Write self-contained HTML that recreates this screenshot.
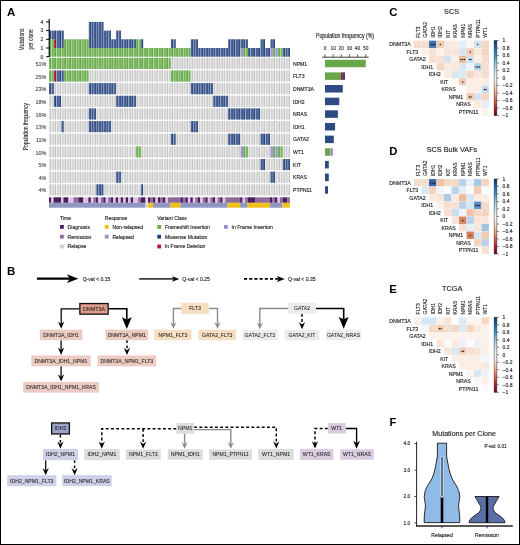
<!DOCTYPE html>
<html><head><meta charset="utf-8"><style>
html,body{margin:0;padding:0;background:#fff;}
svg{display:block;}
text{font-family:"Liberation Sans", sans-serif;}
</style></head><body>
<div style="will-change:transform;width:520px;height:545px">
<svg width="520" height="545" viewBox="0 0 520 545" font-family='"Liberation Sans", sans-serif'>
<rect width="520" height="545" fill="#fff"/>
<rect x="49.000" y="57.800" width="2.038" height="11.150" fill="#7bb663"/>
<rect x="50.438" y="57.800" width="0.600" height="11.150" fill="#52a02c"/>
<rect x="51.488" y="57.800" width="2.038" height="11.150" fill="#7bb663"/>
<rect x="52.926" y="57.800" width="0.600" height="11.150" fill="#52a02c"/>
<rect x="53.976" y="57.800" width="2.038" height="11.150" fill="#7bb663"/>
<rect x="55.414" y="57.800" width="0.600" height="11.150" fill="#52a02c"/>
<rect x="56.464" y="57.800" width="2.038" height="11.150" fill="#7bb663"/>
<rect x="57.902" y="57.800" width="0.600" height="11.150" fill="#52a02c"/>
<rect x="58.952" y="57.800" width="2.038" height="11.150" fill="#7bb663"/>
<rect x="60.390" y="57.800" width="0.600" height="11.150" fill="#52a02c"/>
<rect x="61.440" y="57.800" width="2.038" height="11.150" fill="#7bb663"/>
<rect x="62.878" y="57.800" width="0.600" height="11.150" fill="#52a02c"/>
<rect x="63.928" y="57.800" width="2.038" height="11.150" fill="#7bb663"/>
<rect x="65.366" y="57.800" width="0.600" height="11.150" fill="#52a02c"/>
<rect x="66.416" y="57.800" width="2.038" height="11.150" fill="#7bb663"/>
<rect x="67.854" y="57.800" width="0.600" height="11.150" fill="#52a02c"/>
<rect x="68.904" y="57.800" width="2.038" height="11.150" fill="#7bb663"/>
<rect x="70.342" y="57.800" width="0.600" height="11.150" fill="#52a02c"/>
<rect x="71.392" y="57.800" width="2.038" height="11.150" fill="#7bb663"/>
<rect x="72.830" y="57.800" width="0.600" height="11.150" fill="#52a02c"/>
<rect x="73.880" y="57.800" width="2.038" height="11.150" fill="#7bb663"/>
<rect x="75.318" y="57.800" width="0.600" height="11.150" fill="#52a02c"/>
<rect x="76.368" y="57.800" width="2.038" height="11.150" fill="#7bb663"/>
<rect x="77.806" y="57.800" width="0.600" height="11.150" fill="#52a02c"/>
<rect x="78.856" y="57.800" width="2.038" height="11.150" fill="#7bb663"/>
<rect x="80.294" y="57.800" width="0.600" height="11.150" fill="#52a02c"/>
<rect x="81.344" y="57.800" width="2.038" height="11.150" fill="#7bb663"/>
<rect x="82.782" y="57.800" width="0.600" height="11.150" fill="#52a02c"/>
<rect x="83.832" y="57.800" width="2.038" height="11.150" fill="#7bb663"/>
<rect x="85.270" y="57.800" width="0.600" height="11.150" fill="#52a02c"/>
<rect x="86.320" y="57.800" width="2.038" height="11.150" fill="#7bb663"/>
<rect x="87.758" y="57.800" width="0.600" height="11.150" fill="#52a02c"/>
<rect x="88.808" y="57.800" width="2.038" height="11.150" fill="#7bb663"/>
<rect x="90.246" y="57.800" width="0.600" height="11.150" fill="#52a02c"/>
<rect x="91.296" y="57.800" width="2.038" height="11.150" fill="#7bb663"/>
<rect x="92.734" y="57.800" width="0.600" height="11.150" fill="#52a02c"/>
<rect x="93.784" y="57.800" width="2.038" height="11.150" fill="#7bb663"/>
<rect x="95.222" y="57.800" width="0.600" height="11.150" fill="#52a02c"/>
<rect x="96.272" y="57.800" width="2.038" height="11.150" fill="#7bb663"/>
<rect x="97.710" y="57.800" width="0.600" height="11.150" fill="#52a02c"/>
<rect x="98.760" y="57.800" width="2.038" height="11.150" fill="#7bb663"/>
<rect x="100.198" y="57.800" width="0.600" height="11.150" fill="#52a02c"/>
<rect x="101.248" y="57.800" width="2.038" height="11.150" fill="#7bb663"/>
<rect x="102.686" y="57.800" width="0.600" height="11.150" fill="#52a02c"/>
<rect x="103.736" y="57.800" width="2.038" height="11.150" fill="#7bb663"/>
<rect x="105.174" y="57.800" width="0.600" height="11.150" fill="#52a02c"/>
<rect x="106.224" y="57.800" width="2.038" height="11.150" fill="#7bb663"/>
<rect x="107.662" y="57.800" width="0.600" height="11.150" fill="#52a02c"/>
<rect x="108.712" y="57.800" width="2.038" height="11.150" fill="#7bb663"/>
<rect x="110.150" y="57.800" width="0.600" height="11.150" fill="#52a02c"/>
<rect x="111.200" y="57.800" width="2.038" height="11.150" fill="#7bb663"/>
<rect x="112.638" y="57.800" width="0.600" height="11.150" fill="#52a02c"/>
<rect x="113.688" y="57.800" width="2.038" height="11.150" fill="#7bb663"/>
<rect x="115.126" y="57.800" width="0.600" height="11.150" fill="#52a02c"/>
<rect x="116.176" y="57.800" width="2.038" height="11.150" fill="#7bb663"/>
<rect x="117.614" y="57.800" width="0.600" height="11.150" fill="#52a02c"/>
<rect x="118.664" y="57.800" width="2.038" height="11.150" fill="#7bb663"/>
<rect x="120.102" y="57.800" width="0.600" height="11.150" fill="#52a02c"/>
<rect x="121.152" y="57.800" width="2.038" height="11.150" fill="#7bb663"/>
<rect x="122.590" y="57.800" width="0.600" height="11.150" fill="#52a02c"/>
<rect x="123.640" y="57.800" width="2.038" height="11.150" fill="#7bb663"/>
<rect x="125.078" y="57.800" width="0.600" height="11.150" fill="#52a02c"/>
<rect x="126.128" y="57.800" width="2.038" height="11.150" fill="#7bb663"/>
<rect x="127.566" y="57.800" width="0.600" height="11.150" fill="#52a02c"/>
<rect x="128.616" y="57.800" width="2.038" height="11.150" fill="#7bb663"/>
<rect x="130.054" y="57.800" width="0.600" height="11.150" fill="#52a02c"/>
<rect x="131.104" y="57.800" width="2.038" height="11.150" fill="#7bb663"/>
<rect x="132.542" y="57.800" width="0.600" height="11.150" fill="#52a02c"/>
<rect x="133.592" y="57.800" width="2.038" height="11.150" fill="#7bb663"/>
<rect x="135.030" y="57.800" width="0.600" height="11.150" fill="#52a02c"/>
<rect x="136.080" y="57.800" width="2.038" height="11.150" fill="#7bb663"/>
<rect x="137.518" y="57.800" width="0.600" height="11.150" fill="#52a02c"/>
<rect x="138.568" y="57.800" width="2.038" height="11.150" fill="#7bb663"/>
<rect x="140.006" y="57.800" width="0.600" height="11.150" fill="#52a02c"/>
<rect x="141.056" y="57.800" width="2.038" height="11.150" fill="#7bb663"/>
<rect x="142.494" y="57.800" width="0.600" height="11.150" fill="#52a02c"/>
<rect x="143.544" y="57.800" width="2.038" height="11.150" fill="#7bb663"/>
<rect x="144.982" y="57.800" width="0.600" height="11.150" fill="#52a02c"/>
<rect x="146.032" y="57.800" width="2.038" height="11.150" fill="#7bb663"/>
<rect x="147.470" y="57.800" width="0.600" height="11.150" fill="#52a02c"/>
<rect x="148.520" y="57.800" width="2.038" height="11.150" fill="#7bb663"/>
<rect x="149.958" y="57.800" width="0.600" height="11.150" fill="#52a02c"/>
<rect x="151.008" y="57.800" width="2.038" height="11.150" fill="#7bb663"/>
<rect x="152.446" y="57.800" width="0.600" height="11.150" fill="#52a02c"/>
<rect x="153.496" y="57.800" width="2.038" height="11.150" fill="#7bb663"/>
<rect x="154.934" y="57.800" width="0.600" height="11.150" fill="#52a02c"/>
<rect x="155.984" y="57.800" width="2.038" height="11.150" fill="#7bb663"/>
<rect x="157.422" y="57.800" width="0.600" height="11.150" fill="#52a02c"/>
<rect x="158.472" y="57.800" width="2.038" height="11.150" fill="#7bb663"/>
<rect x="159.910" y="57.800" width="0.600" height="11.150" fill="#52a02c"/>
<rect x="160.960" y="57.800" width="2.038" height="11.150" fill="#7bb663"/>
<rect x="162.398" y="57.800" width="0.600" height="11.150" fill="#52a02c"/>
<rect x="163.448" y="57.800" width="2.038" height="11.150" fill="#7bb663"/>
<rect x="164.886" y="57.800" width="0.600" height="11.150" fill="#52a02c"/>
<rect x="165.936" y="57.800" width="2.038" height="11.150" fill="#7bb663"/>
<rect x="167.374" y="57.800" width="0.600" height="11.150" fill="#52a02c"/>
<rect x="168.424" y="57.800" width="2.038" height="11.150" fill="#7bb663"/>
<rect x="169.862" y="57.800" width="0.600" height="11.150" fill="#52a02c"/>
<rect x="170.912" y="57.800" width="2.038" height="11.150" fill="#dfdfdf"/>
<rect x="172.150" y="57.800" width="0.800" height="11.150" fill="#c0c0c0"/>
<rect x="173.400" y="57.800" width="2.038" height="11.150" fill="#dfdfdf"/>
<rect x="174.638" y="57.800" width="0.800" height="11.150" fill="#c0c0c0"/>
<rect x="175.888" y="57.800" width="2.038" height="11.150" fill="#dfdfdf"/>
<rect x="177.126" y="57.800" width="0.800" height="11.150" fill="#c0c0c0"/>
<rect x="178.376" y="57.800" width="2.038" height="11.150" fill="#dfdfdf"/>
<rect x="179.614" y="57.800" width="0.800" height="11.150" fill="#c0c0c0"/>
<rect x="180.864" y="57.800" width="2.038" height="11.150" fill="#dfdfdf"/>
<rect x="182.102" y="57.800" width="0.800" height="11.150" fill="#c0c0c0"/>
<rect x="183.352" y="57.800" width="2.038" height="11.150" fill="#dfdfdf"/>
<rect x="184.590" y="57.800" width="0.800" height="11.150" fill="#c0c0c0"/>
<rect x="185.840" y="57.800" width="2.038" height="11.150" fill="#dfdfdf"/>
<rect x="187.078" y="57.800" width="0.800" height="11.150" fill="#c0c0c0"/>
<rect x="188.328" y="57.800" width="2.038" height="11.150" fill="#dfdfdf"/>
<rect x="189.566" y="57.800" width="0.800" height="11.150" fill="#c0c0c0"/>
<rect x="190.816" y="57.800" width="2.038" height="11.150" fill="#dfdfdf"/>
<rect x="192.054" y="57.800" width="0.800" height="11.150" fill="#c0c0c0"/>
<rect x="193.304" y="57.800" width="2.038" height="11.150" fill="#dfdfdf"/>
<rect x="194.542" y="57.800" width="0.800" height="11.150" fill="#c0c0c0"/>
<rect x="195.792" y="57.800" width="2.038" height="11.150" fill="#dfdfdf"/>
<rect x="197.030" y="57.800" width="0.800" height="11.150" fill="#c0c0c0"/>
<rect x="198.280" y="57.800" width="2.038" height="11.150" fill="#dfdfdf"/>
<rect x="199.518" y="57.800" width="0.800" height="11.150" fill="#c0c0c0"/>
<rect x="200.768" y="57.800" width="2.038" height="11.150" fill="#dfdfdf"/>
<rect x="202.006" y="57.800" width="0.800" height="11.150" fill="#c0c0c0"/>
<rect x="203.256" y="57.800" width="2.038" height="11.150" fill="#dfdfdf"/>
<rect x="204.494" y="57.800" width="0.800" height="11.150" fill="#c0c0c0"/>
<rect x="205.744" y="57.800" width="2.038" height="11.150" fill="#dfdfdf"/>
<rect x="206.982" y="57.800" width="0.800" height="11.150" fill="#c0c0c0"/>
<rect x="208.232" y="57.800" width="2.038" height="11.150" fill="#dfdfdf"/>
<rect x="209.470" y="57.800" width="0.800" height="11.150" fill="#c0c0c0"/>
<rect x="210.720" y="57.800" width="2.038" height="11.150" fill="#dfdfdf"/>
<rect x="211.958" y="57.800" width="0.800" height="11.150" fill="#c0c0c0"/>
<rect x="213.208" y="57.800" width="2.038" height="11.150" fill="#dfdfdf"/>
<rect x="214.446" y="57.800" width="0.800" height="11.150" fill="#c0c0c0"/>
<rect x="215.696" y="57.800" width="2.038" height="11.150" fill="#dfdfdf"/>
<rect x="216.934" y="57.800" width="0.800" height="11.150" fill="#c0c0c0"/>
<rect x="218.184" y="57.800" width="2.038" height="11.150" fill="#dfdfdf"/>
<rect x="219.422" y="57.800" width="0.800" height="11.150" fill="#c0c0c0"/>
<rect x="220.672" y="57.800" width="2.038" height="11.150" fill="#dfdfdf"/>
<rect x="221.910" y="57.800" width="0.800" height="11.150" fill="#c0c0c0"/>
<rect x="223.160" y="57.800" width="2.038" height="11.150" fill="#dfdfdf"/>
<rect x="224.398" y="57.800" width="0.800" height="11.150" fill="#c0c0c0"/>
<rect x="225.648" y="57.800" width="2.038" height="11.150" fill="#dfdfdf"/>
<rect x="226.886" y="57.800" width="0.800" height="11.150" fill="#c0c0c0"/>
<rect x="228.136" y="57.800" width="2.038" height="11.150" fill="#dfdfdf"/>
<rect x="229.374" y="57.800" width="0.800" height="11.150" fill="#c0c0c0"/>
<rect x="230.624" y="57.800" width="2.038" height="11.150" fill="#dfdfdf"/>
<rect x="231.862" y="57.800" width="0.800" height="11.150" fill="#c0c0c0"/>
<rect x="233.112" y="57.800" width="2.038" height="11.150" fill="#dfdfdf"/>
<rect x="234.350" y="57.800" width="0.800" height="11.150" fill="#c0c0c0"/>
<rect x="235.600" y="57.800" width="2.038" height="11.150" fill="#dfdfdf"/>
<rect x="236.838" y="57.800" width="0.800" height="11.150" fill="#c0c0c0"/>
<rect x="238.088" y="57.800" width="2.038" height="11.150" fill="#dfdfdf"/>
<rect x="239.326" y="57.800" width="0.800" height="11.150" fill="#c0c0c0"/>
<rect x="240.576" y="57.800" width="2.038" height="11.150" fill="#dfdfdf"/>
<rect x="241.814" y="57.800" width="0.800" height="11.150" fill="#c0c0c0"/>
<rect x="243.064" y="57.800" width="2.038" height="11.150" fill="#dfdfdf"/>
<rect x="244.302" y="57.800" width="0.800" height="11.150" fill="#c0c0c0"/>
<rect x="245.552" y="57.800" width="2.038" height="11.150" fill="#dfdfdf"/>
<rect x="246.790" y="57.800" width="0.800" height="11.150" fill="#c0c0c0"/>
<rect x="248.040" y="57.800" width="2.038" height="11.150" fill="#dfdfdf"/>
<rect x="249.278" y="57.800" width="0.800" height="11.150" fill="#c0c0c0"/>
<rect x="250.528" y="57.800" width="2.038" height="11.150" fill="#dfdfdf"/>
<rect x="251.766" y="57.800" width="0.800" height="11.150" fill="#c0c0c0"/>
<rect x="253.016" y="57.800" width="2.038" height="11.150" fill="#dfdfdf"/>
<rect x="254.254" y="57.800" width="0.800" height="11.150" fill="#c0c0c0"/>
<rect x="255.504" y="57.800" width="2.038" height="11.150" fill="#dfdfdf"/>
<rect x="256.742" y="57.800" width="0.800" height="11.150" fill="#c0c0c0"/>
<rect x="257.992" y="57.800" width="2.038" height="11.150" fill="#dfdfdf"/>
<rect x="259.230" y="57.800" width="0.800" height="11.150" fill="#c0c0c0"/>
<rect x="260.480" y="57.800" width="2.038" height="11.150" fill="#dfdfdf"/>
<rect x="261.718" y="57.800" width="0.800" height="11.150" fill="#c0c0c0"/>
<rect x="262.968" y="57.800" width="2.038" height="11.150" fill="#dfdfdf"/>
<rect x="264.206" y="57.800" width="0.800" height="11.150" fill="#c0c0c0"/>
<rect x="265.456" y="57.800" width="2.038" height="11.150" fill="#dfdfdf"/>
<rect x="266.694" y="57.800" width="0.800" height="11.150" fill="#c0c0c0"/>
<rect x="267.944" y="57.800" width="2.038" height="11.150" fill="#dfdfdf"/>
<rect x="269.182" y="57.800" width="0.800" height="11.150" fill="#c0c0c0"/>
<rect x="270.432" y="57.800" width="2.038" height="11.150" fill="#dfdfdf"/>
<rect x="271.670" y="57.800" width="0.800" height="11.150" fill="#c0c0c0"/>
<rect x="272.920" y="57.800" width="2.038" height="11.150" fill="#dfdfdf"/>
<rect x="274.158" y="57.800" width="0.800" height="11.150" fill="#c0c0c0"/>
<rect x="275.408" y="57.800" width="2.038" height="11.150" fill="#dfdfdf"/>
<rect x="276.646" y="57.800" width="0.800" height="11.150" fill="#c0c0c0"/>
<rect x="277.896" y="57.800" width="2.038" height="11.150" fill="#dfdfdf"/>
<rect x="279.134" y="57.800" width="0.800" height="11.150" fill="#c0c0c0"/>
<rect x="280.384" y="57.800" width="2.038" height="11.150" fill="#dfdfdf"/>
<rect x="281.622" y="57.800" width="0.800" height="11.150" fill="#c0c0c0"/>
<rect x="282.872" y="57.800" width="2.038" height="11.150" fill="#dfdfdf"/>
<rect x="284.110" y="57.800" width="0.800" height="11.150" fill="#c0c0c0"/>
<rect x="285.360" y="57.800" width="2.038" height="11.150" fill="#dfdfdf"/>
<rect x="286.598" y="57.800" width="0.800" height="11.150" fill="#c0c0c0"/>
<rect x="287.848" y="57.800" width="2.038" height="11.150" fill="#dfdfdf"/>
<rect x="289.086" y="57.800" width="0.800" height="11.150" fill="#c0c0c0"/>
<rect x="49.000" y="70.450" width="2.038" height="11.150" fill="#7bb663"/>
<rect x="50.438" y="70.450" width="0.600" height="11.150" fill="#52a02c"/>
<rect x="51.488" y="70.450" width="2.038" height="11.150" fill="#7bb663"/>
<rect x="52.926" y="70.450" width="0.600" height="11.150" fill="#52a02c"/>
<rect x="53.976" y="70.450" width="2.038" height="11.150" fill="#b8304f"/>
<rect x="55.414" y="70.450" width="0.600" height="11.150" fill="#900c2c"/>
<rect x="56.464" y="70.450" width="2.038" height="11.150" fill="#4d6699"/>
<rect x="57.902" y="70.450" width="0.600" height="11.150" fill="#17326c"/>
<rect x="58.952" y="70.450" width="2.038" height="11.150" fill="#4d6699"/>
<rect x="60.390" y="70.450" width="0.600" height="11.150" fill="#17326c"/>
<rect x="61.440" y="70.450" width="2.038" height="11.150" fill="#4d6699"/>
<rect x="62.878" y="70.450" width="0.600" height="11.150" fill="#17326c"/>
<rect x="63.928" y="70.450" width="2.038" height="11.150" fill="#7bb663"/>
<rect x="65.366" y="70.450" width="0.600" height="11.150" fill="#52a02c"/>
<rect x="66.416" y="70.450" width="2.038" height="11.150" fill="#7bb663"/>
<rect x="67.854" y="70.450" width="0.600" height="11.150" fill="#52a02c"/>
<rect x="68.904" y="70.450" width="2.038" height="11.150" fill="#7bb663"/>
<rect x="70.342" y="70.450" width="0.600" height="11.150" fill="#52a02c"/>
<rect x="71.392" y="70.450" width="2.038" height="11.150" fill="#7bb663"/>
<rect x="72.830" y="70.450" width="0.600" height="11.150" fill="#52a02c"/>
<rect x="73.880" y="70.450" width="2.038" height="11.150" fill="#7bb663"/>
<rect x="75.318" y="70.450" width="0.600" height="11.150" fill="#52a02c"/>
<rect x="76.368" y="70.450" width="2.038" height="11.150" fill="#7bb663"/>
<rect x="77.806" y="70.450" width="0.600" height="11.150" fill="#52a02c"/>
<rect x="78.856" y="70.450" width="2.038" height="11.150" fill="#7bb663"/>
<rect x="80.294" y="70.450" width="0.600" height="11.150" fill="#52a02c"/>
<rect x="81.344" y="70.450" width="2.038" height="11.150" fill="#7bb663"/>
<rect x="82.782" y="70.450" width="0.600" height="11.150" fill="#52a02c"/>
<rect x="83.832" y="70.450" width="2.038" height="11.150" fill="#7bb663"/>
<rect x="85.270" y="70.450" width="0.600" height="11.150" fill="#52a02c"/>
<rect x="86.320" y="70.450" width="2.038" height="11.150" fill="#7bb663"/>
<rect x="87.758" y="70.450" width="0.600" height="11.150" fill="#52a02c"/>
<rect x="88.808" y="70.450" width="2.038" height="11.150" fill="#dfdfdf"/>
<rect x="90.046" y="70.450" width="0.800" height="11.150" fill="#c0c0c0"/>
<rect x="91.296" y="70.450" width="2.038" height="11.150" fill="#dfdfdf"/>
<rect x="92.534" y="70.450" width="0.800" height="11.150" fill="#c0c0c0"/>
<rect x="93.784" y="70.450" width="2.038" height="11.150" fill="#dfdfdf"/>
<rect x="95.022" y="70.450" width="0.800" height="11.150" fill="#c0c0c0"/>
<rect x="96.272" y="70.450" width="2.038" height="11.150" fill="#dfdfdf"/>
<rect x="97.510" y="70.450" width="0.800" height="11.150" fill="#c0c0c0"/>
<rect x="98.760" y="70.450" width="2.038" height="11.150" fill="#dfdfdf"/>
<rect x="99.998" y="70.450" width="0.800" height="11.150" fill="#c0c0c0"/>
<rect x="101.248" y="70.450" width="2.038" height="11.150" fill="#dfdfdf"/>
<rect x="102.486" y="70.450" width="0.800" height="11.150" fill="#c0c0c0"/>
<rect x="103.736" y="70.450" width="2.038" height="11.150" fill="#dfdfdf"/>
<rect x="104.974" y="70.450" width="0.800" height="11.150" fill="#c0c0c0"/>
<rect x="106.224" y="70.450" width="2.038" height="11.150" fill="#dfdfdf"/>
<rect x="107.462" y="70.450" width="0.800" height="11.150" fill="#c0c0c0"/>
<rect x="108.712" y="70.450" width="2.038" height="11.150" fill="#dfdfdf"/>
<rect x="109.950" y="70.450" width="0.800" height="11.150" fill="#c0c0c0"/>
<rect x="111.200" y="70.450" width="2.038" height="11.150" fill="#dfdfdf"/>
<rect x="112.438" y="70.450" width="0.800" height="11.150" fill="#c0c0c0"/>
<rect x="113.688" y="70.450" width="2.038" height="11.150" fill="#dfdfdf"/>
<rect x="114.926" y="70.450" width="0.800" height="11.150" fill="#c0c0c0"/>
<rect x="116.176" y="70.450" width="2.038" height="11.150" fill="#dfdfdf"/>
<rect x="117.414" y="70.450" width="0.800" height="11.150" fill="#c0c0c0"/>
<rect x="118.664" y="70.450" width="2.038" height="11.150" fill="#dfdfdf"/>
<rect x="119.902" y="70.450" width="0.800" height="11.150" fill="#c0c0c0"/>
<rect x="121.152" y="70.450" width="2.038" height="11.150" fill="#dfdfdf"/>
<rect x="122.390" y="70.450" width="0.800" height="11.150" fill="#c0c0c0"/>
<rect x="123.640" y="70.450" width="2.038" height="11.150" fill="#dfdfdf"/>
<rect x="124.878" y="70.450" width="0.800" height="11.150" fill="#c0c0c0"/>
<rect x="126.128" y="70.450" width="2.038" height="11.150" fill="#dfdfdf"/>
<rect x="127.366" y="70.450" width="0.800" height="11.150" fill="#c0c0c0"/>
<rect x="128.616" y="70.450" width="2.038" height="11.150" fill="#dfdfdf"/>
<rect x="129.854" y="70.450" width="0.800" height="11.150" fill="#c0c0c0"/>
<rect x="131.104" y="70.450" width="2.038" height="11.150" fill="#dfdfdf"/>
<rect x="132.342" y="70.450" width="0.800" height="11.150" fill="#c0c0c0"/>
<rect x="133.592" y="70.450" width="2.038" height="11.150" fill="#dfdfdf"/>
<rect x="134.830" y="70.450" width="0.800" height="11.150" fill="#c0c0c0"/>
<rect x="136.080" y="70.450" width="2.038" height="11.150" fill="#dfdfdf"/>
<rect x="137.318" y="70.450" width="0.800" height="11.150" fill="#c0c0c0"/>
<rect x="138.568" y="70.450" width="2.038" height="11.150" fill="#dfdfdf"/>
<rect x="139.806" y="70.450" width="0.800" height="11.150" fill="#c0c0c0"/>
<rect x="141.056" y="70.450" width="2.038" height="11.150" fill="#dfdfdf"/>
<rect x="142.294" y="70.450" width="0.800" height="11.150" fill="#c0c0c0"/>
<rect x="143.544" y="70.450" width="2.038" height="11.150" fill="#dfdfdf"/>
<rect x="144.782" y="70.450" width="0.800" height="11.150" fill="#c0c0c0"/>
<rect x="146.032" y="70.450" width="2.038" height="11.150" fill="#dfdfdf"/>
<rect x="147.270" y="70.450" width="0.800" height="11.150" fill="#c0c0c0"/>
<rect x="148.520" y="70.450" width="2.038" height="11.150" fill="#dfdfdf"/>
<rect x="149.758" y="70.450" width="0.800" height="11.150" fill="#c0c0c0"/>
<rect x="151.008" y="70.450" width="2.038" height="11.150" fill="#dfdfdf"/>
<rect x="152.246" y="70.450" width="0.800" height="11.150" fill="#c0c0c0"/>
<rect x="153.496" y="70.450" width="2.038" height="11.150" fill="#dfdfdf"/>
<rect x="154.734" y="70.450" width="0.800" height="11.150" fill="#c0c0c0"/>
<rect x="155.984" y="70.450" width="2.038" height="11.150" fill="#dfdfdf"/>
<rect x="157.222" y="70.450" width="0.800" height="11.150" fill="#c0c0c0"/>
<rect x="158.472" y="70.450" width="2.038" height="11.150" fill="#dfdfdf"/>
<rect x="159.710" y="70.450" width="0.800" height="11.150" fill="#c0c0c0"/>
<rect x="160.960" y="70.450" width="2.038" height="11.150" fill="#dfdfdf"/>
<rect x="162.198" y="70.450" width="0.800" height="11.150" fill="#c0c0c0"/>
<rect x="163.448" y="70.450" width="2.038" height="11.150" fill="#dfdfdf"/>
<rect x="164.686" y="70.450" width="0.800" height="11.150" fill="#c0c0c0"/>
<rect x="165.936" y="70.450" width="2.038" height="11.150" fill="#dfdfdf"/>
<rect x="167.174" y="70.450" width="0.800" height="11.150" fill="#c0c0c0"/>
<rect x="168.424" y="70.450" width="2.038" height="11.150" fill="#dfdfdf"/>
<rect x="169.662" y="70.450" width="0.800" height="11.150" fill="#c0c0c0"/>
<rect x="170.912" y="70.450" width="2.038" height="11.150" fill="#7bb663"/>
<rect x="172.350" y="70.450" width="0.600" height="11.150" fill="#52a02c"/>
<rect x="173.400" y="70.450" width="2.038" height="11.150" fill="#7bb663"/>
<rect x="174.838" y="70.450" width="0.600" height="11.150" fill="#52a02c"/>
<rect x="175.888" y="70.450" width="2.038" height="11.150" fill="#7bb663"/>
<rect x="177.326" y="70.450" width="0.600" height="11.150" fill="#52a02c"/>
<rect x="178.376" y="70.450" width="2.038" height="11.150" fill="#7bb663"/>
<rect x="179.814" y="70.450" width="0.600" height="11.150" fill="#52a02c"/>
<rect x="180.864" y="70.450" width="2.038" height="11.150" fill="#7bb663"/>
<rect x="182.302" y="70.450" width="0.600" height="11.150" fill="#52a02c"/>
<rect x="183.352" y="70.450" width="2.038" height="11.150" fill="#7bb663"/>
<rect x="184.790" y="70.450" width="0.600" height="11.150" fill="#52a02c"/>
<rect x="185.840" y="70.450" width="2.038" height="11.150" fill="#7bb663"/>
<rect x="187.278" y="70.450" width="0.600" height="11.150" fill="#52a02c"/>
<rect x="188.328" y="70.450" width="2.038" height="11.150" fill="#7bb663"/>
<rect x="189.766" y="70.450" width="0.600" height="11.150" fill="#52a02c"/>
<rect x="190.816" y="70.450" width="2.038" height="11.150" fill="#dfdfdf"/>
<rect x="192.054" y="70.450" width="0.800" height="11.150" fill="#c0c0c0"/>
<rect x="193.304" y="70.450" width="2.038" height="11.150" fill="#dfdfdf"/>
<rect x="194.542" y="70.450" width="0.800" height="11.150" fill="#c0c0c0"/>
<rect x="195.792" y="70.450" width="2.038" height="11.150" fill="#dfdfdf"/>
<rect x="197.030" y="70.450" width="0.800" height="11.150" fill="#c0c0c0"/>
<rect x="198.280" y="70.450" width="2.038" height="11.150" fill="#dfdfdf"/>
<rect x="199.518" y="70.450" width="0.800" height="11.150" fill="#c0c0c0"/>
<rect x="200.768" y="70.450" width="2.038" height="11.150" fill="#dfdfdf"/>
<rect x="202.006" y="70.450" width="0.800" height="11.150" fill="#c0c0c0"/>
<rect x="203.256" y="70.450" width="2.038" height="11.150" fill="#dfdfdf"/>
<rect x="204.494" y="70.450" width="0.800" height="11.150" fill="#c0c0c0"/>
<rect x="205.744" y="70.450" width="2.038" height="11.150" fill="#dfdfdf"/>
<rect x="206.982" y="70.450" width="0.800" height="11.150" fill="#c0c0c0"/>
<rect x="208.232" y="70.450" width="2.038" height="11.150" fill="#dfdfdf"/>
<rect x="209.470" y="70.450" width="0.800" height="11.150" fill="#c0c0c0"/>
<rect x="210.720" y="70.450" width="2.038" height="11.150" fill="#dfdfdf"/>
<rect x="211.958" y="70.450" width="0.800" height="11.150" fill="#c0c0c0"/>
<rect x="213.208" y="70.450" width="2.038" height="11.150" fill="#dfdfdf"/>
<rect x="214.446" y="70.450" width="0.800" height="11.150" fill="#c0c0c0"/>
<rect x="215.696" y="70.450" width="2.038" height="11.150" fill="#dfdfdf"/>
<rect x="216.934" y="70.450" width="0.800" height="11.150" fill="#c0c0c0"/>
<rect x="218.184" y="70.450" width="2.038" height="11.150" fill="#dfdfdf"/>
<rect x="219.422" y="70.450" width="0.800" height="11.150" fill="#c0c0c0"/>
<rect x="220.672" y="70.450" width="2.038" height="11.150" fill="#dfdfdf"/>
<rect x="221.910" y="70.450" width="0.800" height="11.150" fill="#c0c0c0"/>
<rect x="223.160" y="70.450" width="2.038" height="11.150" fill="#dfdfdf"/>
<rect x="224.398" y="70.450" width="0.800" height="11.150" fill="#c0c0c0"/>
<rect x="225.648" y="70.450" width="2.038" height="11.150" fill="#dfdfdf"/>
<rect x="226.886" y="70.450" width="0.800" height="11.150" fill="#c0c0c0"/>
<rect x="228.136" y="70.450" width="2.038" height="11.150" fill="#dfdfdf"/>
<rect x="229.374" y="70.450" width="0.800" height="11.150" fill="#c0c0c0"/>
<rect x="230.624" y="70.450" width="2.038" height="11.150" fill="#dfdfdf"/>
<rect x="231.862" y="70.450" width="0.800" height="11.150" fill="#c0c0c0"/>
<rect x="233.112" y="70.450" width="2.038" height="11.150" fill="#dfdfdf"/>
<rect x="234.350" y="70.450" width="0.800" height="11.150" fill="#c0c0c0"/>
<rect x="235.600" y="70.450" width="2.038" height="11.150" fill="#dfdfdf"/>
<rect x="236.838" y="70.450" width="0.800" height="11.150" fill="#c0c0c0"/>
<rect x="238.088" y="70.450" width="2.038" height="11.150" fill="#dfdfdf"/>
<rect x="239.326" y="70.450" width="0.800" height="11.150" fill="#c0c0c0"/>
<rect x="240.576" y="70.450" width="2.038" height="11.150" fill="#dfdfdf"/>
<rect x="241.814" y="70.450" width="0.800" height="11.150" fill="#c0c0c0"/>
<rect x="243.064" y="70.450" width="2.038" height="11.150" fill="#dfdfdf"/>
<rect x="244.302" y="70.450" width="0.800" height="11.150" fill="#c0c0c0"/>
<rect x="245.552" y="70.450" width="2.038" height="11.150" fill="#dfdfdf"/>
<rect x="246.790" y="70.450" width="0.800" height="11.150" fill="#c0c0c0"/>
<rect x="248.040" y="70.450" width="2.038" height="11.150" fill="#dfdfdf"/>
<rect x="249.278" y="70.450" width="0.800" height="11.150" fill="#c0c0c0"/>
<rect x="250.528" y="70.450" width="2.038" height="11.150" fill="#dfdfdf"/>
<rect x="251.766" y="70.450" width="0.800" height="11.150" fill="#c0c0c0"/>
<rect x="253.016" y="70.450" width="2.038" height="11.150" fill="#dfdfdf"/>
<rect x="254.254" y="70.450" width="0.800" height="11.150" fill="#c0c0c0"/>
<rect x="255.504" y="70.450" width="2.038" height="11.150" fill="#dfdfdf"/>
<rect x="256.742" y="70.450" width="0.800" height="11.150" fill="#c0c0c0"/>
<rect x="257.992" y="70.450" width="2.038" height="11.150" fill="#dfdfdf"/>
<rect x="259.230" y="70.450" width="0.800" height="11.150" fill="#c0c0c0"/>
<rect x="260.480" y="70.450" width="2.038" height="11.150" fill="#dfdfdf"/>
<rect x="261.718" y="70.450" width="0.800" height="11.150" fill="#c0c0c0"/>
<rect x="262.968" y="70.450" width="2.038" height="11.150" fill="#dfdfdf"/>
<rect x="264.206" y="70.450" width="0.800" height="11.150" fill="#c0c0c0"/>
<rect x="265.456" y="70.450" width="2.038" height="11.150" fill="#dfdfdf"/>
<rect x="266.694" y="70.450" width="0.800" height="11.150" fill="#c0c0c0"/>
<rect x="267.944" y="70.450" width="2.038" height="11.150" fill="#dfdfdf"/>
<rect x="269.182" y="70.450" width="0.800" height="11.150" fill="#c0c0c0"/>
<rect x="270.432" y="70.450" width="2.038" height="11.150" fill="#dfdfdf"/>
<rect x="271.670" y="70.450" width="0.800" height="11.150" fill="#c0c0c0"/>
<rect x="272.920" y="70.450" width="2.038" height="11.150" fill="#dfdfdf"/>
<rect x="274.158" y="70.450" width="0.800" height="11.150" fill="#c0c0c0"/>
<rect x="275.408" y="70.450" width="2.038" height="11.150" fill="#dfdfdf"/>
<rect x="276.646" y="70.450" width="0.800" height="11.150" fill="#c0c0c0"/>
<rect x="277.896" y="70.450" width="2.038" height="11.150" fill="#dfdfdf"/>
<rect x="279.134" y="70.450" width="0.800" height="11.150" fill="#c0c0c0"/>
<rect x="280.384" y="70.450" width="2.038" height="11.150" fill="#dfdfdf"/>
<rect x="281.622" y="70.450" width="0.800" height="11.150" fill="#c0c0c0"/>
<rect x="282.872" y="70.450" width="2.038" height="11.150" fill="#dfdfdf"/>
<rect x="284.110" y="70.450" width="0.800" height="11.150" fill="#c0c0c0"/>
<rect x="285.360" y="70.450" width="2.038" height="11.150" fill="#dfdfdf"/>
<rect x="286.598" y="70.450" width="0.800" height="11.150" fill="#c0c0c0"/>
<rect x="287.848" y="70.450" width="2.038" height="11.150" fill="#dfdfdf"/>
<rect x="289.086" y="70.450" width="0.800" height="11.150" fill="#c0c0c0"/>
<rect x="49.000" y="83.100" width="2.038" height="11.150" fill="#4d6699"/>
<rect x="50.438" y="83.100" width="0.600" height="11.150" fill="#17326c"/>
<rect x="51.488" y="83.100" width="2.038" height="11.150" fill="#4d6699"/>
<rect x="52.926" y="83.100" width="0.600" height="11.150" fill="#17326c"/>
<rect x="53.976" y="83.100" width="2.038" height="11.150" fill="#dfdfdf"/>
<rect x="55.214" y="83.100" width="0.800" height="11.150" fill="#c0c0c0"/>
<rect x="56.464" y="83.100" width="2.038" height="11.150" fill="#dfdfdf"/>
<rect x="57.702" y="83.100" width="0.800" height="11.150" fill="#c0c0c0"/>
<rect x="58.952" y="83.100" width="2.038" height="11.150" fill="#dfdfdf"/>
<rect x="60.190" y="83.100" width="0.800" height="11.150" fill="#c0c0c0"/>
<rect x="61.440" y="83.100" width="2.038" height="11.150" fill="#dfdfdf"/>
<rect x="62.678" y="83.100" width="0.800" height="11.150" fill="#c0c0c0"/>
<rect x="63.928" y="83.100" width="2.038" height="11.150" fill="#dfdfdf"/>
<rect x="65.166" y="83.100" width="0.800" height="11.150" fill="#c0c0c0"/>
<rect x="66.416" y="83.100" width="2.038" height="11.150" fill="#dfdfdf"/>
<rect x="67.654" y="83.100" width="0.800" height="11.150" fill="#c0c0c0"/>
<rect x="68.904" y="83.100" width="2.038" height="11.150" fill="#dfdfdf"/>
<rect x="70.142" y="83.100" width="0.800" height="11.150" fill="#c0c0c0"/>
<rect x="71.392" y="83.100" width="2.038" height="11.150" fill="#dfdfdf"/>
<rect x="72.630" y="83.100" width="0.800" height="11.150" fill="#c0c0c0"/>
<rect x="73.880" y="83.100" width="2.038" height="11.150" fill="#dfdfdf"/>
<rect x="75.118" y="83.100" width="0.800" height="11.150" fill="#c0c0c0"/>
<rect x="76.368" y="83.100" width="2.038" height="11.150" fill="#dfdfdf"/>
<rect x="77.606" y="83.100" width="0.800" height="11.150" fill="#c0c0c0"/>
<rect x="78.856" y="83.100" width="2.038" height="11.150" fill="#dfdfdf"/>
<rect x="80.094" y="83.100" width="0.800" height="11.150" fill="#c0c0c0"/>
<rect x="81.344" y="83.100" width="2.038" height="11.150" fill="#dfdfdf"/>
<rect x="82.582" y="83.100" width="0.800" height="11.150" fill="#c0c0c0"/>
<rect x="83.832" y="83.100" width="2.038" height="11.150" fill="#dfdfdf"/>
<rect x="85.070" y="83.100" width="0.800" height="11.150" fill="#c0c0c0"/>
<rect x="86.320" y="83.100" width="2.038" height="11.150" fill="#dfdfdf"/>
<rect x="87.558" y="83.100" width="0.800" height="11.150" fill="#c0c0c0"/>
<rect x="88.808" y="83.100" width="2.038" height="11.150" fill="#4d6699"/>
<rect x="90.246" y="83.100" width="0.600" height="11.150" fill="#17326c"/>
<rect x="91.296" y="83.100" width="2.038" height="11.150" fill="#4d6699"/>
<rect x="92.734" y="83.100" width="0.600" height="11.150" fill="#17326c"/>
<rect x="93.784" y="83.100" width="2.038" height="11.150" fill="#4d6699"/>
<rect x="95.222" y="83.100" width="0.600" height="11.150" fill="#17326c"/>
<rect x="96.272" y="83.100" width="2.038" height="11.150" fill="#4d6699"/>
<rect x="97.710" y="83.100" width="0.600" height="11.150" fill="#17326c"/>
<rect x="98.760" y="83.100" width="2.038" height="11.150" fill="#4d6699"/>
<rect x="100.198" y="83.100" width="0.600" height="11.150" fill="#17326c"/>
<rect x="101.248" y="83.100" width="2.038" height="11.150" fill="#4d6699"/>
<rect x="102.686" y="83.100" width="0.600" height="11.150" fill="#17326c"/>
<rect x="103.736" y="83.100" width="2.038" height="11.150" fill="#4d6699"/>
<rect x="105.174" y="83.100" width="0.600" height="11.150" fill="#17326c"/>
<rect x="106.224" y="83.100" width="2.038" height="11.150" fill="#4d6699"/>
<rect x="107.662" y="83.100" width="0.600" height="11.150" fill="#17326c"/>
<rect x="108.712" y="83.100" width="2.038" height="11.150" fill="#4d6699"/>
<rect x="110.150" y="83.100" width="0.600" height="11.150" fill="#17326c"/>
<rect x="111.200" y="83.100" width="2.038" height="11.150" fill="#4d6699"/>
<rect x="112.638" y="83.100" width="0.600" height="11.150" fill="#17326c"/>
<rect x="113.688" y="83.100" width="2.038" height="11.150" fill="#4d6699"/>
<rect x="115.126" y="83.100" width="0.600" height="11.150" fill="#17326c"/>
<rect x="116.176" y="83.100" width="2.038" height="11.150" fill="#dfdfdf"/>
<rect x="117.414" y="83.100" width="0.800" height="11.150" fill="#c0c0c0"/>
<rect x="118.664" y="83.100" width="2.038" height="11.150" fill="#dfdfdf"/>
<rect x="119.902" y="83.100" width="0.800" height="11.150" fill="#c0c0c0"/>
<rect x="121.152" y="83.100" width="2.038" height="11.150" fill="#dfdfdf"/>
<rect x="122.390" y="83.100" width="0.800" height="11.150" fill="#c0c0c0"/>
<rect x="123.640" y="83.100" width="2.038" height="11.150" fill="#dfdfdf"/>
<rect x="124.878" y="83.100" width="0.800" height="11.150" fill="#c0c0c0"/>
<rect x="126.128" y="83.100" width="2.038" height="11.150" fill="#dfdfdf"/>
<rect x="127.366" y="83.100" width="0.800" height="11.150" fill="#c0c0c0"/>
<rect x="128.616" y="83.100" width="2.038" height="11.150" fill="#dfdfdf"/>
<rect x="129.854" y="83.100" width="0.800" height="11.150" fill="#c0c0c0"/>
<rect x="131.104" y="83.100" width="2.038" height="11.150" fill="#dfdfdf"/>
<rect x="132.342" y="83.100" width="0.800" height="11.150" fill="#c0c0c0"/>
<rect x="133.592" y="83.100" width="2.038" height="11.150" fill="#dfdfdf"/>
<rect x="134.830" y="83.100" width="0.800" height="11.150" fill="#c0c0c0"/>
<rect x="136.080" y="83.100" width="2.038" height="11.150" fill="#dfdfdf"/>
<rect x="137.318" y="83.100" width="0.800" height="11.150" fill="#c0c0c0"/>
<rect x="138.568" y="83.100" width="2.038" height="11.150" fill="#dfdfdf"/>
<rect x="139.806" y="83.100" width="0.800" height="11.150" fill="#c0c0c0"/>
<rect x="141.056" y="83.100" width="2.038" height="11.150" fill="#dfdfdf"/>
<rect x="142.294" y="83.100" width="0.800" height="11.150" fill="#c0c0c0"/>
<rect x="143.544" y="83.100" width="2.038" height="11.150" fill="#dfdfdf"/>
<rect x="144.782" y="83.100" width="0.800" height="11.150" fill="#c0c0c0"/>
<rect x="146.032" y="83.100" width="2.038" height="11.150" fill="#dfdfdf"/>
<rect x="147.270" y="83.100" width="0.800" height="11.150" fill="#c0c0c0"/>
<rect x="148.520" y="83.100" width="2.038" height="11.150" fill="#dfdfdf"/>
<rect x="149.758" y="83.100" width="0.800" height="11.150" fill="#c0c0c0"/>
<rect x="151.008" y="83.100" width="2.038" height="11.150" fill="#dfdfdf"/>
<rect x="152.246" y="83.100" width="0.800" height="11.150" fill="#c0c0c0"/>
<rect x="153.496" y="83.100" width="2.038" height="11.150" fill="#dfdfdf"/>
<rect x="154.734" y="83.100" width="0.800" height="11.150" fill="#c0c0c0"/>
<rect x="155.984" y="83.100" width="2.038" height="11.150" fill="#dfdfdf"/>
<rect x="157.222" y="83.100" width="0.800" height="11.150" fill="#c0c0c0"/>
<rect x="158.472" y="83.100" width="2.038" height="11.150" fill="#dfdfdf"/>
<rect x="159.710" y="83.100" width="0.800" height="11.150" fill="#c0c0c0"/>
<rect x="160.960" y="83.100" width="2.038" height="11.150" fill="#dfdfdf"/>
<rect x="162.198" y="83.100" width="0.800" height="11.150" fill="#c0c0c0"/>
<rect x="163.448" y="83.100" width="2.038" height="11.150" fill="#dfdfdf"/>
<rect x="164.686" y="83.100" width="0.800" height="11.150" fill="#c0c0c0"/>
<rect x="165.936" y="83.100" width="2.038" height="11.150" fill="#dfdfdf"/>
<rect x="167.174" y="83.100" width="0.800" height="11.150" fill="#c0c0c0"/>
<rect x="168.424" y="83.100" width="2.038" height="11.150" fill="#dfdfdf"/>
<rect x="169.662" y="83.100" width="0.800" height="11.150" fill="#c0c0c0"/>
<rect x="170.912" y="83.100" width="2.038" height="11.150" fill="#dfdfdf"/>
<rect x="172.150" y="83.100" width="0.800" height="11.150" fill="#c0c0c0"/>
<rect x="173.400" y="83.100" width="2.038" height="11.150" fill="#dfdfdf"/>
<rect x="174.638" y="83.100" width="0.800" height="11.150" fill="#c0c0c0"/>
<rect x="175.888" y="83.100" width="2.038" height="11.150" fill="#dfdfdf"/>
<rect x="177.126" y="83.100" width="0.800" height="11.150" fill="#c0c0c0"/>
<rect x="178.376" y="83.100" width="2.038" height="11.150" fill="#dfdfdf"/>
<rect x="179.614" y="83.100" width="0.800" height="11.150" fill="#c0c0c0"/>
<rect x="180.864" y="83.100" width="2.038" height="11.150" fill="#dfdfdf"/>
<rect x="182.102" y="83.100" width="0.800" height="11.150" fill="#c0c0c0"/>
<rect x="183.352" y="83.100" width="2.038" height="11.150" fill="#dfdfdf"/>
<rect x="184.590" y="83.100" width="0.800" height="11.150" fill="#c0c0c0"/>
<rect x="185.840" y="83.100" width="2.038" height="11.150" fill="#dfdfdf"/>
<rect x="187.078" y="83.100" width="0.800" height="11.150" fill="#c0c0c0"/>
<rect x="188.328" y="83.100" width="2.038" height="11.150" fill="#dfdfdf"/>
<rect x="189.566" y="83.100" width="0.800" height="11.150" fill="#c0c0c0"/>
<rect x="190.816" y="83.100" width="2.038" height="11.150" fill="#4d6699"/>
<rect x="192.254" y="83.100" width="0.600" height="11.150" fill="#17326c"/>
<rect x="193.304" y="83.100" width="2.038" height="11.150" fill="#4d6699"/>
<rect x="194.742" y="83.100" width="0.600" height="11.150" fill="#17326c"/>
<rect x="195.792" y="83.100" width="2.038" height="11.150" fill="#4d6699"/>
<rect x="197.230" y="83.100" width="0.600" height="11.150" fill="#17326c"/>
<rect x="198.280" y="83.100" width="2.038" height="11.150" fill="#4d6699"/>
<rect x="199.718" y="83.100" width="0.600" height="11.150" fill="#17326c"/>
<rect x="200.768" y="83.100" width="2.038" height="11.150" fill="#4d6699"/>
<rect x="202.206" y="83.100" width="0.600" height="11.150" fill="#17326c"/>
<rect x="203.256" y="83.100" width="2.038" height="11.150" fill="#4d6699"/>
<rect x="204.694" y="83.100" width="0.600" height="11.150" fill="#17326c"/>
<rect x="205.744" y="83.100" width="2.038" height="11.150" fill="#4d6699"/>
<rect x="207.182" y="83.100" width="0.600" height="11.150" fill="#17326c"/>
<rect x="208.232" y="83.100" width="2.038" height="11.150" fill="#4d6699"/>
<rect x="209.670" y="83.100" width="0.600" height="11.150" fill="#17326c"/>
<rect x="210.720" y="83.100" width="2.038" height="11.150" fill="#4d6699"/>
<rect x="212.158" y="83.100" width="0.600" height="11.150" fill="#17326c"/>
<rect x="213.208" y="83.100" width="2.038" height="11.150" fill="#dfdfdf"/>
<rect x="214.446" y="83.100" width="0.800" height="11.150" fill="#c0c0c0"/>
<rect x="215.696" y="83.100" width="2.038" height="11.150" fill="#dfdfdf"/>
<rect x="216.934" y="83.100" width="0.800" height="11.150" fill="#c0c0c0"/>
<rect x="218.184" y="83.100" width="2.038" height="11.150" fill="#dfdfdf"/>
<rect x="219.422" y="83.100" width="0.800" height="11.150" fill="#c0c0c0"/>
<rect x="220.672" y="83.100" width="2.038" height="11.150" fill="#dfdfdf"/>
<rect x="221.910" y="83.100" width="0.800" height="11.150" fill="#c0c0c0"/>
<rect x="223.160" y="83.100" width="2.038" height="11.150" fill="#dfdfdf"/>
<rect x="224.398" y="83.100" width="0.800" height="11.150" fill="#c0c0c0"/>
<rect x="225.648" y="83.100" width="2.038" height="11.150" fill="#dfdfdf"/>
<rect x="226.886" y="83.100" width="0.800" height="11.150" fill="#c0c0c0"/>
<rect x="228.136" y="83.100" width="2.038" height="11.150" fill="#dfdfdf"/>
<rect x="229.374" y="83.100" width="0.800" height="11.150" fill="#c0c0c0"/>
<rect x="230.624" y="83.100" width="2.038" height="11.150" fill="#dfdfdf"/>
<rect x="231.862" y="83.100" width="0.800" height="11.150" fill="#c0c0c0"/>
<rect x="233.112" y="83.100" width="2.038" height="11.150" fill="#dfdfdf"/>
<rect x="234.350" y="83.100" width="0.800" height="11.150" fill="#c0c0c0"/>
<rect x="235.600" y="83.100" width="2.038" height="11.150" fill="#dfdfdf"/>
<rect x="236.838" y="83.100" width="0.800" height="11.150" fill="#c0c0c0"/>
<rect x="238.088" y="83.100" width="2.038" height="11.150" fill="#dfdfdf"/>
<rect x="239.326" y="83.100" width="0.800" height="11.150" fill="#c0c0c0"/>
<rect x="240.576" y="83.100" width="2.038" height="11.150" fill="#dfdfdf"/>
<rect x="241.814" y="83.100" width="0.800" height="11.150" fill="#c0c0c0"/>
<rect x="243.064" y="83.100" width="2.038" height="11.150" fill="#dfdfdf"/>
<rect x="244.302" y="83.100" width="0.800" height="11.150" fill="#c0c0c0"/>
<rect x="245.552" y="83.100" width="2.038" height="11.150" fill="#dfdfdf"/>
<rect x="246.790" y="83.100" width="0.800" height="11.150" fill="#c0c0c0"/>
<rect x="248.040" y="83.100" width="2.038" height="11.150" fill="#dfdfdf"/>
<rect x="249.278" y="83.100" width="0.800" height="11.150" fill="#c0c0c0"/>
<rect x="250.528" y="83.100" width="2.038" height="11.150" fill="#dfdfdf"/>
<rect x="251.766" y="83.100" width="0.800" height="11.150" fill="#c0c0c0"/>
<rect x="253.016" y="83.100" width="2.038" height="11.150" fill="#dfdfdf"/>
<rect x="254.254" y="83.100" width="0.800" height="11.150" fill="#c0c0c0"/>
<rect x="255.504" y="83.100" width="2.038" height="11.150" fill="#dfdfdf"/>
<rect x="256.742" y="83.100" width="0.800" height="11.150" fill="#c0c0c0"/>
<rect x="257.992" y="83.100" width="2.038" height="11.150" fill="#dfdfdf"/>
<rect x="259.230" y="83.100" width="0.800" height="11.150" fill="#c0c0c0"/>
<rect x="260.480" y="83.100" width="2.038" height="11.150" fill="#dfdfdf"/>
<rect x="261.718" y="83.100" width="0.800" height="11.150" fill="#c0c0c0"/>
<rect x="262.968" y="83.100" width="2.038" height="11.150" fill="#dfdfdf"/>
<rect x="264.206" y="83.100" width="0.800" height="11.150" fill="#c0c0c0"/>
<rect x="265.456" y="83.100" width="2.038" height="11.150" fill="#dfdfdf"/>
<rect x="266.694" y="83.100" width="0.800" height="11.150" fill="#c0c0c0"/>
<rect x="267.944" y="83.100" width="2.038" height="11.150" fill="#dfdfdf"/>
<rect x="269.182" y="83.100" width="0.800" height="11.150" fill="#c0c0c0"/>
<rect x="270.432" y="83.100" width="2.038" height="11.150" fill="#dfdfdf"/>
<rect x="271.670" y="83.100" width="0.800" height="11.150" fill="#c0c0c0"/>
<rect x="272.920" y="83.100" width="2.038" height="11.150" fill="#dfdfdf"/>
<rect x="274.158" y="83.100" width="0.800" height="11.150" fill="#c0c0c0"/>
<rect x="275.408" y="83.100" width="2.038" height="11.150" fill="#dfdfdf"/>
<rect x="276.646" y="83.100" width="0.800" height="11.150" fill="#c0c0c0"/>
<rect x="277.896" y="83.100" width="2.038" height="11.150" fill="#dfdfdf"/>
<rect x="279.134" y="83.100" width="0.800" height="11.150" fill="#c0c0c0"/>
<rect x="280.384" y="83.100" width="2.038" height="11.150" fill="#dfdfdf"/>
<rect x="281.622" y="83.100" width="0.800" height="11.150" fill="#c0c0c0"/>
<rect x="282.872" y="83.100" width="2.038" height="11.150" fill="#dfdfdf"/>
<rect x="284.110" y="83.100" width="0.800" height="11.150" fill="#c0c0c0"/>
<rect x="285.360" y="83.100" width="2.038" height="11.150" fill="#dfdfdf"/>
<rect x="286.598" y="83.100" width="0.800" height="11.150" fill="#c0c0c0"/>
<rect x="287.848" y="83.100" width="2.038" height="11.150" fill="#dfdfdf"/>
<rect x="289.086" y="83.100" width="0.800" height="11.150" fill="#c0c0c0"/>
<rect x="49.000" y="95.750" width="2.038" height="11.150" fill="#dfdfdf"/>
<rect x="50.238" y="95.750" width="0.800" height="11.150" fill="#c0c0c0"/>
<rect x="51.488" y="95.750" width="2.038" height="11.150" fill="#dfdfdf"/>
<rect x="52.726" y="95.750" width="0.800" height="11.150" fill="#c0c0c0"/>
<rect x="53.976" y="95.750" width="2.038" height="11.150" fill="#4d6699"/>
<rect x="55.414" y="95.750" width="0.600" height="11.150" fill="#17326c"/>
<rect x="56.464" y="95.750" width="2.038" height="11.150" fill="#4d6699"/>
<rect x="57.902" y="95.750" width="0.600" height="11.150" fill="#17326c"/>
<rect x="58.952" y="95.750" width="2.038" height="11.150" fill="#4d6699"/>
<rect x="60.390" y="95.750" width="0.600" height="11.150" fill="#17326c"/>
<rect x="61.440" y="95.750" width="2.038" height="11.150" fill="#dfdfdf"/>
<rect x="62.678" y="95.750" width="0.800" height="11.150" fill="#c0c0c0"/>
<rect x="63.928" y="95.750" width="2.038" height="11.150" fill="#dfdfdf"/>
<rect x="65.166" y="95.750" width="0.800" height="11.150" fill="#c0c0c0"/>
<rect x="66.416" y="95.750" width="2.038" height="11.150" fill="#dfdfdf"/>
<rect x="67.654" y="95.750" width="0.800" height="11.150" fill="#c0c0c0"/>
<rect x="68.904" y="95.750" width="2.038" height="11.150" fill="#dfdfdf"/>
<rect x="70.142" y="95.750" width="0.800" height="11.150" fill="#c0c0c0"/>
<rect x="71.392" y="95.750" width="2.038" height="11.150" fill="#dfdfdf"/>
<rect x="72.630" y="95.750" width="0.800" height="11.150" fill="#c0c0c0"/>
<rect x="73.880" y="95.750" width="2.038" height="11.150" fill="#dfdfdf"/>
<rect x="75.118" y="95.750" width="0.800" height="11.150" fill="#c0c0c0"/>
<rect x="76.368" y="95.750" width="2.038" height="11.150" fill="#dfdfdf"/>
<rect x="77.606" y="95.750" width="0.800" height="11.150" fill="#c0c0c0"/>
<rect x="78.856" y="95.750" width="2.038" height="11.150" fill="#dfdfdf"/>
<rect x="80.094" y="95.750" width="0.800" height="11.150" fill="#c0c0c0"/>
<rect x="81.344" y="95.750" width="2.038" height="11.150" fill="#dfdfdf"/>
<rect x="82.582" y="95.750" width="0.800" height="11.150" fill="#c0c0c0"/>
<rect x="83.832" y="95.750" width="2.038" height="11.150" fill="#dfdfdf"/>
<rect x="85.070" y="95.750" width="0.800" height="11.150" fill="#c0c0c0"/>
<rect x="86.320" y="95.750" width="2.038" height="11.150" fill="#dfdfdf"/>
<rect x="87.558" y="95.750" width="0.800" height="11.150" fill="#c0c0c0"/>
<rect x="88.808" y="95.750" width="2.038" height="11.150" fill="#dfdfdf"/>
<rect x="90.046" y="95.750" width="0.800" height="11.150" fill="#c0c0c0"/>
<rect x="91.296" y="95.750" width="2.038" height="11.150" fill="#dfdfdf"/>
<rect x="92.534" y="95.750" width="0.800" height="11.150" fill="#c0c0c0"/>
<rect x="93.784" y="95.750" width="2.038" height="11.150" fill="#dfdfdf"/>
<rect x="95.022" y="95.750" width="0.800" height="11.150" fill="#c0c0c0"/>
<rect x="96.272" y="95.750" width="2.038" height="11.150" fill="#dfdfdf"/>
<rect x="97.510" y="95.750" width="0.800" height="11.150" fill="#c0c0c0"/>
<rect x="98.760" y="95.750" width="2.038" height="11.150" fill="#dfdfdf"/>
<rect x="99.998" y="95.750" width="0.800" height="11.150" fill="#c0c0c0"/>
<rect x="101.248" y="95.750" width="2.038" height="11.150" fill="#dfdfdf"/>
<rect x="102.486" y="95.750" width="0.800" height="11.150" fill="#c0c0c0"/>
<rect x="103.736" y="95.750" width="2.038" height="11.150" fill="#dfdfdf"/>
<rect x="104.974" y="95.750" width="0.800" height="11.150" fill="#c0c0c0"/>
<rect x="106.224" y="95.750" width="2.038" height="11.150" fill="#dfdfdf"/>
<rect x="107.462" y="95.750" width="0.800" height="11.150" fill="#c0c0c0"/>
<rect x="108.712" y="95.750" width="2.038" height="11.150" fill="#dfdfdf"/>
<rect x="109.950" y="95.750" width="0.800" height="11.150" fill="#c0c0c0"/>
<rect x="111.200" y="95.750" width="2.038" height="11.150" fill="#dfdfdf"/>
<rect x="112.438" y="95.750" width="0.800" height="11.150" fill="#c0c0c0"/>
<rect x="113.688" y="95.750" width="2.038" height="11.150" fill="#dfdfdf"/>
<rect x="114.926" y="95.750" width="0.800" height="11.150" fill="#c0c0c0"/>
<rect x="116.176" y="95.750" width="2.038" height="11.150" fill="#4d6699"/>
<rect x="117.614" y="95.750" width="0.600" height="11.150" fill="#17326c"/>
<rect x="118.664" y="95.750" width="2.038" height="11.150" fill="#4d6699"/>
<rect x="120.102" y="95.750" width="0.600" height="11.150" fill="#17326c"/>
<rect x="121.152" y="95.750" width="2.038" height="11.150" fill="#4d6699"/>
<rect x="122.590" y="95.750" width="0.600" height="11.150" fill="#17326c"/>
<rect x="123.640" y="95.750" width="2.038" height="11.150" fill="#4d6699"/>
<rect x="125.078" y="95.750" width="0.600" height="11.150" fill="#17326c"/>
<rect x="126.128" y="95.750" width="2.038" height="11.150" fill="#4d6699"/>
<rect x="127.566" y="95.750" width="0.600" height="11.150" fill="#17326c"/>
<rect x="128.616" y="95.750" width="2.038" height="11.150" fill="#4d6699"/>
<rect x="130.054" y="95.750" width="0.600" height="11.150" fill="#17326c"/>
<rect x="131.104" y="95.750" width="2.038" height="11.150" fill="#4d6699"/>
<rect x="132.542" y="95.750" width="0.600" height="11.150" fill="#17326c"/>
<rect x="133.592" y="95.750" width="2.038" height="11.150" fill="#4d6699"/>
<rect x="135.030" y="95.750" width="0.600" height="11.150" fill="#17326c"/>
<rect x="136.080" y="95.750" width="2.038" height="11.150" fill="#dfdfdf"/>
<rect x="137.318" y="95.750" width="0.800" height="11.150" fill="#c0c0c0"/>
<rect x="138.568" y="95.750" width="2.038" height="11.150" fill="#dfdfdf"/>
<rect x="139.806" y="95.750" width="0.800" height="11.150" fill="#c0c0c0"/>
<rect x="141.056" y="95.750" width="2.038" height="11.150" fill="#dfdfdf"/>
<rect x="142.294" y="95.750" width="0.800" height="11.150" fill="#c0c0c0"/>
<rect x="143.544" y="95.750" width="2.038" height="11.150" fill="#dfdfdf"/>
<rect x="144.782" y="95.750" width="0.800" height="11.150" fill="#c0c0c0"/>
<rect x="146.032" y="95.750" width="2.038" height="11.150" fill="#dfdfdf"/>
<rect x="147.270" y="95.750" width="0.800" height="11.150" fill="#c0c0c0"/>
<rect x="148.520" y="95.750" width="2.038" height="11.150" fill="#dfdfdf"/>
<rect x="149.758" y="95.750" width="0.800" height="11.150" fill="#c0c0c0"/>
<rect x="151.008" y="95.750" width="2.038" height="11.150" fill="#dfdfdf"/>
<rect x="152.246" y="95.750" width="0.800" height="11.150" fill="#c0c0c0"/>
<rect x="153.496" y="95.750" width="2.038" height="11.150" fill="#dfdfdf"/>
<rect x="154.734" y="95.750" width="0.800" height="11.150" fill="#c0c0c0"/>
<rect x="155.984" y="95.750" width="2.038" height="11.150" fill="#dfdfdf"/>
<rect x="157.222" y="95.750" width="0.800" height="11.150" fill="#c0c0c0"/>
<rect x="158.472" y="95.750" width="2.038" height="11.150" fill="#dfdfdf"/>
<rect x="159.710" y="95.750" width="0.800" height="11.150" fill="#c0c0c0"/>
<rect x="160.960" y="95.750" width="2.038" height="11.150" fill="#dfdfdf"/>
<rect x="162.198" y="95.750" width="0.800" height="11.150" fill="#c0c0c0"/>
<rect x="163.448" y="95.750" width="2.038" height="11.150" fill="#dfdfdf"/>
<rect x="164.686" y="95.750" width="0.800" height="11.150" fill="#c0c0c0"/>
<rect x="165.936" y="95.750" width="2.038" height="11.150" fill="#dfdfdf"/>
<rect x="167.174" y="95.750" width="0.800" height="11.150" fill="#c0c0c0"/>
<rect x="168.424" y="95.750" width="2.038" height="11.150" fill="#dfdfdf"/>
<rect x="169.662" y="95.750" width="0.800" height="11.150" fill="#c0c0c0"/>
<rect x="170.912" y="95.750" width="2.038" height="11.150" fill="#dfdfdf"/>
<rect x="172.150" y="95.750" width="0.800" height="11.150" fill="#c0c0c0"/>
<rect x="173.400" y="95.750" width="2.038" height="11.150" fill="#dfdfdf"/>
<rect x="174.638" y="95.750" width="0.800" height="11.150" fill="#c0c0c0"/>
<rect x="175.888" y="95.750" width="2.038" height="11.150" fill="#dfdfdf"/>
<rect x="177.126" y="95.750" width="0.800" height="11.150" fill="#c0c0c0"/>
<rect x="178.376" y="95.750" width="2.038" height="11.150" fill="#dfdfdf"/>
<rect x="179.614" y="95.750" width="0.800" height="11.150" fill="#c0c0c0"/>
<rect x="180.864" y="95.750" width="2.038" height="11.150" fill="#dfdfdf"/>
<rect x="182.102" y="95.750" width="0.800" height="11.150" fill="#c0c0c0"/>
<rect x="183.352" y="95.750" width="2.038" height="11.150" fill="#dfdfdf"/>
<rect x="184.590" y="95.750" width="0.800" height="11.150" fill="#c0c0c0"/>
<rect x="185.840" y="95.750" width="2.038" height="11.150" fill="#dfdfdf"/>
<rect x="187.078" y="95.750" width="0.800" height="11.150" fill="#c0c0c0"/>
<rect x="188.328" y="95.750" width="2.038" height="11.150" fill="#dfdfdf"/>
<rect x="189.566" y="95.750" width="0.800" height="11.150" fill="#c0c0c0"/>
<rect x="190.816" y="95.750" width="2.038" height="11.150" fill="#dfdfdf"/>
<rect x="192.054" y="95.750" width="0.800" height="11.150" fill="#c0c0c0"/>
<rect x="193.304" y="95.750" width="2.038" height="11.150" fill="#dfdfdf"/>
<rect x="194.542" y="95.750" width="0.800" height="11.150" fill="#c0c0c0"/>
<rect x="195.792" y="95.750" width="2.038" height="11.150" fill="#dfdfdf"/>
<rect x="197.030" y="95.750" width="0.800" height="11.150" fill="#c0c0c0"/>
<rect x="198.280" y="95.750" width="2.038" height="11.150" fill="#dfdfdf"/>
<rect x="199.518" y="95.750" width="0.800" height="11.150" fill="#c0c0c0"/>
<rect x="200.768" y="95.750" width="2.038" height="11.150" fill="#dfdfdf"/>
<rect x="202.006" y="95.750" width="0.800" height="11.150" fill="#c0c0c0"/>
<rect x="203.256" y="95.750" width="2.038" height="11.150" fill="#dfdfdf"/>
<rect x="204.494" y="95.750" width="0.800" height="11.150" fill="#c0c0c0"/>
<rect x="205.744" y="95.750" width="2.038" height="11.150" fill="#dfdfdf"/>
<rect x="206.982" y="95.750" width="0.800" height="11.150" fill="#c0c0c0"/>
<rect x="208.232" y="95.750" width="2.038" height="11.150" fill="#dfdfdf"/>
<rect x="209.470" y="95.750" width="0.800" height="11.150" fill="#c0c0c0"/>
<rect x="210.720" y="95.750" width="2.038" height="11.150" fill="#dfdfdf"/>
<rect x="211.958" y="95.750" width="0.800" height="11.150" fill="#c0c0c0"/>
<rect x="213.208" y="95.750" width="2.038" height="11.150" fill="#4d6699"/>
<rect x="214.646" y="95.750" width="0.600" height="11.150" fill="#17326c"/>
<rect x="215.696" y="95.750" width="2.038" height="11.150" fill="#4d6699"/>
<rect x="217.134" y="95.750" width="0.600" height="11.150" fill="#17326c"/>
<rect x="218.184" y="95.750" width="2.038" height="11.150" fill="#4d6699"/>
<rect x="219.622" y="95.750" width="0.600" height="11.150" fill="#17326c"/>
<rect x="220.672" y="95.750" width="2.038" height="11.150" fill="#4d6699"/>
<rect x="222.110" y="95.750" width="0.600" height="11.150" fill="#17326c"/>
<rect x="223.160" y="95.750" width="2.038" height="11.150" fill="#4d6699"/>
<rect x="224.598" y="95.750" width="0.600" height="11.150" fill="#17326c"/>
<rect x="225.648" y="95.750" width="2.038" height="11.150" fill="#4d6699"/>
<rect x="227.086" y="95.750" width="0.600" height="11.150" fill="#17326c"/>
<rect x="228.136" y="95.750" width="2.038" height="11.150" fill="#dfdfdf"/>
<rect x="229.374" y="95.750" width="0.800" height="11.150" fill="#c0c0c0"/>
<rect x="230.624" y="95.750" width="2.038" height="11.150" fill="#dfdfdf"/>
<rect x="231.862" y="95.750" width="0.800" height="11.150" fill="#c0c0c0"/>
<rect x="233.112" y="95.750" width="2.038" height="11.150" fill="#dfdfdf"/>
<rect x="234.350" y="95.750" width="0.800" height="11.150" fill="#c0c0c0"/>
<rect x="235.600" y="95.750" width="2.038" height="11.150" fill="#dfdfdf"/>
<rect x="236.838" y="95.750" width="0.800" height="11.150" fill="#c0c0c0"/>
<rect x="238.088" y="95.750" width="2.038" height="11.150" fill="#dfdfdf"/>
<rect x="239.326" y="95.750" width="0.800" height="11.150" fill="#c0c0c0"/>
<rect x="240.576" y="95.750" width="2.038" height="11.150" fill="#dfdfdf"/>
<rect x="241.814" y="95.750" width="0.800" height="11.150" fill="#c0c0c0"/>
<rect x="243.064" y="95.750" width="2.038" height="11.150" fill="#dfdfdf"/>
<rect x="244.302" y="95.750" width="0.800" height="11.150" fill="#c0c0c0"/>
<rect x="245.552" y="95.750" width="2.038" height="11.150" fill="#dfdfdf"/>
<rect x="246.790" y="95.750" width="0.800" height="11.150" fill="#c0c0c0"/>
<rect x="248.040" y="95.750" width="2.038" height="11.150" fill="#dfdfdf"/>
<rect x="249.278" y="95.750" width="0.800" height="11.150" fill="#c0c0c0"/>
<rect x="250.528" y="95.750" width="2.038" height="11.150" fill="#dfdfdf"/>
<rect x="251.766" y="95.750" width="0.800" height="11.150" fill="#c0c0c0"/>
<rect x="253.016" y="95.750" width="2.038" height="11.150" fill="#dfdfdf"/>
<rect x="254.254" y="95.750" width="0.800" height="11.150" fill="#c0c0c0"/>
<rect x="255.504" y="95.750" width="2.038" height="11.150" fill="#dfdfdf"/>
<rect x="256.742" y="95.750" width="0.800" height="11.150" fill="#c0c0c0"/>
<rect x="257.992" y="95.750" width="2.038" height="11.150" fill="#dfdfdf"/>
<rect x="259.230" y="95.750" width="0.800" height="11.150" fill="#c0c0c0"/>
<rect x="260.480" y="95.750" width="2.038" height="11.150" fill="#dfdfdf"/>
<rect x="261.718" y="95.750" width="0.800" height="11.150" fill="#c0c0c0"/>
<rect x="262.968" y="95.750" width="2.038" height="11.150" fill="#dfdfdf"/>
<rect x="264.206" y="95.750" width="0.800" height="11.150" fill="#c0c0c0"/>
<rect x="265.456" y="95.750" width="2.038" height="11.150" fill="#dfdfdf"/>
<rect x="266.694" y="95.750" width="0.800" height="11.150" fill="#c0c0c0"/>
<rect x="267.944" y="95.750" width="2.038" height="11.150" fill="#dfdfdf"/>
<rect x="269.182" y="95.750" width="0.800" height="11.150" fill="#c0c0c0"/>
<rect x="270.432" y="95.750" width="2.038" height="11.150" fill="#dfdfdf"/>
<rect x="271.670" y="95.750" width="0.800" height="11.150" fill="#c0c0c0"/>
<rect x="272.920" y="95.750" width="2.038" height="11.150" fill="#dfdfdf"/>
<rect x="274.158" y="95.750" width="0.800" height="11.150" fill="#c0c0c0"/>
<rect x="275.408" y="95.750" width="2.038" height="11.150" fill="#dfdfdf"/>
<rect x="276.646" y="95.750" width="0.800" height="11.150" fill="#c0c0c0"/>
<rect x="277.896" y="95.750" width="2.038" height="11.150" fill="#dfdfdf"/>
<rect x="279.134" y="95.750" width="0.800" height="11.150" fill="#c0c0c0"/>
<rect x="280.384" y="95.750" width="2.038" height="11.150" fill="#dfdfdf"/>
<rect x="281.622" y="95.750" width="0.800" height="11.150" fill="#c0c0c0"/>
<rect x="282.872" y="95.750" width="2.038" height="11.150" fill="#dfdfdf"/>
<rect x="284.110" y="95.750" width="0.800" height="11.150" fill="#c0c0c0"/>
<rect x="285.360" y="95.750" width="2.038" height="11.150" fill="#dfdfdf"/>
<rect x="286.598" y="95.750" width="0.800" height="11.150" fill="#c0c0c0"/>
<rect x="287.848" y="95.750" width="2.038" height="11.150" fill="#dfdfdf"/>
<rect x="289.086" y="95.750" width="0.800" height="11.150" fill="#c0c0c0"/>
<rect x="49.000" y="108.400" width="2.038" height="11.150" fill="#dfdfdf"/>
<rect x="50.238" y="108.400" width="0.800" height="11.150" fill="#c0c0c0"/>
<rect x="51.488" y="108.400" width="2.038" height="11.150" fill="#dfdfdf"/>
<rect x="52.726" y="108.400" width="0.800" height="11.150" fill="#c0c0c0"/>
<rect x="53.976" y="108.400" width="2.038" height="11.150" fill="#dfdfdf"/>
<rect x="55.214" y="108.400" width="0.800" height="11.150" fill="#c0c0c0"/>
<rect x="56.464" y="108.400" width="2.038" height="11.150" fill="#dfdfdf"/>
<rect x="57.702" y="108.400" width="0.800" height="11.150" fill="#c0c0c0"/>
<rect x="58.952" y="108.400" width="2.038" height="11.150" fill="#dfdfdf"/>
<rect x="60.190" y="108.400" width="0.800" height="11.150" fill="#c0c0c0"/>
<rect x="61.440" y="108.400" width="2.038" height="11.150" fill="#dfdfdf"/>
<rect x="62.678" y="108.400" width="0.800" height="11.150" fill="#c0c0c0"/>
<rect x="63.928" y="108.400" width="2.038" height="11.150" fill="#dfdfdf"/>
<rect x="65.166" y="108.400" width="0.800" height="11.150" fill="#c0c0c0"/>
<rect x="66.416" y="108.400" width="2.038" height="11.150" fill="#dfdfdf"/>
<rect x="67.654" y="108.400" width="0.800" height="11.150" fill="#c0c0c0"/>
<rect x="68.904" y="108.400" width="2.038" height="11.150" fill="#dfdfdf"/>
<rect x="70.142" y="108.400" width="0.800" height="11.150" fill="#c0c0c0"/>
<rect x="71.392" y="108.400" width="2.038" height="11.150" fill="#dfdfdf"/>
<rect x="72.630" y="108.400" width="0.800" height="11.150" fill="#c0c0c0"/>
<rect x="73.880" y="108.400" width="2.038" height="11.150" fill="#dfdfdf"/>
<rect x="75.118" y="108.400" width="0.800" height="11.150" fill="#c0c0c0"/>
<rect x="76.368" y="108.400" width="2.038" height="11.150" fill="#dfdfdf"/>
<rect x="77.606" y="108.400" width="0.800" height="11.150" fill="#c0c0c0"/>
<rect x="78.856" y="108.400" width="2.038" height="11.150" fill="#dfdfdf"/>
<rect x="80.094" y="108.400" width="0.800" height="11.150" fill="#c0c0c0"/>
<rect x="81.344" y="108.400" width="2.038" height="11.150" fill="#dfdfdf"/>
<rect x="82.582" y="108.400" width="0.800" height="11.150" fill="#c0c0c0"/>
<rect x="83.832" y="108.400" width="2.038" height="11.150" fill="#dfdfdf"/>
<rect x="85.070" y="108.400" width="0.800" height="11.150" fill="#c0c0c0"/>
<rect x="86.320" y="108.400" width="2.038" height="11.150" fill="#dfdfdf"/>
<rect x="87.558" y="108.400" width="0.800" height="11.150" fill="#c0c0c0"/>
<rect x="88.808" y="108.400" width="2.038" height="11.150" fill="#4d6699"/>
<rect x="90.246" y="108.400" width="0.600" height="11.150" fill="#17326c"/>
<rect x="91.296" y="108.400" width="2.038" height="11.150" fill="#4d6699"/>
<rect x="92.734" y="108.400" width="0.600" height="11.150" fill="#17326c"/>
<rect x="93.784" y="108.400" width="2.038" height="11.150" fill="#4d6699"/>
<rect x="95.222" y="108.400" width="0.600" height="11.150" fill="#17326c"/>
<rect x="96.272" y="108.400" width="2.038" height="11.150" fill="#dfdfdf"/>
<rect x="97.510" y="108.400" width="0.800" height="11.150" fill="#c0c0c0"/>
<rect x="98.760" y="108.400" width="2.038" height="11.150" fill="#dfdfdf"/>
<rect x="99.998" y="108.400" width="0.800" height="11.150" fill="#c0c0c0"/>
<rect x="101.248" y="108.400" width="2.038" height="11.150" fill="#dfdfdf"/>
<rect x="102.486" y="108.400" width="0.800" height="11.150" fill="#c0c0c0"/>
<rect x="103.736" y="108.400" width="2.038" height="11.150" fill="#dfdfdf"/>
<rect x="104.974" y="108.400" width="0.800" height="11.150" fill="#c0c0c0"/>
<rect x="106.224" y="108.400" width="2.038" height="11.150" fill="#dfdfdf"/>
<rect x="107.462" y="108.400" width="0.800" height="11.150" fill="#c0c0c0"/>
<rect x="108.712" y="108.400" width="2.038" height="11.150" fill="#dfdfdf"/>
<rect x="109.950" y="108.400" width="0.800" height="11.150" fill="#c0c0c0"/>
<rect x="111.200" y="108.400" width="2.038" height="11.150" fill="#dfdfdf"/>
<rect x="112.438" y="108.400" width="0.800" height="11.150" fill="#c0c0c0"/>
<rect x="113.688" y="108.400" width="2.038" height="11.150" fill="#dfdfdf"/>
<rect x="114.926" y="108.400" width="0.800" height="11.150" fill="#c0c0c0"/>
<rect x="116.176" y="108.400" width="2.038" height="11.150" fill="#dfdfdf"/>
<rect x="117.414" y="108.400" width="0.800" height="11.150" fill="#c0c0c0"/>
<rect x="118.664" y="108.400" width="2.038" height="11.150" fill="#dfdfdf"/>
<rect x="119.902" y="108.400" width="0.800" height="11.150" fill="#c0c0c0"/>
<rect x="121.152" y="108.400" width="2.038" height="11.150" fill="#dfdfdf"/>
<rect x="122.390" y="108.400" width="0.800" height="11.150" fill="#c0c0c0"/>
<rect x="123.640" y="108.400" width="2.038" height="11.150" fill="#dfdfdf"/>
<rect x="124.878" y="108.400" width="0.800" height="11.150" fill="#c0c0c0"/>
<rect x="126.128" y="108.400" width="2.038" height="11.150" fill="#dfdfdf"/>
<rect x="127.366" y="108.400" width="0.800" height="11.150" fill="#c0c0c0"/>
<rect x="128.616" y="108.400" width="2.038" height="11.150" fill="#dfdfdf"/>
<rect x="129.854" y="108.400" width="0.800" height="11.150" fill="#c0c0c0"/>
<rect x="131.104" y="108.400" width="2.038" height="11.150" fill="#dfdfdf"/>
<rect x="132.342" y="108.400" width="0.800" height="11.150" fill="#c0c0c0"/>
<rect x="133.592" y="108.400" width="2.038" height="11.150" fill="#dfdfdf"/>
<rect x="134.830" y="108.400" width="0.800" height="11.150" fill="#c0c0c0"/>
<rect x="136.080" y="108.400" width="2.038" height="11.150" fill="#dfdfdf"/>
<rect x="137.318" y="108.400" width="0.800" height="11.150" fill="#c0c0c0"/>
<rect x="138.568" y="108.400" width="2.038" height="11.150" fill="#dfdfdf"/>
<rect x="139.806" y="108.400" width="0.800" height="11.150" fill="#c0c0c0"/>
<rect x="141.056" y="108.400" width="2.038" height="11.150" fill="#dfdfdf"/>
<rect x="142.294" y="108.400" width="0.800" height="11.150" fill="#c0c0c0"/>
<rect x="143.544" y="108.400" width="2.038" height="11.150" fill="#dfdfdf"/>
<rect x="144.782" y="108.400" width="0.800" height="11.150" fill="#c0c0c0"/>
<rect x="146.032" y="108.400" width="2.038" height="11.150" fill="#dfdfdf"/>
<rect x="147.270" y="108.400" width="0.800" height="11.150" fill="#c0c0c0"/>
<rect x="148.520" y="108.400" width="2.038" height="11.150" fill="#dfdfdf"/>
<rect x="149.758" y="108.400" width="0.800" height="11.150" fill="#c0c0c0"/>
<rect x="151.008" y="108.400" width="2.038" height="11.150" fill="#dfdfdf"/>
<rect x="152.246" y="108.400" width="0.800" height="11.150" fill="#c0c0c0"/>
<rect x="153.496" y="108.400" width="2.038" height="11.150" fill="#dfdfdf"/>
<rect x="154.734" y="108.400" width="0.800" height="11.150" fill="#c0c0c0"/>
<rect x="155.984" y="108.400" width="2.038" height="11.150" fill="#dfdfdf"/>
<rect x="157.222" y="108.400" width="0.800" height="11.150" fill="#c0c0c0"/>
<rect x="158.472" y="108.400" width="2.038" height="11.150" fill="#dfdfdf"/>
<rect x="159.710" y="108.400" width="0.800" height="11.150" fill="#c0c0c0"/>
<rect x="160.960" y="108.400" width="2.038" height="11.150" fill="#dfdfdf"/>
<rect x="162.198" y="108.400" width="0.800" height="11.150" fill="#c0c0c0"/>
<rect x="163.448" y="108.400" width="2.038" height="11.150" fill="#dfdfdf"/>
<rect x="164.686" y="108.400" width="0.800" height="11.150" fill="#c0c0c0"/>
<rect x="165.936" y="108.400" width="2.038" height="11.150" fill="#dfdfdf"/>
<rect x="167.174" y="108.400" width="0.800" height="11.150" fill="#c0c0c0"/>
<rect x="168.424" y="108.400" width="2.038" height="11.150" fill="#dfdfdf"/>
<rect x="169.662" y="108.400" width="0.800" height="11.150" fill="#c0c0c0"/>
<rect x="170.912" y="108.400" width="2.038" height="11.150" fill="#dfdfdf"/>
<rect x="172.150" y="108.400" width="0.800" height="11.150" fill="#c0c0c0"/>
<rect x="173.400" y="108.400" width="2.038" height="11.150" fill="#dfdfdf"/>
<rect x="174.638" y="108.400" width="0.800" height="11.150" fill="#c0c0c0"/>
<rect x="175.888" y="108.400" width="2.038" height="11.150" fill="#dfdfdf"/>
<rect x="177.126" y="108.400" width="0.800" height="11.150" fill="#c0c0c0"/>
<rect x="178.376" y="108.400" width="2.038" height="11.150" fill="#dfdfdf"/>
<rect x="179.614" y="108.400" width="0.800" height="11.150" fill="#c0c0c0"/>
<rect x="180.864" y="108.400" width="2.038" height="11.150" fill="#dfdfdf"/>
<rect x="182.102" y="108.400" width="0.800" height="11.150" fill="#c0c0c0"/>
<rect x="183.352" y="108.400" width="2.038" height="11.150" fill="#dfdfdf"/>
<rect x="184.590" y="108.400" width="0.800" height="11.150" fill="#c0c0c0"/>
<rect x="185.840" y="108.400" width="2.038" height="11.150" fill="#dfdfdf"/>
<rect x="187.078" y="108.400" width="0.800" height="11.150" fill="#c0c0c0"/>
<rect x="188.328" y="108.400" width="2.038" height="11.150" fill="#dfdfdf"/>
<rect x="189.566" y="108.400" width="0.800" height="11.150" fill="#c0c0c0"/>
<rect x="190.816" y="108.400" width="2.038" height="11.150" fill="#dfdfdf"/>
<rect x="192.054" y="108.400" width="0.800" height="11.150" fill="#c0c0c0"/>
<rect x="193.304" y="108.400" width="2.038" height="11.150" fill="#dfdfdf"/>
<rect x="194.542" y="108.400" width="0.800" height="11.150" fill="#c0c0c0"/>
<rect x="195.792" y="108.400" width="2.038" height="11.150" fill="#dfdfdf"/>
<rect x="197.030" y="108.400" width="0.800" height="11.150" fill="#c0c0c0"/>
<rect x="198.280" y="108.400" width="2.038" height="11.150" fill="#dfdfdf"/>
<rect x="199.518" y="108.400" width="0.800" height="11.150" fill="#c0c0c0"/>
<rect x="200.768" y="108.400" width="2.038" height="11.150" fill="#dfdfdf"/>
<rect x="202.006" y="108.400" width="0.800" height="11.150" fill="#c0c0c0"/>
<rect x="203.256" y="108.400" width="2.038" height="11.150" fill="#dfdfdf"/>
<rect x="204.494" y="108.400" width="0.800" height="11.150" fill="#c0c0c0"/>
<rect x="205.744" y="108.400" width="2.038" height="11.150" fill="#dfdfdf"/>
<rect x="206.982" y="108.400" width="0.800" height="11.150" fill="#c0c0c0"/>
<rect x="208.232" y="108.400" width="2.038" height="11.150" fill="#dfdfdf"/>
<rect x="209.470" y="108.400" width="0.800" height="11.150" fill="#c0c0c0"/>
<rect x="210.720" y="108.400" width="2.038" height="11.150" fill="#dfdfdf"/>
<rect x="211.958" y="108.400" width="0.800" height="11.150" fill="#c0c0c0"/>
<rect x="213.208" y="108.400" width="2.038" height="11.150" fill="#dfdfdf"/>
<rect x="214.446" y="108.400" width="0.800" height="11.150" fill="#c0c0c0"/>
<rect x="215.696" y="108.400" width="2.038" height="11.150" fill="#dfdfdf"/>
<rect x="216.934" y="108.400" width="0.800" height="11.150" fill="#c0c0c0"/>
<rect x="218.184" y="108.400" width="2.038" height="11.150" fill="#dfdfdf"/>
<rect x="219.422" y="108.400" width="0.800" height="11.150" fill="#c0c0c0"/>
<rect x="220.672" y="108.400" width="2.038" height="11.150" fill="#dfdfdf"/>
<rect x="221.910" y="108.400" width="0.800" height="11.150" fill="#c0c0c0"/>
<rect x="223.160" y="108.400" width="2.038" height="11.150" fill="#dfdfdf"/>
<rect x="224.398" y="108.400" width="0.800" height="11.150" fill="#c0c0c0"/>
<rect x="225.648" y="108.400" width="2.038" height="11.150" fill="#dfdfdf"/>
<rect x="226.886" y="108.400" width="0.800" height="11.150" fill="#c0c0c0"/>
<rect x="228.136" y="108.400" width="2.038" height="11.150" fill="#4d6699"/>
<rect x="229.574" y="108.400" width="0.600" height="11.150" fill="#17326c"/>
<rect x="230.624" y="108.400" width="2.038" height="11.150" fill="#4d6699"/>
<rect x="232.062" y="108.400" width="0.600" height="11.150" fill="#17326c"/>
<rect x="233.112" y="108.400" width="2.038" height="11.150" fill="#4d6699"/>
<rect x="234.550" y="108.400" width="0.600" height="11.150" fill="#17326c"/>
<rect x="235.600" y="108.400" width="2.038" height="11.150" fill="#4d6699"/>
<rect x="237.038" y="108.400" width="0.600" height="11.150" fill="#17326c"/>
<rect x="238.088" y="108.400" width="2.038" height="11.150" fill="#4d6699"/>
<rect x="239.526" y="108.400" width="0.600" height="11.150" fill="#17326c"/>
<rect x="240.576" y="108.400" width="2.038" height="11.150" fill="#4d6699"/>
<rect x="242.014" y="108.400" width="0.600" height="11.150" fill="#17326c"/>
<rect x="243.064" y="108.400" width="2.038" height="11.150" fill="#4d6699"/>
<rect x="244.502" y="108.400" width="0.600" height="11.150" fill="#17326c"/>
<rect x="245.552" y="108.400" width="2.038" height="11.150" fill="#4d6699"/>
<rect x="246.990" y="108.400" width="0.600" height="11.150" fill="#17326c"/>
<rect x="248.040" y="108.400" width="2.038" height="11.150" fill="#4d6699"/>
<rect x="249.478" y="108.400" width="0.600" height="11.150" fill="#17326c"/>
<rect x="250.528" y="108.400" width="2.038" height="11.150" fill="#4d6699"/>
<rect x="251.966" y="108.400" width="0.600" height="11.150" fill="#17326c"/>
<rect x="253.016" y="108.400" width="2.038" height="11.150" fill="#4d6699"/>
<rect x="254.454" y="108.400" width="0.600" height="11.150" fill="#17326c"/>
<rect x="255.504" y="108.400" width="2.038" height="11.150" fill="#4d6699"/>
<rect x="256.942" y="108.400" width="0.600" height="11.150" fill="#17326c"/>
<rect x="257.992" y="108.400" width="2.038" height="11.150" fill="#4d6699"/>
<rect x="259.430" y="108.400" width="0.600" height="11.150" fill="#17326c"/>
<rect x="260.480" y="108.400" width="2.038" height="11.150" fill="#dfdfdf"/>
<rect x="261.718" y="108.400" width="0.800" height="11.150" fill="#c0c0c0"/>
<rect x="262.968" y="108.400" width="2.038" height="11.150" fill="#dfdfdf"/>
<rect x="264.206" y="108.400" width="0.800" height="11.150" fill="#c0c0c0"/>
<rect x="265.456" y="108.400" width="2.038" height="11.150" fill="#dfdfdf"/>
<rect x="266.694" y="108.400" width="0.800" height="11.150" fill="#c0c0c0"/>
<rect x="267.944" y="108.400" width="2.038" height="11.150" fill="#dfdfdf"/>
<rect x="269.182" y="108.400" width="0.800" height="11.150" fill="#c0c0c0"/>
<rect x="270.432" y="108.400" width="2.038" height="11.150" fill="#dfdfdf"/>
<rect x="271.670" y="108.400" width="0.800" height="11.150" fill="#c0c0c0"/>
<rect x="272.920" y="108.400" width="2.038" height="11.150" fill="#dfdfdf"/>
<rect x="274.158" y="108.400" width="0.800" height="11.150" fill="#c0c0c0"/>
<rect x="275.408" y="108.400" width="2.038" height="11.150" fill="#dfdfdf"/>
<rect x="276.646" y="108.400" width="0.800" height="11.150" fill="#c0c0c0"/>
<rect x="277.896" y="108.400" width="2.038" height="11.150" fill="#dfdfdf"/>
<rect x="279.134" y="108.400" width="0.800" height="11.150" fill="#c0c0c0"/>
<rect x="280.384" y="108.400" width="2.038" height="11.150" fill="#dfdfdf"/>
<rect x="281.622" y="108.400" width="0.800" height="11.150" fill="#c0c0c0"/>
<rect x="282.872" y="108.400" width="2.038" height="11.150" fill="#dfdfdf"/>
<rect x="284.110" y="108.400" width="0.800" height="11.150" fill="#c0c0c0"/>
<rect x="285.360" y="108.400" width="2.038" height="11.150" fill="#dfdfdf"/>
<rect x="286.598" y="108.400" width="0.800" height="11.150" fill="#c0c0c0"/>
<rect x="287.848" y="108.400" width="2.038" height="11.150" fill="#dfdfdf"/>
<rect x="289.086" y="108.400" width="0.800" height="11.150" fill="#c0c0c0"/>
<rect x="49.000" y="121.050" width="2.038" height="11.150" fill="#dfdfdf"/>
<rect x="50.238" y="121.050" width="0.800" height="11.150" fill="#c0c0c0"/>
<rect x="51.488" y="121.050" width="2.038" height="11.150" fill="#dfdfdf"/>
<rect x="52.726" y="121.050" width="0.800" height="11.150" fill="#c0c0c0"/>
<rect x="53.976" y="121.050" width="2.038" height="11.150" fill="#dfdfdf"/>
<rect x="55.214" y="121.050" width="0.800" height="11.150" fill="#c0c0c0"/>
<rect x="56.464" y="121.050" width="2.038" height="11.150" fill="#dfdfdf"/>
<rect x="57.702" y="121.050" width="0.800" height="11.150" fill="#c0c0c0"/>
<rect x="58.952" y="121.050" width="2.038" height="11.150" fill="#dfdfdf"/>
<rect x="60.190" y="121.050" width="0.800" height="11.150" fill="#c0c0c0"/>
<rect x="61.440" y="121.050" width="2.038" height="11.150" fill="#4d6699"/>
<rect x="62.878" y="121.050" width="0.600" height="11.150" fill="#17326c"/>
<rect x="63.928" y="121.050" width="2.038" height="11.150" fill="#dfdfdf"/>
<rect x="65.166" y="121.050" width="0.800" height="11.150" fill="#c0c0c0"/>
<rect x="66.416" y="121.050" width="2.038" height="11.150" fill="#dfdfdf"/>
<rect x="67.654" y="121.050" width="0.800" height="11.150" fill="#c0c0c0"/>
<rect x="68.904" y="121.050" width="2.038" height="11.150" fill="#dfdfdf"/>
<rect x="70.142" y="121.050" width="0.800" height="11.150" fill="#c0c0c0"/>
<rect x="71.392" y="121.050" width="2.038" height="11.150" fill="#dfdfdf"/>
<rect x="72.630" y="121.050" width="0.800" height="11.150" fill="#c0c0c0"/>
<rect x="73.880" y="121.050" width="2.038" height="11.150" fill="#dfdfdf"/>
<rect x="75.118" y="121.050" width="0.800" height="11.150" fill="#c0c0c0"/>
<rect x="76.368" y="121.050" width="2.038" height="11.150" fill="#dfdfdf"/>
<rect x="77.606" y="121.050" width="0.800" height="11.150" fill="#c0c0c0"/>
<rect x="78.856" y="121.050" width="2.038" height="11.150" fill="#dfdfdf"/>
<rect x="80.094" y="121.050" width="0.800" height="11.150" fill="#c0c0c0"/>
<rect x="81.344" y="121.050" width="2.038" height="11.150" fill="#dfdfdf"/>
<rect x="82.582" y="121.050" width="0.800" height="11.150" fill="#c0c0c0"/>
<rect x="83.832" y="121.050" width="2.038" height="11.150" fill="#dfdfdf"/>
<rect x="85.070" y="121.050" width="0.800" height="11.150" fill="#c0c0c0"/>
<rect x="86.320" y="121.050" width="2.038" height="11.150" fill="#dfdfdf"/>
<rect x="87.558" y="121.050" width="0.800" height="11.150" fill="#c0c0c0"/>
<rect x="88.808" y="121.050" width="2.038" height="11.150" fill="#4d6699"/>
<rect x="90.246" y="121.050" width="0.600" height="11.150" fill="#17326c"/>
<rect x="91.296" y="121.050" width="2.038" height="11.150" fill="#4d6699"/>
<rect x="92.734" y="121.050" width="0.600" height="11.150" fill="#17326c"/>
<rect x="93.784" y="121.050" width="2.038" height="11.150" fill="#4d6699"/>
<rect x="95.222" y="121.050" width="0.600" height="11.150" fill="#17326c"/>
<rect x="96.272" y="121.050" width="2.038" height="11.150" fill="#4d6699"/>
<rect x="97.710" y="121.050" width="0.600" height="11.150" fill="#17326c"/>
<rect x="98.760" y="121.050" width="2.038" height="11.150" fill="#4d6699"/>
<rect x="100.198" y="121.050" width="0.600" height="11.150" fill="#17326c"/>
<rect x="101.248" y="121.050" width="2.038" height="11.150" fill="#4d6699"/>
<rect x="102.686" y="121.050" width="0.600" height="11.150" fill="#17326c"/>
<rect x="103.736" y="121.050" width="2.038" height="11.150" fill="#4d6699"/>
<rect x="105.174" y="121.050" width="0.600" height="11.150" fill="#17326c"/>
<rect x="106.224" y="121.050" width="2.038" height="11.150" fill="#4d6699"/>
<rect x="107.662" y="121.050" width="0.600" height="11.150" fill="#17326c"/>
<rect x="108.712" y="121.050" width="2.038" height="11.150" fill="#4d6699"/>
<rect x="110.150" y="121.050" width="0.600" height="11.150" fill="#17326c"/>
<rect x="111.200" y="121.050" width="2.038" height="11.150" fill="#dfdfdf"/>
<rect x="112.438" y="121.050" width="0.800" height="11.150" fill="#c0c0c0"/>
<rect x="113.688" y="121.050" width="2.038" height="11.150" fill="#dfdfdf"/>
<rect x="114.926" y="121.050" width="0.800" height="11.150" fill="#c0c0c0"/>
<rect x="116.176" y="121.050" width="2.038" height="11.150" fill="#dfdfdf"/>
<rect x="117.414" y="121.050" width="0.800" height="11.150" fill="#c0c0c0"/>
<rect x="118.664" y="121.050" width="2.038" height="11.150" fill="#dfdfdf"/>
<rect x="119.902" y="121.050" width="0.800" height="11.150" fill="#c0c0c0"/>
<rect x="121.152" y="121.050" width="2.038" height="11.150" fill="#dfdfdf"/>
<rect x="122.390" y="121.050" width="0.800" height="11.150" fill="#c0c0c0"/>
<rect x="123.640" y="121.050" width="2.038" height="11.150" fill="#dfdfdf"/>
<rect x="124.878" y="121.050" width="0.800" height="11.150" fill="#c0c0c0"/>
<rect x="126.128" y="121.050" width="2.038" height="11.150" fill="#dfdfdf"/>
<rect x="127.366" y="121.050" width="0.800" height="11.150" fill="#c0c0c0"/>
<rect x="128.616" y="121.050" width="2.038" height="11.150" fill="#dfdfdf"/>
<rect x="129.854" y="121.050" width="0.800" height="11.150" fill="#c0c0c0"/>
<rect x="131.104" y="121.050" width="2.038" height="11.150" fill="#dfdfdf"/>
<rect x="132.342" y="121.050" width="0.800" height="11.150" fill="#c0c0c0"/>
<rect x="133.592" y="121.050" width="2.038" height="11.150" fill="#dfdfdf"/>
<rect x="134.830" y="121.050" width="0.800" height="11.150" fill="#c0c0c0"/>
<rect x="136.080" y="121.050" width="2.038" height="11.150" fill="#dfdfdf"/>
<rect x="137.318" y="121.050" width="0.800" height="11.150" fill="#c0c0c0"/>
<rect x="138.568" y="121.050" width="2.038" height="11.150" fill="#dfdfdf"/>
<rect x="139.806" y="121.050" width="0.800" height="11.150" fill="#c0c0c0"/>
<rect x="141.056" y="121.050" width="2.038" height="11.150" fill="#dfdfdf"/>
<rect x="142.294" y="121.050" width="0.800" height="11.150" fill="#c0c0c0"/>
<rect x="143.544" y="121.050" width="2.038" height="11.150" fill="#dfdfdf"/>
<rect x="144.782" y="121.050" width="0.800" height="11.150" fill="#c0c0c0"/>
<rect x="146.032" y="121.050" width="2.038" height="11.150" fill="#dfdfdf"/>
<rect x="147.270" y="121.050" width="0.800" height="11.150" fill="#c0c0c0"/>
<rect x="148.520" y="121.050" width="2.038" height="11.150" fill="#dfdfdf"/>
<rect x="149.758" y="121.050" width="0.800" height="11.150" fill="#c0c0c0"/>
<rect x="151.008" y="121.050" width="2.038" height="11.150" fill="#dfdfdf"/>
<rect x="152.246" y="121.050" width="0.800" height="11.150" fill="#c0c0c0"/>
<rect x="153.496" y="121.050" width="2.038" height="11.150" fill="#dfdfdf"/>
<rect x="154.734" y="121.050" width="0.800" height="11.150" fill="#c0c0c0"/>
<rect x="155.984" y="121.050" width="2.038" height="11.150" fill="#dfdfdf"/>
<rect x="157.222" y="121.050" width="0.800" height="11.150" fill="#c0c0c0"/>
<rect x="158.472" y="121.050" width="2.038" height="11.150" fill="#dfdfdf"/>
<rect x="159.710" y="121.050" width="0.800" height="11.150" fill="#c0c0c0"/>
<rect x="160.960" y="121.050" width="2.038" height="11.150" fill="#dfdfdf"/>
<rect x="162.198" y="121.050" width="0.800" height="11.150" fill="#c0c0c0"/>
<rect x="163.448" y="121.050" width="2.038" height="11.150" fill="#dfdfdf"/>
<rect x="164.686" y="121.050" width="0.800" height="11.150" fill="#c0c0c0"/>
<rect x="165.936" y="121.050" width="2.038" height="11.150" fill="#dfdfdf"/>
<rect x="167.174" y="121.050" width="0.800" height="11.150" fill="#c0c0c0"/>
<rect x="168.424" y="121.050" width="2.038" height="11.150" fill="#dfdfdf"/>
<rect x="169.662" y="121.050" width="0.800" height="11.150" fill="#c0c0c0"/>
<rect x="170.912" y="121.050" width="2.038" height="11.150" fill="#dfdfdf"/>
<rect x="172.150" y="121.050" width="0.800" height="11.150" fill="#c0c0c0"/>
<rect x="173.400" y="121.050" width="2.038" height="11.150" fill="#dfdfdf"/>
<rect x="174.638" y="121.050" width="0.800" height="11.150" fill="#c0c0c0"/>
<rect x="175.888" y="121.050" width="2.038" height="11.150" fill="#dfdfdf"/>
<rect x="177.126" y="121.050" width="0.800" height="11.150" fill="#c0c0c0"/>
<rect x="178.376" y="121.050" width="2.038" height="11.150" fill="#dfdfdf"/>
<rect x="179.614" y="121.050" width="0.800" height="11.150" fill="#c0c0c0"/>
<rect x="180.864" y="121.050" width="2.038" height="11.150" fill="#dfdfdf"/>
<rect x="182.102" y="121.050" width="0.800" height="11.150" fill="#c0c0c0"/>
<rect x="183.352" y="121.050" width="2.038" height="11.150" fill="#dfdfdf"/>
<rect x="184.590" y="121.050" width="0.800" height="11.150" fill="#c0c0c0"/>
<rect x="185.840" y="121.050" width="2.038" height="11.150" fill="#dfdfdf"/>
<rect x="187.078" y="121.050" width="0.800" height="11.150" fill="#c0c0c0"/>
<rect x="188.328" y="121.050" width="2.038" height="11.150" fill="#dfdfdf"/>
<rect x="189.566" y="121.050" width="0.800" height="11.150" fill="#c0c0c0"/>
<rect x="190.816" y="121.050" width="2.038" height="11.150" fill="#4d6699"/>
<rect x="192.254" y="121.050" width="0.600" height="11.150" fill="#17326c"/>
<rect x="193.304" y="121.050" width="2.038" height="11.150" fill="#4d6699"/>
<rect x="194.742" y="121.050" width="0.600" height="11.150" fill="#17326c"/>
<rect x="195.792" y="121.050" width="2.038" height="11.150" fill="#4d6699"/>
<rect x="197.230" y="121.050" width="0.600" height="11.150" fill="#17326c"/>
<rect x="198.280" y="121.050" width="2.038" height="11.150" fill="#dfdfdf"/>
<rect x="199.518" y="121.050" width="0.800" height="11.150" fill="#c0c0c0"/>
<rect x="200.768" y="121.050" width="2.038" height="11.150" fill="#dfdfdf"/>
<rect x="202.006" y="121.050" width="0.800" height="11.150" fill="#c0c0c0"/>
<rect x="203.256" y="121.050" width="2.038" height="11.150" fill="#dfdfdf"/>
<rect x="204.494" y="121.050" width="0.800" height="11.150" fill="#c0c0c0"/>
<rect x="205.744" y="121.050" width="2.038" height="11.150" fill="#dfdfdf"/>
<rect x="206.982" y="121.050" width="0.800" height="11.150" fill="#c0c0c0"/>
<rect x="208.232" y="121.050" width="2.038" height="11.150" fill="#dfdfdf"/>
<rect x="209.470" y="121.050" width="0.800" height="11.150" fill="#c0c0c0"/>
<rect x="210.720" y="121.050" width="2.038" height="11.150" fill="#dfdfdf"/>
<rect x="211.958" y="121.050" width="0.800" height="11.150" fill="#c0c0c0"/>
<rect x="213.208" y="121.050" width="2.038" height="11.150" fill="#dfdfdf"/>
<rect x="214.446" y="121.050" width="0.800" height="11.150" fill="#c0c0c0"/>
<rect x="215.696" y="121.050" width="2.038" height="11.150" fill="#dfdfdf"/>
<rect x="216.934" y="121.050" width="0.800" height="11.150" fill="#c0c0c0"/>
<rect x="218.184" y="121.050" width="2.038" height="11.150" fill="#dfdfdf"/>
<rect x="219.422" y="121.050" width="0.800" height="11.150" fill="#c0c0c0"/>
<rect x="220.672" y="121.050" width="2.038" height="11.150" fill="#dfdfdf"/>
<rect x="221.910" y="121.050" width="0.800" height="11.150" fill="#c0c0c0"/>
<rect x="223.160" y="121.050" width="2.038" height="11.150" fill="#dfdfdf"/>
<rect x="224.398" y="121.050" width="0.800" height="11.150" fill="#c0c0c0"/>
<rect x="225.648" y="121.050" width="2.038" height="11.150" fill="#dfdfdf"/>
<rect x="226.886" y="121.050" width="0.800" height="11.150" fill="#c0c0c0"/>
<rect x="228.136" y="121.050" width="2.038" height="11.150" fill="#dfdfdf"/>
<rect x="229.374" y="121.050" width="0.800" height="11.150" fill="#c0c0c0"/>
<rect x="230.624" y="121.050" width="2.038" height="11.150" fill="#dfdfdf"/>
<rect x="231.862" y="121.050" width="0.800" height="11.150" fill="#c0c0c0"/>
<rect x="233.112" y="121.050" width="2.038" height="11.150" fill="#dfdfdf"/>
<rect x="234.350" y="121.050" width="0.800" height="11.150" fill="#c0c0c0"/>
<rect x="235.600" y="121.050" width="2.038" height="11.150" fill="#dfdfdf"/>
<rect x="236.838" y="121.050" width="0.800" height="11.150" fill="#c0c0c0"/>
<rect x="238.088" y="121.050" width="2.038" height="11.150" fill="#dfdfdf"/>
<rect x="239.326" y="121.050" width="0.800" height="11.150" fill="#c0c0c0"/>
<rect x="240.576" y="121.050" width="2.038" height="11.150" fill="#dfdfdf"/>
<rect x="241.814" y="121.050" width="0.800" height="11.150" fill="#c0c0c0"/>
<rect x="243.064" y="121.050" width="2.038" height="11.150" fill="#dfdfdf"/>
<rect x="244.302" y="121.050" width="0.800" height="11.150" fill="#c0c0c0"/>
<rect x="245.552" y="121.050" width="2.038" height="11.150" fill="#dfdfdf"/>
<rect x="246.790" y="121.050" width="0.800" height="11.150" fill="#c0c0c0"/>
<rect x="248.040" y="121.050" width="2.038" height="11.150" fill="#dfdfdf"/>
<rect x="249.278" y="121.050" width="0.800" height="11.150" fill="#c0c0c0"/>
<rect x="250.528" y="121.050" width="2.038" height="11.150" fill="#dfdfdf"/>
<rect x="251.766" y="121.050" width="0.800" height="11.150" fill="#c0c0c0"/>
<rect x="253.016" y="121.050" width="2.038" height="11.150" fill="#dfdfdf"/>
<rect x="254.254" y="121.050" width="0.800" height="11.150" fill="#c0c0c0"/>
<rect x="255.504" y="121.050" width="2.038" height="11.150" fill="#dfdfdf"/>
<rect x="256.742" y="121.050" width="0.800" height="11.150" fill="#c0c0c0"/>
<rect x="257.992" y="121.050" width="2.038" height="11.150" fill="#dfdfdf"/>
<rect x="259.230" y="121.050" width="0.800" height="11.150" fill="#c0c0c0"/>
<rect x="260.480" y="121.050" width="2.038" height="11.150" fill="#dfdfdf"/>
<rect x="261.718" y="121.050" width="0.800" height="11.150" fill="#c0c0c0"/>
<rect x="262.968" y="121.050" width="2.038" height="11.150" fill="#dfdfdf"/>
<rect x="264.206" y="121.050" width="0.800" height="11.150" fill="#c0c0c0"/>
<rect x="265.456" y="121.050" width="2.038" height="11.150" fill="#dfdfdf"/>
<rect x="266.694" y="121.050" width="0.800" height="11.150" fill="#c0c0c0"/>
<rect x="267.944" y="121.050" width="2.038" height="11.150" fill="#dfdfdf"/>
<rect x="269.182" y="121.050" width="0.800" height="11.150" fill="#c0c0c0"/>
<rect x="270.432" y="121.050" width="2.038" height="11.150" fill="#dfdfdf"/>
<rect x="271.670" y="121.050" width="0.800" height="11.150" fill="#c0c0c0"/>
<rect x="272.920" y="121.050" width="2.038" height="11.150" fill="#dfdfdf"/>
<rect x="274.158" y="121.050" width="0.800" height="11.150" fill="#c0c0c0"/>
<rect x="275.408" y="121.050" width="2.038" height="11.150" fill="#dfdfdf"/>
<rect x="276.646" y="121.050" width="0.800" height="11.150" fill="#c0c0c0"/>
<rect x="277.896" y="121.050" width="2.038" height="11.150" fill="#dfdfdf"/>
<rect x="279.134" y="121.050" width="0.800" height="11.150" fill="#c0c0c0"/>
<rect x="280.384" y="121.050" width="2.038" height="11.150" fill="#dfdfdf"/>
<rect x="281.622" y="121.050" width="0.800" height="11.150" fill="#c0c0c0"/>
<rect x="282.872" y="121.050" width="2.038" height="11.150" fill="#dfdfdf"/>
<rect x="284.110" y="121.050" width="0.800" height="11.150" fill="#c0c0c0"/>
<rect x="285.360" y="121.050" width="2.038" height="11.150" fill="#dfdfdf"/>
<rect x="286.598" y="121.050" width="0.800" height="11.150" fill="#c0c0c0"/>
<rect x="287.848" y="121.050" width="2.038" height="11.150" fill="#dfdfdf"/>
<rect x="289.086" y="121.050" width="0.800" height="11.150" fill="#c0c0c0"/>
<rect x="49.000" y="133.700" width="2.038" height="11.150" fill="#dfdfdf"/>
<rect x="50.238" y="133.700" width="0.800" height="11.150" fill="#c0c0c0"/>
<rect x="51.488" y="133.700" width="2.038" height="11.150" fill="#dfdfdf"/>
<rect x="52.726" y="133.700" width="0.800" height="11.150" fill="#c0c0c0"/>
<rect x="53.976" y="133.700" width="2.038" height="11.150" fill="#dfdfdf"/>
<rect x="55.214" y="133.700" width="0.800" height="11.150" fill="#c0c0c0"/>
<rect x="56.464" y="133.700" width="2.038" height="11.150" fill="#dfdfdf"/>
<rect x="57.702" y="133.700" width="0.800" height="11.150" fill="#c0c0c0"/>
<rect x="58.952" y="133.700" width="2.038" height="11.150" fill="#dfdfdf"/>
<rect x="60.190" y="133.700" width="0.800" height="11.150" fill="#c0c0c0"/>
<rect x="61.440" y="133.700" width="2.038" height="11.150" fill="#dfdfdf"/>
<rect x="62.678" y="133.700" width="0.800" height="11.150" fill="#c0c0c0"/>
<rect x="63.928" y="133.700" width="2.038" height="11.150" fill="#dfdfdf"/>
<rect x="65.166" y="133.700" width="0.800" height="11.150" fill="#c0c0c0"/>
<rect x="66.416" y="133.700" width="2.038" height="11.150" fill="#dfdfdf"/>
<rect x="67.654" y="133.700" width="0.800" height="11.150" fill="#c0c0c0"/>
<rect x="68.904" y="133.700" width="2.038" height="11.150" fill="#dfdfdf"/>
<rect x="70.142" y="133.700" width="0.800" height="11.150" fill="#c0c0c0"/>
<rect x="71.392" y="133.700" width="2.038" height="11.150" fill="#dfdfdf"/>
<rect x="72.630" y="133.700" width="0.800" height="11.150" fill="#c0c0c0"/>
<rect x="73.880" y="133.700" width="2.038" height="11.150" fill="#dfdfdf"/>
<rect x="75.118" y="133.700" width="0.800" height="11.150" fill="#c0c0c0"/>
<rect x="76.368" y="133.700" width="2.038" height="11.150" fill="#dfdfdf"/>
<rect x="77.606" y="133.700" width="0.800" height="11.150" fill="#c0c0c0"/>
<rect x="78.856" y="133.700" width="2.038" height="11.150" fill="#dfdfdf"/>
<rect x="80.094" y="133.700" width="0.800" height="11.150" fill="#c0c0c0"/>
<rect x="81.344" y="133.700" width="2.038" height="11.150" fill="#dfdfdf"/>
<rect x="82.582" y="133.700" width="0.800" height="11.150" fill="#c0c0c0"/>
<rect x="83.832" y="133.700" width="2.038" height="11.150" fill="#dfdfdf"/>
<rect x="85.070" y="133.700" width="0.800" height="11.150" fill="#c0c0c0"/>
<rect x="86.320" y="133.700" width="2.038" height="11.150" fill="#dfdfdf"/>
<rect x="87.558" y="133.700" width="0.800" height="11.150" fill="#c0c0c0"/>
<rect x="88.808" y="133.700" width="2.038" height="11.150" fill="#dfdfdf"/>
<rect x="90.046" y="133.700" width="0.800" height="11.150" fill="#c0c0c0"/>
<rect x="91.296" y="133.700" width="2.038" height="11.150" fill="#dfdfdf"/>
<rect x="92.534" y="133.700" width="0.800" height="11.150" fill="#c0c0c0"/>
<rect x="93.784" y="133.700" width="2.038" height="11.150" fill="#dfdfdf"/>
<rect x="95.022" y="133.700" width="0.800" height="11.150" fill="#c0c0c0"/>
<rect x="96.272" y="133.700" width="2.038" height="11.150" fill="#dfdfdf"/>
<rect x="97.510" y="133.700" width="0.800" height="11.150" fill="#c0c0c0"/>
<rect x="98.760" y="133.700" width="2.038" height="11.150" fill="#dfdfdf"/>
<rect x="99.998" y="133.700" width="0.800" height="11.150" fill="#c0c0c0"/>
<rect x="101.248" y="133.700" width="2.038" height="11.150" fill="#dfdfdf"/>
<rect x="102.486" y="133.700" width="0.800" height="11.150" fill="#c0c0c0"/>
<rect x="103.736" y="133.700" width="2.038" height="11.150" fill="#dfdfdf"/>
<rect x="104.974" y="133.700" width="0.800" height="11.150" fill="#c0c0c0"/>
<rect x="106.224" y="133.700" width="2.038" height="11.150" fill="#dfdfdf"/>
<rect x="107.462" y="133.700" width="0.800" height="11.150" fill="#c0c0c0"/>
<rect x="108.712" y="133.700" width="2.038" height="11.150" fill="#dfdfdf"/>
<rect x="109.950" y="133.700" width="0.800" height="11.150" fill="#c0c0c0"/>
<rect x="111.200" y="133.700" width="2.038" height="11.150" fill="#dfdfdf"/>
<rect x="112.438" y="133.700" width="0.800" height="11.150" fill="#c0c0c0"/>
<rect x="113.688" y="133.700" width="2.038" height="11.150" fill="#dfdfdf"/>
<rect x="114.926" y="133.700" width="0.800" height="11.150" fill="#c0c0c0"/>
<rect x="116.176" y="133.700" width="2.038" height="11.150" fill="#dfdfdf"/>
<rect x="117.414" y="133.700" width="0.800" height="11.150" fill="#c0c0c0"/>
<rect x="118.664" y="133.700" width="2.038" height="11.150" fill="#dfdfdf"/>
<rect x="119.902" y="133.700" width="0.800" height="11.150" fill="#c0c0c0"/>
<rect x="121.152" y="133.700" width="2.038" height="11.150" fill="#dfdfdf"/>
<rect x="122.390" y="133.700" width="0.800" height="11.150" fill="#c0c0c0"/>
<rect x="123.640" y="133.700" width="2.038" height="11.150" fill="#dfdfdf"/>
<rect x="124.878" y="133.700" width="0.800" height="11.150" fill="#c0c0c0"/>
<rect x="126.128" y="133.700" width="2.038" height="11.150" fill="#dfdfdf"/>
<rect x="127.366" y="133.700" width="0.800" height="11.150" fill="#c0c0c0"/>
<rect x="128.616" y="133.700" width="2.038" height="11.150" fill="#dfdfdf"/>
<rect x="129.854" y="133.700" width="0.800" height="11.150" fill="#c0c0c0"/>
<rect x="131.104" y="133.700" width="2.038" height="11.150" fill="#dfdfdf"/>
<rect x="132.342" y="133.700" width="0.800" height="11.150" fill="#c0c0c0"/>
<rect x="133.592" y="133.700" width="2.038" height="11.150" fill="#dfdfdf"/>
<rect x="134.830" y="133.700" width="0.800" height="11.150" fill="#c0c0c0"/>
<rect x="136.080" y="133.700" width="2.038" height="11.150" fill="#dfdfdf"/>
<rect x="137.318" y="133.700" width="0.800" height="11.150" fill="#c0c0c0"/>
<rect x="138.568" y="133.700" width="2.038" height="11.150" fill="#dfdfdf"/>
<rect x="139.806" y="133.700" width="0.800" height="11.150" fill="#c0c0c0"/>
<rect x="141.056" y="133.700" width="2.038" height="11.150" fill="#dfdfdf"/>
<rect x="142.294" y="133.700" width="0.800" height="11.150" fill="#c0c0c0"/>
<rect x="143.544" y="133.700" width="2.038" height="11.150" fill="#dfdfdf"/>
<rect x="144.782" y="133.700" width="0.800" height="11.150" fill="#c0c0c0"/>
<rect x="146.032" y="133.700" width="2.038" height="11.150" fill="#dfdfdf"/>
<rect x="147.270" y="133.700" width="0.800" height="11.150" fill="#c0c0c0"/>
<rect x="148.520" y="133.700" width="2.038" height="11.150" fill="#dfdfdf"/>
<rect x="149.758" y="133.700" width="0.800" height="11.150" fill="#c0c0c0"/>
<rect x="151.008" y="133.700" width="2.038" height="11.150" fill="#dfdfdf"/>
<rect x="152.246" y="133.700" width="0.800" height="11.150" fill="#c0c0c0"/>
<rect x="153.496" y="133.700" width="2.038" height="11.150" fill="#dfdfdf"/>
<rect x="154.734" y="133.700" width="0.800" height="11.150" fill="#c0c0c0"/>
<rect x="155.984" y="133.700" width="2.038" height="11.150" fill="#dfdfdf"/>
<rect x="157.222" y="133.700" width="0.800" height="11.150" fill="#c0c0c0"/>
<rect x="158.472" y="133.700" width="2.038" height="11.150" fill="#dfdfdf"/>
<rect x="159.710" y="133.700" width="0.800" height="11.150" fill="#c0c0c0"/>
<rect x="160.960" y="133.700" width="2.038" height="11.150" fill="#dfdfdf"/>
<rect x="162.198" y="133.700" width="0.800" height="11.150" fill="#c0c0c0"/>
<rect x="163.448" y="133.700" width="2.038" height="11.150" fill="#dfdfdf"/>
<rect x="164.686" y="133.700" width="0.800" height="11.150" fill="#c0c0c0"/>
<rect x="165.936" y="133.700" width="2.038" height="11.150" fill="#dfdfdf"/>
<rect x="167.174" y="133.700" width="0.800" height="11.150" fill="#c0c0c0"/>
<rect x="168.424" y="133.700" width="2.038" height="11.150" fill="#dfdfdf"/>
<rect x="169.662" y="133.700" width="0.800" height="11.150" fill="#c0c0c0"/>
<rect x="170.912" y="133.700" width="2.038" height="11.150" fill="#4d6699"/>
<rect x="172.350" y="133.700" width="0.600" height="11.150" fill="#17326c"/>
<rect x="173.400" y="133.700" width="2.038" height="11.150" fill="#4d6699"/>
<rect x="174.838" y="133.700" width="0.600" height="11.150" fill="#17326c"/>
<rect x="175.888" y="133.700" width="2.038" height="11.150" fill="#dfdfdf"/>
<rect x="177.126" y="133.700" width="0.800" height="11.150" fill="#c0c0c0"/>
<rect x="178.376" y="133.700" width="2.038" height="11.150" fill="#dfdfdf"/>
<rect x="179.614" y="133.700" width="0.800" height="11.150" fill="#c0c0c0"/>
<rect x="180.864" y="133.700" width="2.038" height="11.150" fill="#dfdfdf"/>
<rect x="182.102" y="133.700" width="0.800" height="11.150" fill="#c0c0c0"/>
<rect x="183.352" y="133.700" width="2.038" height="11.150" fill="#dfdfdf"/>
<rect x="184.590" y="133.700" width="0.800" height="11.150" fill="#c0c0c0"/>
<rect x="185.840" y="133.700" width="2.038" height="11.150" fill="#dfdfdf"/>
<rect x="187.078" y="133.700" width="0.800" height="11.150" fill="#c0c0c0"/>
<rect x="188.328" y="133.700" width="2.038" height="11.150" fill="#dfdfdf"/>
<rect x="189.566" y="133.700" width="0.800" height="11.150" fill="#c0c0c0"/>
<rect x="190.816" y="133.700" width="2.038" height="11.150" fill="#dfdfdf"/>
<rect x="192.054" y="133.700" width="0.800" height="11.150" fill="#c0c0c0"/>
<rect x="193.304" y="133.700" width="2.038" height="11.150" fill="#dfdfdf"/>
<rect x="194.542" y="133.700" width="0.800" height="11.150" fill="#c0c0c0"/>
<rect x="195.792" y="133.700" width="2.038" height="11.150" fill="#dfdfdf"/>
<rect x="197.030" y="133.700" width="0.800" height="11.150" fill="#c0c0c0"/>
<rect x="198.280" y="133.700" width="2.038" height="11.150" fill="#dfdfdf"/>
<rect x="199.518" y="133.700" width="0.800" height="11.150" fill="#c0c0c0"/>
<rect x="200.768" y="133.700" width="2.038" height="11.150" fill="#dfdfdf"/>
<rect x="202.006" y="133.700" width="0.800" height="11.150" fill="#c0c0c0"/>
<rect x="203.256" y="133.700" width="2.038" height="11.150" fill="#dfdfdf"/>
<rect x="204.494" y="133.700" width="0.800" height="11.150" fill="#c0c0c0"/>
<rect x="205.744" y="133.700" width="2.038" height="11.150" fill="#dfdfdf"/>
<rect x="206.982" y="133.700" width="0.800" height="11.150" fill="#c0c0c0"/>
<rect x="208.232" y="133.700" width="2.038" height="11.150" fill="#dfdfdf"/>
<rect x="209.470" y="133.700" width="0.800" height="11.150" fill="#c0c0c0"/>
<rect x="210.720" y="133.700" width="2.038" height="11.150" fill="#dfdfdf"/>
<rect x="211.958" y="133.700" width="0.800" height="11.150" fill="#c0c0c0"/>
<rect x="213.208" y="133.700" width="2.038" height="11.150" fill="#dfdfdf"/>
<rect x="214.446" y="133.700" width="0.800" height="11.150" fill="#c0c0c0"/>
<rect x="215.696" y="133.700" width="2.038" height="11.150" fill="#dfdfdf"/>
<rect x="216.934" y="133.700" width="0.800" height="11.150" fill="#c0c0c0"/>
<rect x="218.184" y="133.700" width="2.038" height="11.150" fill="#dfdfdf"/>
<rect x="219.422" y="133.700" width="0.800" height="11.150" fill="#c0c0c0"/>
<rect x="220.672" y="133.700" width="2.038" height="11.150" fill="#dfdfdf"/>
<rect x="221.910" y="133.700" width="0.800" height="11.150" fill="#c0c0c0"/>
<rect x="223.160" y="133.700" width="2.038" height="11.150" fill="#dfdfdf"/>
<rect x="224.398" y="133.700" width="0.800" height="11.150" fill="#c0c0c0"/>
<rect x="225.648" y="133.700" width="2.038" height="11.150" fill="#dfdfdf"/>
<rect x="226.886" y="133.700" width="0.800" height="11.150" fill="#c0c0c0"/>
<rect x="228.136" y="133.700" width="2.038" height="11.150" fill="#4d6699"/>
<rect x="229.574" y="133.700" width="0.600" height="11.150" fill="#17326c"/>
<rect x="230.624" y="133.700" width="2.038" height="11.150" fill="#4d6699"/>
<rect x="232.062" y="133.700" width="0.600" height="11.150" fill="#17326c"/>
<rect x="233.112" y="133.700" width="2.038" height="11.150" fill="#4d6699"/>
<rect x="234.550" y="133.700" width="0.600" height="11.150" fill="#17326c"/>
<rect x="235.600" y="133.700" width="2.038" height="11.150" fill="#4d6699"/>
<rect x="237.038" y="133.700" width="0.600" height="11.150" fill="#17326c"/>
<rect x="238.088" y="133.700" width="2.038" height="11.150" fill="#4d6699"/>
<rect x="239.526" y="133.700" width="0.600" height="11.150" fill="#17326c"/>
<rect x="240.576" y="133.700" width="2.038" height="11.150" fill="#dfdfdf"/>
<rect x="241.814" y="133.700" width="0.800" height="11.150" fill="#c0c0c0"/>
<rect x="243.064" y="133.700" width="2.038" height="11.150" fill="#dfdfdf"/>
<rect x="244.302" y="133.700" width="0.800" height="11.150" fill="#c0c0c0"/>
<rect x="245.552" y="133.700" width="2.038" height="11.150" fill="#dfdfdf"/>
<rect x="246.790" y="133.700" width="0.800" height="11.150" fill="#c0c0c0"/>
<rect x="248.040" y="133.700" width="2.038" height="11.150" fill="#dfdfdf"/>
<rect x="249.278" y="133.700" width="0.800" height="11.150" fill="#c0c0c0"/>
<rect x="250.528" y="133.700" width="2.038" height="11.150" fill="#dfdfdf"/>
<rect x="251.766" y="133.700" width="0.800" height="11.150" fill="#c0c0c0"/>
<rect x="253.016" y="133.700" width="2.038" height="11.150" fill="#dfdfdf"/>
<rect x="254.254" y="133.700" width="0.800" height="11.150" fill="#c0c0c0"/>
<rect x="255.504" y="133.700" width="2.038" height="11.150" fill="#dfdfdf"/>
<rect x="256.742" y="133.700" width="0.800" height="11.150" fill="#c0c0c0"/>
<rect x="257.992" y="133.700" width="2.038" height="11.150" fill="#dfdfdf"/>
<rect x="259.230" y="133.700" width="0.800" height="11.150" fill="#c0c0c0"/>
<rect x="260.480" y="133.700" width="2.038" height="11.150" fill="#4d6699"/>
<rect x="261.918" y="133.700" width="0.600" height="11.150" fill="#17326c"/>
<rect x="262.968" y="133.700" width="2.038" height="11.150" fill="#4d6699"/>
<rect x="264.406" y="133.700" width="0.600" height="11.150" fill="#17326c"/>
<rect x="265.456" y="133.700" width="2.038" height="11.150" fill="#4d6699"/>
<rect x="266.894" y="133.700" width="0.600" height="11.150" fill="#17326c"/>
<rect x="267.944" y="133.700" width="2.038" height="11.150" fill="#4d6699"/>
<rect x="269.382" y="133.700" width="0.600" height="11.150" fill="#17326c"/>
<rect x="270.432" y="133.700" width="2.038" height="11.150" fill="#dfdfdf"/>
<rect x="271.670" y="133.700" width="0.800" height="11.150" fill="#c0c0c0"/>
<rect x="272.920" y="133.700" width="2.038" height="11.150" fill="#dfdfdf"/>
<rect x="274.158" y="133.700" width="0.800" height="11.150" fill="#c0c0c0"/>
<rect x="275.408" y="133.700" width="2.038" height="11.150" fill="#dfdfdf"/>
<rect x="276.646" y="133.700" width="0.800" height="11.150" fill="#c0c0c0"/>
<rect x="277.896" y="133.700" width="2.038" height="11.150" fill="#dfdfdf"/>
<rect x="279.134" y="133.700" width="0.800" height="11.150" fill="#c0c0c0"/>
<rect x="280.384" y="133.700" width="2.038" height="11.150" fill="#dfdfdf"/>
<rect x="281.622" y="133.700" width="0.800" height="11.150" fill="#c0c0c0"/>
<rect x="282.872" y="133.700" width="2.038" height="11.150" fill="#dfdfdf"/>
<rect x="284.110" y="133.700" width="0.800" height="11.150" fill="#c0c0c0"/>
<rect x="285.360" y="133.700" width="2.038" height="11.150" fill="#dfdfdf"/>
<rect x="286.598" y="133.700" width="0.800" height="11.150" fill="#c0c0c0"/>
<rect x="287.848" y="133.700" width="2.038" height="11.150" fill="#dfdfdf"/>
<rect x="289.086" y="133.700" width="0.800" height="11.150" fill="#c0c0c0"/>
<rect x="49.000" y="146.350" width="2.038" height="11.150" fill="#dfdfdf"/>
<rect x="50.238" y="146.350" width="0.800" height="11.150" fill="#c0c0c0"/>
<rect x="51.488" y="146.350" width="2.038" height="11.150" fill="#dfdfdf"/>
<rect x="52.726" y="146.350" width="0.800" height="11.150" fill="#c0c0c0"/>
<rect x="53.976" y="146.350" width="2.038" height="11.150" fill="#dfdfdf"/>
<rect x="55.214" y="146.350" width="0.800" height="11.150" fill="#c0c0c0"/>
<rect x="56.464" y="146.350" width="2.038" height="11.150" fill="#dfdfdf"/>
<rect x="57.702" y="146.350" width="0.800" height="11.150" fill="#c0c0c0"/>
<rect x="58.952" y="146.350" width="2.038" height="11.150" fill="#dfdfdf"/>
<rect x="60.190" y="146.350" width="0.800" height="11.150" fill="#c0c0c0"/>
<rect x="61.440" y="146.350" width="2.038" height="11.150" fill="#dfdfdf"/>
<rect x="62.678" y="146.350" width="0.800" height="11.150" fill="#c0c0c0"/>
<rect x="63.928" y="146.350" width="2.038" height="11.150" fill="#dfdfdf"/>
<rect x="65.166" y="146.350" width="0.800" height="11.150" fill="#c0c0c0"/>
<rect x="66.416" y="146.350" width="2.038" height="11.150" fill="#dfdfdf"/>
<rect x="67.654" y="146.350" width="0.800" height="11.150" fill="#c0c0c0"/>
<rect x="68.904" y="146.350" width="2.038" height="11.150" fill="#dfdfdf"/>
<rect x="70.142" y="146.350" width="0.800" height="11.150" fill="#c0c0c0"/>
<rect x="71.392" y="146.350" width="2.038" height="11.150" fill="#dfdfdf"/>
<rect x="72.630" y="146.350" width="0.800" height="11.150" fill="#c0c0c0"/>
<rect x="73.880" y="146.350" width="2.038" height="11.150" fill="#dfdfdf"/>
<rect x="75.118" y="146.350" width="0.800" height="11.150" fill="#c0c0c0"/>
<rect x="76.368" y="146.350" width="2.038" height="11.150" fill="#dfdfdf"/>
<rect x="77.606" y="146.350" width="0.800" height="11.150" fill="#c0c0c0"/>
<rect x="78.856" y="146.350" width="2.038" height="11.150" fill="#dfdfdf"/>
<rect x="80.094" y="146.350" width="0.800" height="11.150" fill="#c0c0c0"/>
<rect x="81.344" y="146.350" width="2.038" height="11.150" fill="#dfdfdf"/>
<rect x="82.582" y="146.350" width="0.800" height="11.150" fill="#c0c0c0"/>
<rect x="83.832" y="146.350" width="2.038" height="11.150" fill="#dfdfdf"/>
<rect x="85.070" y="146.350" width="0.800" height="11.150" fill="#c0c0c0"/>
<rect x="86.320" y="146.350" width="2.038" height="11.150" fill="#dfdfdf"/>
<rect x="87.558" y="146.350" width="0.800" height="11.150" fill="#c0c0c0"/>
<rect x="88.808" y="146.350" width="2.038" height="11.150" fill="#dfdfdf"/>
<rect x="90.046" y="146.350" width="0.800" height="11.150" fill="#c0c0c0"/>
<rect x="91.296" y="146.350" width="2.038" height="11.150" fill="#dfdfdf"/>
<rect x="92.534" y="146.350" width="0.800" height="11.150" fill="#c0c0c0"/>
<rect x="93.784" y="146.350" width="2.038" height="11.150" fill="#dfdfdf"/>
<rect x="95.022" y="146.350" width="0.800" height="11.150" fill="#c0c0c0"/>
<rect x="96.272" y="146.350" width="2.038" height="11.150" fill="#dfdfdf"/>
<rect x="97.510" y="146.350" width="0.800" height="11.150" fill="#c0c0c0"/>
<rect x="98.760" y="146.350" width="2.038" height="11.150" fill="#dfdfdf"/>
<rect x="99.998" y="146.350" width="0.800" height="11.150" fill="#c0c0c0"/>
<rect x="101.248" y="146.350" width="2.038" height="11.150" fill="#dfdfdf"/>
<rect x="102.486" y="146.350" width="0.800" height="11.150" fill="#c0c0c0"/>
<rect x="103.736" y="146.350" width="2.038" height="11.150" fill="#dfdfdf"/>
<rect x="104.974" y="146.350" width="0.800" height="11.150" fill="#c0c0c0"/>
<rect x="106.224" y="146.350" width="2.038" height="11.150" fill="#dfdfdf"/>
<rect x="107.462" y="146.350" width="0.800" height="11.150" fill="#c0c0c0"/>
<rect x="108.712" y="146.350" width="2.038" height="11.150" fill="#dfdfdf"/>
<rect x="109.950" y="146.350" width="0.800" height="11.150" fill="#c0c0c0"/>
<rect x="111.200" y="146.350" width="2.038" height="11.150" fill="#dfdfdf"/>
<rect x="112.438" y="146.350" width="0.800" height="11.150" fill="#c0c0c0"/>
<rect x="113.688" y="146.350" width="2.038" height="11.150" fill="#dfdfdf"/>
<rect x="114.926" y="146.350" width="0.800" height="11.150" fill="#c0c0c0"/>
<rect x="116.176" y="146.350" width="2.038" height="11.150" fill="#dfdfdf"/>
<rect x="117.414" y="146.350" width="0.800" height="11.150" fill="#c0c0c0"/>
<rect x="118.664" y="146.350" width="2.038" height="11.150" fill="#dfdfdf"/>
<rect x="119.902" y="146.350" width="0.800" height="11.150" fill="#c0c0c0"/>
<rect x="121.152" y="146.350" width="2.038" height="11.150" fill="#dfdfdf"/>
<rect x="122.390" y="146.350" width="0.800" height="11.150" fill="#c0c0c0"/>
<rect x="123.640" y="146.350" width="2.038" height="11.150" fill="#dfdfdf"/>
<rect x="124.878" y="146.350" width="0.800" height="11.150" fill="#c0c0c0"/>
<rect x="126.128" y="146.350" width="2.038" height="11.150" fill="#dfdfdf"/>
<rect x="127.366" y="146.350" width="0.800" height="11.150" fill="#c0c0c0"/>
<rect x="128.616" y="146.350" width="2.038" height="11.150" fill="#dfdfdf"/>
<rect x="129.854" y="146.350" width="0.800" height="11.150" fill="#c0c0c0"/>
<rect x="131.104" y="146.350" width="2.038" height="11.150" fill="#dfdfdf"/>
<rect x="132.342" y="146.350" width="0.800" height="11.150" fill="#c0c0c0"/>
<rect x="133.592" y="146.350" width="2.038" height="11.150" fill="#dfdfdf"/>
<rect x="134.830" y="146.350" width="0.800" height="11.150" fill="#c0c0c0"/>
<rect x="136.080" y="146.350" width="2.038" height="11.150" fill="#7bb663"/>
<rect x="137.518" y="146.350" width="0.600" height="11.150" fill="#52a02c"/>
<rect x="138.568" y="146.350" width="2.038" height="11.150" fill="#7bb663"/>
<rect x="140.006" y="146.350" width="0.600" height="11.150" fill="#52a02c"/>
<rect x="141.056" y="146.350" width="2.038" height="11.150" fill="#dfdfdf"/>
<rect x="142.294" y="146.350" width="0.800" height="11.150" fill="#c0c0c0"/>
<rect x="143.544" y="146.350" width="2.038" height="11.150" fill="#dfdfdf"/>
<rect x="144.782" y="146.350" width="0.800" height="11.150" fill="#c0c0c0"/>
<rect x="146.032" y="146.350" width="2.038" height="11.150" fill="#dfdfdf"/>
<rect x="147.270" y="146.350" width="0.800" height="11.150" fill="#c0c0c0"/>
<rect x="148.520" y="146.350" width="2.038" height="11.150" fill="#dfdfdf"/>
<rect x="149.758" y="146.350" width="0.800" height="11.150" fill="#c0c0c0"/>
<rect x="151.008" y="146.350" width="2.038" height="11.150" fill="#dfdfdf"/>
<rect x="152.246" y="146.350" width="0.800" height="11.150" fill="#c0c0c0"/>
<rect x="153.496" y="146.350" width="2.038" height="11.150" fill="#dfdfdf"/>
<rect x="154.734" y="146.350" width="0.800" height="11.150" fill="#c0c0c0"/>
<rect x="155.984" y="146.350" width="2.038" height="11.150" fill="#dfdfdf"/>
<rect x="157.222" y="146.350" width="0.800" height="11.150" fill="#c0c0c0"/>
<rect x="158.472" y="146.350" width="2.038" height="11.150" fill="#dfdfdf"/>
<rect x="159.710" y="146.350" width="0.800" height="11.150" fill="#c0c0c0"/>
<rect x="160.960" y="146.350" width="2.038" height="11.150" fill="#dfdfdf"/>
<rect x="162.198" y="146.350" width="0.800" height="11.150" fill="#c0c0c0"/>
<rect x="163.448" y="146.350" width="2.038" height="11.150" fill="#dfdfdf"/>
<rect x="164.686" y="146.350" width="0.800" height="11.150" fill="#c0c0c0"/>
<rect x="165.936" y="146.350" width="2.038" height="11.150" fill="#dfdfdf"/>
<rect x="167.174" y="146.350" width="0.800" height="11.150" fill="#c0c0c0"/>
<rect x="168.424" y="146.350" width="2.038" height="11.150" fill="#dfdfdf"/>
<rect x="169.662" y="146.350" width="0.800" height="11.150" fill="#c0c0c0"/>
<rect x="170.912" y="146.350" width="2.038" height="11.150" fill="#dfdfdf"/>
<rect x="172.150" y="146.350" width="0.800" height="11.150" fill="#c0c0c0"/>
<rect x="173.400" y="146.350" width="2.038" height="11.150" fill="#dfdfdf"/>
<rect x="174.638" y="146.350" width="0.800" height="11.150" fill="#c0c0c0"/>
<rect x="175.888" y="146.350" width="2.038" height="11.150" fill="#dfdfdf"/>
<rect x="177.126" y="146.350" width="0.800" height="11.150" fill="#c0c0c0"/>
<rect x="178.376" y="146.350" width="2.038" height="11.150" fill="#dfdfdf"/>
<rect x="179.614" y="146.350" width="0.800" height="11.150" fill="#c0c0c0"/>
<rect x="180.864" y="146.350" width="2.038" height="11.150" fill="#dfdfdf"/>
<rect x="182.102" y="146.350" width="0.800" height="11.150" fill="#c0c0c0"/>
<rect x="183.352" y="146.350" width="2.038" height="11.150" fill="#dfdfdf"/>
<rect x="184.590" y="146.350" width="0.800" height="11.150" fill="#c0c0c0"/>
<rect x="185.840" y="146.350" width="2.038" height="11.150" fill="#dfdfdf"/>
<rect x="187.078" y="146.350" width="0.800" height="11.150" fill="#c0c0c0"/>
<rect x="188.328" y="146.350" width="2.038" height="11.150" fill="#dfdfdf"/>
<rect x="189.566" y="146.350" width="0.800" height="11.150" fill="#c0c0c0"/>
<rect x="190.816" y="146.350" width="2.038" height="11.150" fill="#dfdfdf"/>
<rect x="192.054" y="146.350" width="0.800" height="11.150" fill="#c0c0c0"/>
<rect x="193.304" y="146.350" width="2.038" height="11.150" fill="#dfdfdf"/>
<rect x="194.542" y="146.350" width="0.800" height="11.150" fill="#c0c0c0"/>
<rect x="195.792" y="146.350" width="2.038" height="11.150" fill="#dfdfdf"/>
<rect x="197.030" y="146.350" width="0.800" height="11.150" fill="#c0c0c0"/>
<rect x="198.280" y="146.350" width="2.038" height="11.150" fill="#dfdfdf"/>
<rect x="199.518" y="146.350" width="0.800" height="11.150" fill="#c0c0c0"/>
<rect x="200.768" y="146.350" width="2.038" height="11.150" fill="#dfdfdf"/>
<rect x="202.006" y="146.350" width="0.800" height="11.150" fill="#c0c0c0"/>
<rect x="203.256" y="146.350" width="2.038" height="11.150" fill="#dfdfdf"/>
<rect x="204.494" y="146.350" width="0.800" height="11.150" fill="#c0c0c0"/>
<rect x="205.744" y="146.350" width="2.038" height="11.150" fill="#dfdfdf"/>
<rect x="206.982" y="146.350" width="0.800" height="11.150" fill="#c0c0c0"/>
<rect x="208.232" y="146.350" width="2.038" height="11.150" fill="#dfdfdf"/>
<rect x="209.470" y="146.350" width="0.800" height="11.150" fill="#c0c0c0"/>
<rect x="210.720" y="146.350" width="2.038" height="11.150" fill="#dfdfdf"/>
<rect x="211.958" y="146.350" width="0.800" height="11.150" fill="#c0c0c0"/>
<rect x="213.208" y="146.350" width="2.038" height="11.150" fill="#dfdfdf"/>
<rect x="214.446" y="146.350" width="0.800" height="11.150" fill="#c0c0c0"/>
<rect x="215.696" y="146.350" width="2.038" height="11.150" fill="#dfdfdf"/>
<rect x="216.934" y="146.350" width="0.800" height="11.150" fill="#c0c0c0"/>
<rect x="218.184" y="146.350" width="2.038" height="11.150" fill="#dfdfdf"/>
<rect x="219.422" y="146.350" width="0.800" height="11.150" fill="#c0c0c0"/>
<rect x="220.672" y="146.350" width="2.038" height="11.150" fill="#dfdfdf"/>
<rect x="221.910" y="146.350" width="0.800" height="11.150" fill="#c0c0c0"/>
<rect x="223.160" y="146.350" width="2.038" height="11.150" fill="#dfdfdf"/>
<rect x="224.398" y="146.350" width="0.800" height="11.150" fill="#c0c0c0"/>
<rect x="225.648" y="146.350" width="2.038" height="11.150" fill="#dfdfdf"/>
<rect x="226.886" y="146.350" width="0.800" height="11.150" fill="#c0c0c0"/>
<rect x="228.136" y="146.350" width="2.038" height="11.150" fill="#dfdfdf"/>
<rect x="229.374" y="146.350" width="0.800" height="11.150" fill="#c0c0c0"/>
<rect x="230.624" y="146.350" width="2.038" height="11.150" fill="#dfdfdf"/>
<rect x="231.862" y="146.350" width="0.800" height="11.150" fill="#c0c0c0"/>
<rect x="233.112" y="146.350" width="2.038" height="11.150" fill="#dfdfdf"/>
<rect x="234.350" y="146.350" width="0.800" height="11.150" fill="#c0c0c0"/>
<rect x="235.600" y="146.350" width="2.038" height="11.150" fill="#dfdfdf"/>
<rect x="236.838" y="146.350" width="0.800" height="11.150" fill="#c0c0c0"/>
<rect x="238.088" y="146.350" width="2.038" height="11.150" fill="#dfdfdf"/>
<rect x="239.326" y="146.350" width="0.800" height="11.150" fill="#c0c0c0"/>
<rect x="240.576" y="146.350" width="2.038" height="11.150" fill="#a898d8"/>
<rect x="242.014" y="146.350" width="0.600" height="11.150" fill="#7c6cc0"/>
<rect x="243.064" y="146.350" width="2.038" height="11.150" fill="#7bb663"/>
<rect x="244.502" y="146.350" width="0.600" height="11.150" fill="#52a02c"/>
<rect x="245.552" y="146.350" width="2.038" height="11.150" fill="#7bb663"/>
<rect x="246.990" y="146.350" width="0.600" height="11.150" fill="#52a02c"/>
<rect x="248.040" y="146.350" width="2.038" height="11.150" fill="#dfdfdf"/>
<rect x="249.278" y="146.350" width="0.800" height="11.150" fill="#c0c0c0"/>
<rect x="250.528" y="146.350" width="2.038" height="11.150" fill="#dfdfdf"/>
<rect x="251.766" y="146.350" width="0.800" height="11.150" fill="#c0c0c0"/>
<rect x="253.016" y="146.350" width="2.038" height="11.150" fill="#dfdfdf"/>
<rect x="254.254" y="146.350" width="0.800" height="11.150" fill="#c0c0c0"/>
<rect x="255.504" y="146.350" width="2.038" height="11.150" fill="#dfdfdf"/>
<rect x="256.742" y="146.350" width="0.800" height="11.150" fill="#c0c0c0"/>
<rect x="257.992" y="146.350" width="2.038" height="11.150" fill="#dfdfdf"/>
<rect x="259.230" y="146.350" width="0.800" height="11.150" fill="#c0c0c0"/>
<rect x="260.480" y="146.350" width="2.038" height="11.150" fill="#dfdfdf"/>
<rect x="261.718" y="146.350" width="0.800" height="11.150" fill="#c0c0c0"/>
<rect x="262.968" y="146.350" width="2.038" height="11.150" fill="#dfdfdf"/>
<rect x="264.206" y="146.350" width="0.800" height="11.150" fill="#c0c0c0"/>
<rect x="265.456" y="146.350" width="2.038" height="11.150" fill="#dfdfdf"/>
<rect x="266.694" y="146.350" width="0.800" height="11.150" fill="#c0c0c0"/>
<rect x="267.944" y="146.350" width="2.038" height="11.150" fill="#dfdfdf"/>
<rect x="269.182" y="146.350" width="0.800" height="11.150" fill="#c0c0c0"/>
<rect x="270.432" y="146.350" width="2.038" height="11.150" fill="#a898d8"/>
<rect x="271.870" y="146.350" width="0.600" height="11.150" fill="#7c6cc0"/>
<rect x="272.920" y="146.350" width="2.038" height="11.150" fill="#7bb663"/>
<rect x="274.358" y="146.350" width="0.600" height="11.150" fill="#52a02c"/>
<rect x="275.408" y="146.350" width="2.038" height="11.150" fill="#a898d8"/>
<rect x="276.846" y="146.350" width="0.600" height="11.150" fill="#7c6cc0"/>
<rect x="277.896" y="146.350" width="2.038" height="11.150" fill="#7bb663"/>
<rect x="279.334" y="146.350" width="0.600" height="11.150" fill="#52a02c"/>
<rect x="280.384" y="146.350" width="2.038" height="11.150" fill="#7bb663"/>
<rect x="281.822" y="146.350" width="0.600" height="11.150" fill="#52a02c"/>
<rect x="282.872" y="146.350" width="2.038" height="11.150" fill="#dfdfdf"/>
<rect x="284.110" y="146.350" width="0.800" height="11.150" fill="#c0c0c0"/>
<rect x="285.360" y="146.350" width="2.038" height="11.150" fill="#dfdfdf"/>
<rect x="286.598" y="146.350" width="0.800" height="11.150" fill="#c0c0c0"/>
<rect x="287.848" y="146.350" width="2.038" height="11.150" fill="#dfdfdf"/>
<rect x="289.086" y="146.350" width="0.800" height="11.150" fill="#c0c0c0"/>
<rect x="49.000" y="159.000" width="2.038" height="11.150" fill="#dfdfdf"/>
<rect x="50.238" y="159.000" width="0.800" height="11.150" fill="#c0c0c0"/>
<rect x="51.488" y="159.000" width="2.038" height="11.150" fill="#dfdfdf"/>
<rect x="52.726" y="159.000" width="0.800" height="11.150" fill="#c0c0c0"/>
<rect x="53.976" y="159.000" width="2.038" height="11.150" fill="#dfdfdf"/>
<rect x="55.214" y="159.000" width="0.800" height="11.150" fill="#c0c0c0"/>
<rect x="56.464" y="159.000" width="2.038" height="11.150" fill="#dfdfdf"/>
<rect x="57.702" y="159.000" width="0.800" height="11.150" fill="#c0c0c0"/>
<rect x="58.952" y="159.000" width="2.038" height="11.150" fill="#dfdfdf"/>
<rect x="60.190" y="159.000" width="0.800" height="11.150" fill="#c0c0c0"/>
<rect x="61.440" y="159.000" width="2.038" height="11.150" fill="#dfdfdf"/>
<rect x="62.678" y="159.000" width="0.800" height="11.150" fill="#c0c0c0"/>
<rect x="63.928" y="159.000" width="2.038" height="11.150" fill="#dfdfdf"/>
<rect x="65.166" y="159.000" width="0.800" height="11.150" fill="#c0c0c0"/>
<rect x="66.416" y="159.000" width="2.038" height="11.150" fill="#dfdfdf"/>
<rect x="67.654" y="159.000" width="0.800" height="11.150" fill="#c0c0c0"/>
<rect x="68.904" y="159.000" width="2.038" height="11.150" fill="#dfdfdf"/>
<rect x="70.142" y="159.000" width="0.800" height="11.150" fill="#c0c0c0"/>
<rect x="71.392" y="159.000" width="2.038" height="11.150" fill="#dfdfdf"/>
<rect x="72.630" y="159.000" width="0.800" height="11.150" fill="#c0c0c0"/>
<rect x="73.880" y="159.000" width="2.038" height="11.150" fill="#dfdfdf"/>
<rect x="75.118" y="159.000" width="0.800" height="11.150" fill="#c0c0c0"/>
<rect x="76.368" y="159.000" width="2.038" height="11.150" fill="#dfdfdf"/>
<rect x="77.606" y="159.000" width="0.800" height="11.150" fill="#c0c0c0"/>
<rect x="78.856" y="159.000" width="2.038" height="11.150" fill="#dfdfdf"/>
<rect x="80.094" y="159.000" width="0.800" height="11.150" fill="#c0c0c0"/>
<rect x="81.344" y="159.000" width="2.038" height="11.150" fill="#dfdfdf"/>
<rect x="82.582" y="159.000" width="0.800" height="11.150" fill="#c0c0c0"/>
<rect x="83.832" y="159.000" width="2.038" height="11.150" fill="#dfdfdf"/>
<rect x="85.070" y="159.000" width="0.800" height="11.150" fill="#c0c0c0"/>
<rect x="86.320" y="159.000" width="2.038" height="11.150" fill="#dfdfdf"/>
<rect x="87.558" y="159.000" width="0.800" height="11.150" fill="#c0c0c0"/>
<rect x="88.808" y="159.000" width="2.038" height="11.150" fill="#dfdfdf"/>
<rect x="90.046" y="159.000" width="0.800" height="11.150" fill="#c0c0c0"/>
<rect x="91.296" y="159.000" width="2.038" height="11.150" fill="#dfdfdf"/>
<rect x="92.534" y="159.000" width="0.800" height="11.150" fill="#c0c0c0"/>
<rect x="93.784" y="159.000" width="2.038" height="11.150" fill="#dfdfdf"/>
<rect x="95.022" y="159.000" width="0.800" height="11.150" fill="#c0c0c0"/>
<rect x="96.272" y="159.000" width="2.038" height="11.150" fill="#dfdfdf"/>
<rect x="97.510" y="159.000" width="0.800" height="11.150" fill="#c0c0c0"/>
<rect x="98.760" y="159.000" width="2.038" height="11.150" fill="#dfdfdf"/>
<rect x="99.998" y="159.000" width="0.800" height="11.150" fill="#c0c0c0"/>
<rect x="101.248" y="159.000" width="2.038" height="11.150" fill="#dfdfdf"/>
<rect x="102.486" y="159.000" width="0.800" height="11.150" fill="#c0c0c0"/>
<rect x="103.736" y="159.000" width="2.038" height="11.150" fill="#dfdfdf"/>
<rect x="104.974" y="159.000" width="0.800" height="11.150" fill="#c0c0c0"/>
<rect x="106.224" y="159.000" width="2.038" height="11.150" fill="#dfdfdf"/>
<rect x="107.462" y="159.000" width="0.800" height="11.150" fill="#c0c0c0"/>
<rect x="108.712" y="159.000" width="2.038" height="11.150" fill="#dfdfdf"/>
<rect x="109.950" y="159.000" width="0.800" height="11.150" fill="#c0c0c0"/>
<rect x="111.200" y="159.000" width="2.038" height="11.150" fill="#dfdfdf"/>
<rect x="112.438" y="159.000" width="0.800" height="11.150" fill="#c0c0c0"/>
<rect x="113.688" y="159.000" width="2.038" height="11.150" fill="#dfdfdf"/>
<rect x="114.926" y="159.000" width="0.800" height="11.150" fill="#c0c0c0"/>
<rect x="116.176" y="159.000" width="2.038" height="11.150" fill="#dfdfdf"/>
<rect x="117.414" y="159.000" width="0.800" height="11.150" fill="#c0c0c0"/>
<rect x="118.664" y="159.000" width="2.038" height="11.150" fill="#dfdfdf"/>
<rect x="119.902" y="159.000" width="0.800" height="11.150" fill="#c0c0c0"/>
<rect x="121.152" y="159.000" width="2.038" height="11.150" fill="#dfdfdf"/>
<rect x="122.390" y="159.000" width="0.800" height="11.150" fill="#c0c0c0"/>
<rect x="123.640" y="159.000" width="2.038" height="11.150" fill="#dfdfdf"/>
<rect x="124.878" y="159.000" width="0.800" height="11.150" fill="#c0c0c0"/>
<rect x="126.128" y="159.000" width="2.038" height="11.150" fill="#dfdfdf"/>
<rect x="127.366" y="159.000" width="0.800" height="11.150" fill="#c0c0c0"/>
<rect x="128.616" y="159.000" width="2.038" height="11.150" fill="#dfdfdf"/>
<rect x="129.854" y="159.000" width="0.800" height="11.150" fill="#c0c0c0"/>
<rect x="131.104" y="159.000" width="2.038" height="11.150" fill="#dfdfdf"/>
<rect x="132.342" y="159.000" width="0.800" height="11.150" fill="#c0c0c0"/>
<rect x="133.592" y="159.000" width="2.038" height="11.150" fill="#dfdfdf"/>
<rect x="134.830" y="159.000" width="0.800" height="11.150" fill="#c0c0c0"/>
<rect x="136.080" y="159.000" width="2.038" height="11.150" fill="#dfdfdf"/>
<rect x="137.318" y="159.000" width="0.800" height="11.150" fill="#c0c0c0"/>
<rect x="138.568" y="159.000" width="2.038" height="11.150" fill="#dfdfdf"/>
<rect x="139.806" y="159.000" width="0.800" height="11.150" fill="#c0c0c0"/>
<rect x="141.056" y="159.000" width="2.038" height="11.150" fill="#dfdfdf"/>
<rect x="142.294" y="159.000" width="0.800" height="11.150" fill="#c0c0c0"/>
<rect x="143.544" y="159.000" width="2.038" height="11.150" fill="#dfdfdf"/>
<rect x="144.782" y="159.000" width="0.800" height="11.150" fill="#c0c0c0"/>
<rect x="146.032" y="159.000" width="2.038" height="11.150" fill="#dfdfdf"/>
<rect x="147.270" y="159.000" width="0.800" height="11.150" fill="#c0c0c0"/>
<rect x="148.520" y="159.000" width="2.038" height="11.150" fill="#dfdfdf"/>
<rect x="149.758" y="159.000" width="0.800" height="11.150" fill="#c0c0c0"/>
<rect x="151.008" y="159.000" width="2.038" height="11.150" fill="#dfdfdf"/>
<rect x="152.246" y="159.000" width="0.800" height="11.150" fill="#c0c0c0"/>
<rect x="153.496" y="159.000" width="2.038" height="11.150" fill="#dfdfdf"/>
<rect x="154.734" y="159.000" width="0.800" height="11.150" fill="#c0c0c0"/>
<rect x="155.984" y="159.000" width="2.038" height="11.150" fill="#dfdfdf"/>
<rect x="157.222" y="159.000" width="0.800" height="11.150" fill="#c0c0c0"/>
<rect x="158.472" y="159.000" width="2.038" height="11.150" fill="#dfdfdf"/>
<rect x="159.710" y="159.000" width="0.800" height="11.150" fill="#c0c0c0"/>
<rect x="160.960" y="159.000" width="2.038" height="11.150" fill="#dfdfdf"/>
<rect x="162.198" y="159.000" width="0.800" height="11.150" fill="#c0c0c0"/>
<rect x="163.448" y="159.000" width="2.038" height="11.150" fill="#dfdfdf"/>
<rect x="164.686" y="159.000" width="0.800" height="11.150" fill="#c0c0c0"/>
<rect x="165.936" y="159.000" width="2.038" height="11.150" fill="#dfdfdf"/>
<rect x="167.174" y="159.000" width="0.800" height="11.150" fill="#c0c0c0"/>
<rect x="168.424" y="159.000" width="2.038" height="11.150" fill="#dfdfdf"/>
<rect x="169.662" y="159.000" width="0.800" height="11.150" fill="#c0c0c0"/>
<rect x="170.912" y="159.000" width="2.038" height="11.150" fill="#dfdfdf"/>
<rect x="172.150" y="159.000" width="0.800" height="11.150" fill="#c0c0c0"/>
<rect x="173.400" y="159.000" width="2.038" height="11.150" fill="#dfdfdf"/>
<rect x="174.638" y="159.000" width="0.800" height="11.150" fill="#c0c0c0"/>
<rect x="175.888" y="159.000" width="2.038" height="11.150" fill="#dfdfdf"/>
<rect x="177.126" y="159.000" width="0.800" height="11.150" fill="#c0c0c0"/>
<rect x="178.376" y="159.000" width="2.038" height="11.150" fill="#dfdfdf"/>
<rect x="179.614" y="159.000" width="0.800" height="11.150" fill="#c0c0c0"/>
<rect x="180.864" y="159.000" width="2.038" height="11.150" fill="#dfdfdf"/>
<rect x="182.102" y="159.000" width="0.800" height="11.150" fill="#c0c0c0"/>
<rect x="183.352" y="159.000" width="2.038" height="11.150" fill="#dfdfdf"/>
<rect x="184.590" y="159.000" width="0.800" height="11.150" fill="#c0c0c0"/>
<rect x="185.840" y="159.000" width="2.038" height="11.150" fill="#dfdfdf"/>
<rect x="187.078" y="159.000" width="0.800" height="11.150" fill="#c0c0c0"/>
<rect x="188.328" y="159.000" width="2.038" height="11.150" fill="#dfdfdf"/>
<rect x="189.566" y="159.000" width="0.800" height="11.150" fill="#c0c0c0"/>
<rect x="190.816" y="159.000" width="2.038" height="11.150" fill="#dfdfdf"/>
<rect x="192.054" y="159.000" width="0.800" height="11.150" fill="#c0c0c0"/>
<rect x="193.304" y="159.000" width="2.038" height="11.150" fill="#dfdfdf"/>
<rect x="194.542" y="159.000" width="0.800" height="11.150" fill="#c0c0c0"/>
<rect x="195.792" y="159.000" width="2.038" height="11.150" fill="#dfdfdf"/>
<rect x="197.030" y="159.000" width="0.800" height="11.150" fill="#c0c0c0"/>
<rect x="198.280" y="159.000" width="2.038" height="11.150" fill="#dfdfdf"/>
<rect x="199.518" y="159.000" width="0.800" height="11.150" fill="#c0c0c0"/>
<rect x="200.768" y="159.000" width="2.038" height="11.150" fill="#dfdfdf"/>
<rect x="202.006" y="159.000" width="0.800" height="11.150" fill="#c0c0c0"/>
<rect x="203.256" y="159.000" width="2.038" height="11.150" fill="#dfdfdf"/>
<rect x="204.494" y="159.000" width="0.800" height="11.150" fill="#c0c0c0"/>
<rect x="205.744" y="159.000" width="2.038" height="11.150" fill="#dfdfdf"/>
<rect x="206.982" y="159.000" width="0.800" height="11.150" fill="#c0c0c0"/>
<rect x="208.232" y="159.000" width="2.038" height="11.150" fill="#dfdfdf"/>
<rect x="209.470" y="159.000" width="0.800" height="11.150" fill="#c0c0c0"/>
<rect x="210.720" y="159.000" width="2.038" height="11.150" fill="#dfdfdf"/>
<rect x="211.958" y="159.000" width="0.800" height="11.150" fill="#c0c0c0"/>
<rect x="213.208" y="159.000" width="2.038" height="11.150" fill="#dfdfdf"/>
<rect x="214.446" y="159.000" width="0.800" height="11.150" fill="#c0c0c0"/>
<rect x="215.696" y="159.000" width="2.038" height="11.150" fill="#dfdfdf"/>
<rect x="216.934" y="159.000" width="0.800" height="11.150" fill="#c0c0c0"/>
<rect x="218.184" y="159.000" width="2.038" height="11.150" fill="#dfdfdf"/>
<rect x="219.422" y="159.000" width="0.800" height="11.150" fill="#c0c0c0"/>
<rect x="220.672" y="159.000" width="2.038" height="11.150" fill="#dfdfdf"/>
<rect x="221.910" y="159.000" width="0.800" height="11.150" fill="#c0c0c0"/>
<rect x="223.160" y="159.000" width="2.038" height="11.150" fill="#dfdfdf"/>
<rect x="224.398" y="159.000" width="0.800" height="11.150" fill="#c0c0c0"/>
<rect x="225.648" y="159.000" width="2.038" height="11.150" fill="#dfdfdf"/>
<rect x="226.886" y="159.000" width="0.800" height="11.150" fill="#c0c0c0"/>
<rect x="228.136" y="159.000" width="2.038" height="11.150" fill="#dfdfdf"/>
<rect x="229.374" y="159.000" width="0.800" height="11.150" fill="#c0c0c0"/>
<rect x="230.624" y="159.000" width="2.038" height="11.150" fill="#dfdfdf"/>
<rect x="231.862" y="159.000" width="0.800" height="11.150" fill="#c0c0c0"/>
<rect x="233.112" y="159.000" width="2.038" height="11.150" fill="#dfdfdf"/>
<rect x="234.350" y="159.000" width="0.800" height="11.150" fill="#c0c0c0"/>
<rect x="235.600" y="159.000" width="2.038" height="11.150" fill="#dfdfdf"/>
<rect x="236.838" y="159.000" width="0.800" height="11.150" fill="#c0c0c0"/>
<rect x="238.088" y="159.000" width="2.038" height="11.150" fill="#dfdfdf"/>
<rect x="239.326" y="159.000" width="0.800" height="11.150" fill="#c0c0c0"/>
<rect x="240.576" y="159.000" width="2.038" height="11.150" fill="#dfdfdf"/>
<rect x="241.814" y="159.000" width="0.800" height="11.150" fill="#c0c0c0"/>
<rect x="243.064" y="159.000" width="2.038" height="11.150" fill="#dfdfdf"/>
<rect x="244.302" y="159.000" width="0.800" height="11.150" fill="#c0c0c0"/>
<rect x="245.552" y="159.000" width="2.038" height="11.150" fill="#dfdfdf"/>
<rect x="246.790" y="159.000" width="0.800" height="11.150" fill="#c0c0c0"/>
<rect x="248.040" y="159.000" width="2.038" height="11.150" fill="#dfdfdf"/>
<rect x="249.278" y="159.000" width="0.800" height="11.150" fill="#c0c0c0"/>
<rect x="250.528" y="159.000" width="2.038" height="11.150" fill="#dfdfdf"/>
<rect x="251.766" y="159.000" width="0.800" height="11.150" fill="#c0c0c0"/>
<rect x="253.016" y="159.000" width="2.038" height="11.150" fill="#dfdfdf"/>
<rect x="254.254" y="159.000" width="0.800" height="11.150" fill="#c0c0c0"/>
<rect x="255.504" y="159.000" width="2.038" height="11.150" fill="#dfdfdf"/>
<rect x="256.742" y="159.000" width="0.800" height="11.150" fill="#c0c0c0"/>
<rect x="257.992" y="159.000" width="2.038" height="11.150" fill="#dfdfdf"/>
<rect x="259.230" y="159.000" width="0.800" height="11.150" fill="#c0c0c0"/>
<rect x="260.480" y="159.000" width="2.038" height="11.150" fill="#4d6699"/>
<rect x="261.918" y="159.000" width="0.600" height="11.150" fill="#17326c"/>
<rect x="262.968" y="159.000" width="2.038" height="11.150" fill="#4d6699"/>
<rect x="264.406" y="159.000" width="0.600" height="11.150" fill="#17326c"/>
<rect x="265.456" y="159.000" width="2.038" height="11.150" fill="#dfdfdf"/>
<rect x="266.694" y="159.000" width="0.800" height="11.150" fill="#c0c0c0"/>
<rect x="267.944" y="159.000" width="2.038" height="11.150" fill="#dfdfdf"/>
<rect x="269.182" y="159.000" width="0.800" height="11.150" fill="#c0c0c0"/>
<rect x="270.432" y="159.000" width="2.038" height="11.150" fill="#dfdfdf"/>
<rect x="271.670" y="159.000" width="0.800" height="11.150" fill="#c0c0c0"/>
<rect x="272.920" y="159.000" width="2.038" height="11.150" fill="#dfdfdf"/>
<rect x="274.158" y="159.000" width="0.800" height="11.150" fill="#c0c0c0"/>
<rect x="275.408" y="159.000" width="2.038" height="11.150" fill="#dfdfdf"/>
<rect x="276.646" y="159.000" width="0.800" height="11.150" fill="#c0c0c0"/>
<rect x="277.896" y="159.000" width="2.038" height="11.150" fill="#dfdfdf"/>
<rect x="279.134" y="159.000" width="0.800" height="11.150" fill="#c0c0c0"/>
<rect x="280.384" y="159.000" width="2.038" height="11.150" fill="#dfdfdf"/>
<rect x="281.622" y="159.000" width="0.800" height="11.150" fill="#c0c0c0"/>
<rect x="282.872" y="159.000" width="2.038" height="11.150" fill="#4d6699"/>
<rect x="284.310" y="159.000" width="0.600" height="11.150" fill="#17326c"/>
<rect x="285.360" y="159.000" width="2.038" height="11.150" fill="#4d6699"/>
<rect x="286.798" y="159.000" width="0.600" height="11.150" fill="#17326c"/>
<rect x="287.848" y="159.000" width="2.038" height="11.150" fill="#4d6699"/>
<rect x="289.286" y="159.000" width="0.600" height="11.150" fill="#17326c"/>
<rect x="49.000" y="171.650" width="2.038" height="11.150" fill="#dfdfdf"/>
<rect x="50.238" y="171.650" width="0.800" height="11.150" fill="#c0c0c0"/>
<rect x="51.488" y="171.650" width="2.038" height="11.150" fill="#dfdfdf"/>
<rect x="52.726" y="171.650" width="0.800" height="11.150" fill="#c0c0c0"/>
<rect x="53.976" y="171.650" width="2.038" height="11.150" fill="#dfdfdf"/>
<rect x="55.214" y="171.650" width="0.800" height="11.150" fill="#c0c0c0"/>
<rect x="56.464" y="171.650" width="2.038" height="11.150" fill="#dfdfdf"/>
<rect x="57.702" y="171.650" width="0.800" height="11.150" fill="#c0c0c0"/>
<rect x="58.952" y="171.650" width="2.038" height="11.150" fill="#dfdfdf"/>
<rect x="60.190" y="171.650" width="0.800" height="11.150" fill="#c0c0c0"/>
<rect x="61.440" y="171.650" width="2.038" height="11.150" fill="#dfdfdf"/>
<rect x="62.678" y="171.650" width="0.800" height="11.150" fill="#c0c0c0"/>
<rect x="63.928" y="171.650" width="2.038" height="11.150" fill="#dfdfdf"/>
<rect x="65.166" y="171.650" width="0.800" height="11.150" fill="#c0c0c0"/>
<rect x="66.416" y="171.650" width="2.038" height="11.150" fill="#dfdfdf"/>
<rect x="67.654" y="171.650" width="0.800" height="11.150" fill="#c0c0c0"/>
<rect x="68.904" y="171.650" width="2.038" height="11.150" fill="#dfdfdf"/>
<rect x="70.142" y="171.650" width="0.800" height="11.150" fill="#c0c0c0"/>
<rect x="71.392" y="171.650" width="2.038" height="11.150" fill="#dfdfdf"/>
<rect x="72.630" y="171.650" width="0.800" height="11.150" fill="#c0c0c0"/>
<rect x="73.880" y="171.650" width="2.038" height="11.150" fill="#dfdfdf"/>
<rect x="75.118" y="171.650" width="0.800" height="11.150" fill="#c0c0c0"/>
<rect x="76.368" y="171.650" width="2.038" height="11.150" fill="#dfdfdf"/>
<rect x="77.606" y="171.650" width="0.800" height="11.150" fill="#c0c0c0"/>
<rect x="78.856" y="171.650" width="2.038" height="11.150" fill="#dfdfdf"/>
<rect x="80.094" y="171.650" width="0.800" height="11.150" fill="#c0c0c0"/>
<rect x="81.344" y="171.650" width="2.038" height="11.150" fill="#dfdfdf"/>
<rect x="82.582" y="171.650" width="0.800" height="11.150" fill="#c0c0c0"/>
<rect x="83.832" y="171.650" width="2.038" height="11.150" fill="#dfdfdf"/>
<rect x="85.070" y="171.650" width="0.800" height="11.150" fill="#c0c0c0"/>
<rect x="86.320" y="171.650" width="2.038" height="11.150" fill="#dfdfdf"/>
<rect x="87.558" y="171.650" width="0.800" height="11.150" fill="#c0c0c0"/>
<rect x="88.808" y="171.650" width="2.038" height="11.150" fill="#dfdfdf"/>
<rect x="90.046" y="171.650" width="0.800" height="11.150" fill="#c0c0c0"/>
<rect x="91.296" y="171.650" width="2.038" height="11.150" fill="#dfdfdf"/>
<rect x="92.534" y="171.650" width="0.800" height="11.150" fill="#c0c0c0"/>
<rect x="93.784" y="171.650" width="2.038" height="11.150" fill="#dfdfdf"/>
<rect x="95.022" y="171.650" width="0.800" height="11.150" fill="#c0c0c0"/>
<rect x="96.272" y="171.650" width="2.038" height="11.150" fill="#dfdfdf"/>
<rect x="97.510" y="171.650" width="0.800" height="11.150" fill="#c0c0c0"/>
<rect x="98.760" y="171.650" width="2.038" height="11.150" fill="#dfdfdf"/>
<rect x="99.998" y="171.650" width="0.800" height="11.150" fill="#c0c0c0"/>
<rect x="101.248" y="171.650" width="2.038" height="11.150" fill="#dfdfdf"/>
<rect x="102.486" y="171.650" width="0.800" height="11.150" fill="#c0c0c0"/>
<rect x="103.736" y="171.650" width="2.038" height="11.150" fill="#dfdfdf"/>
<rect x="104.974" y="171.650" width="0.800" height="11.150" fill="#c0c0c0"/>
<rect x="106.224" y="171.650" width="2.038" height="11.150" fill="#dfdfdf"/>
<rect x="107.462" y="171.650" width="0.800" height="11.150" fill="#c0c0c0"/>
<rect x="108.712" y="171.650" width="2.038" height="11.150" fill="#dfdfdf"/>
<rect x="109.950" y="171.650" width="0.800" height="11.150" fill="#c0c0c0"/>
<rect x="111.200" y="171.650" width="2.038" height="11.150" fill="#dfdfdf"/>
<rect x="112.438" y="171.650" width="0.800" height="11.150" fill="#c0c0c0"/>
<rect x="113.688" y="171.650" width="2.038" height="11.150" fill="#dfdfdf"/>
<rect x="114.926" y="171.650" width="0.800" height="11.150" fill="#c0c0c0"/>
<rect x="116.176" y="171.650" width="2.038" height="11.150" fill="#4d6699"/>
<rect x="117.614" y="171.650" width="0.600" height="11.150" fill="#17326c"/>
<rect x="118.664" y="171.650" width="2.038" height="11.150" fill="#4d6699"/>
<rect x="120.102" y="171.650" width="0.600" height="11.150" fill="#17326c"/>
<rect x="121.152" y="171.650" width="2.038" height="11.150" fill="#dfdfdf"/>
<rect x="122.390" y="171.650" width="0.800" height="11.150" fill="#c0c0c0"/>
<rect x="123.640" y="171.650" width="2.038" height="11.150" fill="#dfdfdf"/>
<rect x="124.878" y="171.650" width="0.800" height="11.150" fill="#c0c0c0"/>
<rect x="126.128" y="171.650" width="2.038" height="11.150" fill="#dfdfdf"/>
<rect x="127.366" y="171.650" width="0.800" height="11.150" fill="#c0c0c0"/>
<rect x="128.616" y="171.650" width="2.038" height="11.150" fill="#dfdfdf"/>
<rect x="129.854" y="171.650" width="0.800" height="11.150" fill="#c0c0c0"/>
<rect x="131.104" y="171.650" width="2.038" height="11.150" fill="#dfdfdf"/>
<rect x="132.342" y="171.650" width="0.800" height="11.150" fill="#c0c0c0"/>
<rect x="133.592" y="171.650" width="2.038" height="11.150" fill="#dfdfdf"/>
<rect x="134.830" y="171.650" width="0.800" height="11.150" fill="#c0c0c0"/>
<rect x="136.080" y="171.650" width="2.038" height="11.150" fill="#dfdfdf"/>
<rect x="137.318" y="171.650" width="0.800" height="11.150" fill="#c0c0c0"/>
<rect x="138.568" y="171.650" width="2.038" height="11.150" fill="#dfdfdf"/>
<rect x="139.806" y="171.650" width="0.800" height="11.150" fill="#c0c0c0"/>
<rect x="141.056" y="171.650" width="2.038" height="11.150" fill="#dfdfdf"/>
<rect x="142.294" y="171.650" width="0.800" height="11.150" fill="#c0c0c0"/>
<rect x="143.544" y="171.650" width="2.038" height="11.150" fill="#dfdfdf"/>
<rect x="144.782" y="171.650" width="0.800" height="11.150" fill="#c0c0c0"/>
<rect x="146.032" y="171.650" width="2.038" height="11.150" fill="#dfdfdf"/>
<rect x="147.270" y="171.650" width="0.800" height="11.150" fill="#c0c0c0"/>
<rect x="148.520" y="171.650" width="2.038" height="11.150" fill="#dfdfdf"/>
<rect x="149.758" y="171.650" width="0.800" height="11.150" fill="#c0c0c0"/>
<rect x="151.008" y="171.650" width="2.038" height="11.150" fill="#dfdfdf"/>
<rect x="152.246" y="171.650" width="0.800" height="11.150" fill="#c0c0c0"/>
<rect x="153.496" y="171.650" width="2.038" height="11.150" fill="#dfdfdf"/>
<rect x="154.734" y="171.650" width="0.800" height="11.150" fill="#c0c0c0"/>
<rect x="155.984" y="171.650" width="2.038" height="11.150" fill="#dfdfdf"/>
<rect x="157.222" y="171.650" width="0.800" height="11.150" fill="#c0c0c0"/>
<rect x="158.472" y="171.650" width="2.038" height="11.150" fill="#dfdfdf"/>
<rect x="159.710" y="171.650" width="0.800" height="11.150" fill="#c0c0c0"/>
<rect x="160.960" y="171.650" width="2.038" height="11.150" fill="#dfdfdf"/>
<rect x="162.198" y="171.650" width="0.800" height="11.150" fill="#c0c0c0"/>
<rect x="163.448" y="171.650" width="2.038" height="11.150" fill="#dfdfdf"/>
<rect x="164.686" y="171.650" width="0.800" height="11.150" fill="#c0c0c0"/>
<rect x="165.936" y="171.650" width="2.038" height="11.150" fill="#dfdfdf"/>
<rect x="167.174" y="171.650" width="0.800" height="11.150" fill="#c0c0c0"/>
<rect x="168.424" y="171.650" width="2.038" height="11.150" fill="#dfdfdf"/>
<rect x="169.662" y="171.650" width="0.800" height="11.150" fill="#c0c0c0"/>
<rect x="170.912" y="171.650" width="2.038" height="11.150" fill="#dfdfdf"/>
<rect x="172.150" y="171.650" width="0.800" height="11.150" fill="#c0c0c0"/>
<rect x="173.400" y="171.650" width="2.038" height="11.150" fill="#dfdfdf"/>
<rect x="174.638" y="171.650" width="0.800" height="11.150" fill="#c0c0c0"/>
<rect x="175.888" y="171.650" width="2.038" height="11.150" fill="#dfdfdf"/>
<rect x="177.126" y="171.650" width="0.800" height="11.150" fill="#c0c0c0"/>
<rect x="178.376" y="171.650" width="2.038" height="11.150" fill="#dfdfdf"/>
<rect x="179.614" y="171.650" width="0.800" height="11.150" fill="#c0c0c0"/>
<rect x="180.864" y="171.650" width="2.038" height="11.150" fill="#dfdfdf"/>
<rect x="182.102" y="171.650" width="0.800" height="11.150" fill="#c0c0c0"/>
<rect x="183.352" y="171.650" width="2.038" height="11.150" fill="#dfdfdf"/>
<rect x="184.590" y="171.650" width="0.800" height="11.150" fill="#c0c0c0"/>
<rect x="185.840" y="171.650" width="2.038" height="11.150" fill="#dfdfdf"/>
<rect x="187.078" y="171.650" width="0.800" height="11.150" fill="#c0c0c0"/>
<rect x="188.328" y="171.650" width="2.038" height="11.150" fill="#dfdfdf"/>
<rect x="189.566" y="171.650" width="0.800" height="11.150" fill="#c0c0c0"/>
<rect x="190.816" y="171.650" width="2.038" height="11.150" fill="#dfdfdf"/>
<rect x="192.054" y="171.650" width="0.800" height="11.150" fill="#c0c0c0"/>
<rect x="193.304" y="171.650" width="2.038" height="11.150" fill="#dfdfdf"/>
<rect x="194.542" y="171.650" width="0.800" height="11.150" fill="#c0c0c0"/>
<rect x="195.792" y="171.650" width="2.038" height="11.150" fill="#dfdfdf"/>
<rect x="197.030" y="171.650" width="0.800" height="11.150" fill="#c0c0c0"/>
<rect x="198.280" y="171.650" width="2.038" height="11.150" fill="#dfdfdf"/>
<rect x="199.518" y="171.650" width="0.800" height="11.150" fill="#c0c0c0"/>
<rect x="200.768" y="171.650" width="2.038" height="11.150" fill="#dfdfdf"/>
<rect x="202.006" y="171.650" width="0.800" height="11.150" fill="#c0c0c0"/>
<rect x="203.256" y="171.650" width="2.038" height="11.150" fill="#dfdfdf"/>
<rect x="204.494" y="171.650" width="0.800" height="11.150" fill="#c0c0c0"/>
<rect x="205.744" y="171.650" width="2.038" height="11.150" fill="#dfdfdf"/>
<rect x="206.982" y="171.650" width="0.800" height="11.150" fill="#c0c0c0"/>
<rect x="208.232" y="171.650" width="2.038" height="11.150" fill="#dfdfdf"/>
<rect x="209.470" y="171.650" width="0.800" height="11.150" fill="#c0c0c0"/>
<rect x="210.720" y="171.650" width="2.038" height="11.150" fill="#dfdfdf"/>
<rect x="211.958" y="171.650" width="0.800" height="11.150" fill="#c0c0c0"/>
<rect x="213.208" y="171.650" width="2.038" height="11.150" fill="#dfdfdf"/>
<rect x="214.446" y="171.650" width="0.800" height="11.150" fill="#c0c0c0"/>
<rect x="215.696" y="171.650" width="2.038" height="11.150" fill="#dfdfdf"/>
<rect x="216.934" y="171.650" width="0.800" height="11.150" fill="#c0c0c0"/>
<rect x="218.184" y="171.650" width="2.038" height="11.150" fill="#dfdfdf"/>
<rect x="219.422" y="171.650" width="0.800" height="11.150" fill="#c0c0c0"/>
<rect x="220.672" y="171.650" width="2.038" height="11.150" fill="#dfdfdf"/>
<rect x="221.910" y="171.650" width="0.800" height="11.150" fill="#c0c0c0"/>
<rect x="223.160" y="171.650" width="2.038" height="11.150" fill="#dfdfdf"/>
<rect x="224.398" y="171.650" width="0.800" height="11.150" fill="#c0c0c0"/>
<rect x="225.648" y="171.650" width="2.038" height="11.150" fill="#dfdfdf"/>
<rect x="226.886" y="171.650" width="0.800" height="11.150" fill="#c0c0c0"/>
<rect x="228.136" y="171.650" width="2.038" height="11.150" fill="#dfdfdf"/>
<rect x="229.374" y="171.650" width="0.800" height="11.150" fill="#c0c0c0"/>
<rect x="230.624" y="171.650" width="2.038" height="11.150" fill="#dfdfdf"/>
<rect x="231.862" y="171.650" width="0.800" height="11.150" fill="#c0c0c0"/>
<rect x="233.112" y="171.650" width="2.038" height="11.150" fill="#dfdfdf"/>
<rect x="234.350" y="171.650" width="0.800" height="11.150" fill="#c0c0c0"/>
<rect x="235.600" y="171.650" width="2.038" height="11.150" fill="#dfdfdf"/>
<rect x="236.838" y="171.650" width="0.800" height="11.150" fill="#c0c0c0"/>
<rect x="238.088" y="171.650" width="2.038" height="11.150" fill="#dfdfdf"/>
<rect x="239.326" y="171.650" width="0.800" height="11.150" fill="#c0c0c0"/>
<rect x="240.576" y="171.650" width="2.038" height="11.150" fill="#dfdfdf"/>
<rect x="241.814" y="171.650" width="0.800" height="11.150" fill="#c0c0c0"/>
<rect x="243.064" y="171.650" width="2.038" height="11.150" fill="#dfdfdf"/>
<rect x="244.302" y="171.650" width="0.800" height="11.150" fill="#c0c0c0"/>
<rect x="245.552" y="171.650" width="2.038" height="11.150" fill="#dfdfdf"/>
<rect x="246.790" y="171.650" width="0.800" height="11.150" fill="#c0c0c0"/>
<rect x="248.040" y="171.650" width="2.038" height="11.150" fill="#dfdfdf"/>
<rect x="249.278" y="171.650" width="0.800" height="11.150" fill="#c0c0c0"/>
<rect x="250.528" y="171.650" width="2.038" height="11.150" fill="#dfdfdf"/>
<rect x="251.766" y="171.650" width="0.800" height="11.150" fill="#c0c0c0"/>
<rect x="253.016" y="171.650" width="2.038" height="11.150" fill="#dfdfdf"/>
<rect x="254.254" y="171.650" width="0.800" height="11.150" fill="#c0c0c0"/>
<rect x="255.504" y="171.650" width="2.038" height="11.150" fill="#dfdfdf"/>
<rect x="256.742" y="171.650" width="0.800" height="11.150" fill="#c0c0c0"/>
<rect x="257.992" y="171.650" width="2.038" height="11.150" fill="#dfdfdf"/>
<rect x="259.230" y="171.650" width="0.800" height="11.150" fill="#c0c0c0"/>
<rect x="260.480" y="171.650" width="2.038" height="11.150" fill="#dfdfdf"/>
<rect x="261.718" y="171.650" width="0.800" height="11.150" fill="#c0c0c0"/>
<rect x="262.968" y="171.650" width="2.038" height="11.150" fill="#dfdfdf"/>
<rect x="264.206" y="171.650" width="0.800" height="11.150" fill="#c0c0c0"/>
<rect x="265.456" y="171.650" width="2.038" height="11.150" fill="#dfdfdf"/>
<rect x="266.694" y="171.650" width="0.800" height="11.150" fill="#c0c0c0"/>
<rect x="267.944" y="171.650" width="2.038" height="11.150" fill="#dfdfdf"/>
<rect x="269.182" y="171.650" width="0.800" height="11.150" fill="#c0c0c0"/>
<rect x="270.432" y="171.650" width="2.038" height="11.150" fill="#4d6699"/>
<rect x="271.870" y="171.650" width="0.600" height="11.150" fill="#17326c"/>
<rect x="272.920" y="171.650" width="2.038" height="11.150" fill="#4d6699"/>
<rect x="274.358" y="171.650" width="0.600" height="11.150" fill="#17326c"/>
<rect x="275.408" y="171.650" width="2.038" height="11.150" fill="#dfdfdf"/>
<rect x="276.646" y="171.650" width="0.800" height="11.150" fill="#c0c0c0"/>
<rect x="277.896" y="171.650" width="2.038" height="11.150" fill="#dfdfdf"/>
<rect x="279.134" y="171.650" width="0.800" height="11.150" fill="#c0c0c0"/>
<rect x="280.384" y="171.650" width="2.038" height="11.150" fill="#dfdfdf"/>
<rect x="281.622" y="171.650" width="0.800" height="11.150" fill="#c0c0c0"/>
<rect x="282.872" y="171.650" width="2.038" height="11.150" fill="#dfdfdf"/>
<rect x="284.110" y="171.650" width="0.800" height="11.150" fill="#c0c0c0"/>
<rect x="285.360" y="171.650" width="2.038" height="11.150" fill="#dfdfdf"/>
<rect x="286.598" y="171.650" width="0.800" height="11.150" fill="#c0c0c0"/>
<rect x="287.848" y="171.650" width="2.038" height="11.150" fill="#dfdfdf"/>
<rect x="289.086" y="171.650" width="0.800" height="11.150" fill="#c0c0c0"/>
<rect x="49.000" y="184.300" width="2.038" height="11.150" fill="#dfdfdf"/>
<rect x="50.238" y="184.300" width="0.800" height="11.150" fill="#c0c0c0"/>
<rect x="51.488" y="184.300" width="2.038" height="11.150" fill="#dfdfdf"/>
<rect x="52.726" y="184.300" width="0.800" height="11.150" fill="#c0c0c0"/>
<rect x="53.976" y="184.300" width="2.038" height="11.150" fill="#dfdfdf"/>
<rect x="55.214" y="184.300" width="0.800" height="11.150" fill="#c0c0c0"/>
<rect x="56.464" y="184.300" width="2.038" height="11.150" fill="#dfdfdf"/>
<rect x="57.702" y="184.300" width="0.800" height="11.150" fill="#c0c0c0"/>
<rect x="58.952" y="184.300" width="2.038" height="11.150" fill="#dfdfdf"/>
<rect x="60.190" y="184.300" width="0.800" height="11.150" fill="#c0c0c0"/>
<rect x="61.440" y="184.300" width="2.038" height="11.150" fill="#dfdfdf"/>
<rect x="62.678" y="184.300" width="0.800" height="11.150" fill="#c0c0c0"/>
<rect x="63.928" y="184.300" width="2.038" height="11.150" fill="#dfdfdf"/>
<rect x="65.166" y="184.300" width="0.800" height="11.150" fill="#c0c0c0"/>
<rect x="66.416" y="184.300" width="2.038" height="11.150" fill="#dfdfdf"/>
<rect x="67.654" y="184.300" width="0.800" height="11.150" fill="#c0c0c0"/>
<rect x="68.904" y="184.300" width="2.038" height="11.150" fill="#dfdfdf"/>
<rect x="70.142" y="184.300" width="0.800" height="11.150" fill="#c0c0c0"/>
<rect x="71.392" y="184.300" width="2.038" height="11.150" fill="#dfdfdf"/>
<rect x="72.630" y="184.300" width="0.800" height="11.150" fill="#c0c0c0"/>
<rect x="73.880" y="184.300" width="2.038" height="11.150" fill="#dfdfdf"/>
<rect x="75.118" y="184.300" width="0.800" height="11.150" fill="#c0c0c0"/>
<rect x="76.368" y="184.300" width="2.038" height="11.150" fill="#dfdfdf"/>
<rect x="77.606" y="184.300" width="0.800" height="11.150" fill="#c0c0c0"/>
<rect x="78.856" y="184.300" width="2.038" height="11.150" fill="#dfdfdf"/>
<rect x="80.094" y="184.300" width="0.800" height="11.150" fill="#c0c0c0"/>
<rect x="81.344" y="184.300" width="2.038" height="11.150" fill="#dfdfdf"/>
<rect x="82.582" y="184.300" width="0.800" height="11.150" fill="#c0c0c0"/>
<rect x="83.832" y="184.300" width="2.038" height="11.150" fill="#dfdfdf"/>
<rect x="85.070" y="184.300" width="0.800" height="11.150" fill="#c0c0c0"/>
<rect x="86.320" y="184.300" width="2.038" height="11.150" fill="#dfdfdf"/>
<rect x="87.558" y="184.300" width="0.800" height="11.150" fill="#c0c0c0"/>
<rect x="88.808" y="184.300" width="2.038" height="11.150" fill="#dfdfdf"/>
<rect x="90.046" y="184.300" width="0.800" height="11.150" fill="#c0c0c0"/>
<rect x="91.296" y="184.300" width="2.038" height="11.150" fill="#dfdfdf"/>
<rect x="92.534" y="184.300" width="0.800" height="11.150" fill="#c0c0c0"/>
<rect x="93.784" y="184.300" width="2.038" height="11.150" fill="#dfdfdf"/>
<rect x="95.022" y="184.300" width="0.800" height="11.150" fill="#c0c0c0"/>
<rect x="96.272" y="184.300" width="2.038" height="11.150" fill="#4d6699"/>
<rect x="97.710" y="184.300" width="0.600" height="11.150" fill="#17326c"/>
<rect x="98.760" y="184.300" width="2.038" height="11.150" fill="#4d6699"/>
<rect x="100.198" y="184.300" width="0.600" height="11.150" fill="#17326c"/>
<rect x="101.248" y="184.300" width="2.038" height="11.150" fill="#4d6699"/>
<rect x="102.686" y="184.300" width="0.600" height="11.150" fill="#17326c"/>
<rect x="103.736" y="184.300" width="2.038" height="11.150" fill="#dfdfdf"/>
<rect x="104.974" y="184.300" width="0.800" height="11.150" fill="#c0c0c0"/>
<rect x="106.224" y="184.300" width="2.038" height="11.150" fill="#dfdfdf"/>
<rect x="107.462" y="184.300" width="0.800" height="11.150" fill="#c0c0c0"/>
<rect x="108.712" y="184.300" width="2.038" height="11.150" fill="#dfdfdf"/>
<rect x="109.950" y="184.300" width="0.800" height="11.150" fill="#c0c0c0"/>
<rect x="111.200" y="184.300" width="2.038" height="11.150" fill="#dfdfdf"/>
<rect x="112.438" y="184.300" width="0.800" height="11.150" fill="#c0c0c0"/>
<rect x="113.688" y="184.300" width="2.038" height="11.150" fill="#dfdfdf"/>
<rect x="114.926" y="184.300" width="0.800" height="11.150" fill="#c0c0c0"/>
<rect x="116.176" y="184.300" width="2.038" height="11.150" fill="#dfdfdf"/>
<rect x="117.414" y="184.300" width="0.800" height="11.150" fill="#c0c0c0"/>
<rect x="118.664" y="184.300" width="2.038" height="11.150" fill="#dfdfdf"/>
<rect x="119.902" y="184.300" width="0.800" height="11.150" fill="#c0c0c0"/>
<rect x="121.152" y="184.300" width="2.038" height="11.150" fill="#dfdfdf"/>
<rect x="122.390" y="184.300" width="0.800" height="11.150" fill="#c0c0c0"/>
<rect x="123.640" y="184.300" width="2.038" height="11.150" fill="#dfdfdf"/>
<rect x="124.878" y="184.300" width="0.800" height="11.150" fill="#c0c0c0"/>
<rect x="126.128" y="184.300" width="2.038" height="11.150" fill="#dfdfdf"/>
<rect x="127.366" y="184.300" width="0.800" height="11.150" fill="#c0c0c0"/>
<rect x="128.616" y="184.300" width="2.038" height="11.150" fill="#dfdfdf"/>
<rect x="129.854" y="184.300" width="0.800" height="11.150" fill="#c0c0c0"/>
<rect x="131.104" y="184.300" width="2.038" height="11.150" fill="#dfdfdf"/>
<rect x="132.342" y="184.300" width="0.800" height="11.150" fill="#c0c0c0"/>
<rect x="133.592" y="184.300" width="2.038" height="11.150" fill="#dfdfdf"/>
<rect x="134.830" y="184.300" width="0.800" height="11.150" fill="#c0c0c0"/>
<rect x="136.080" y="184.300" width="2.038" height="11.150" fill="#dfdfdf"/>
<rect x="137.318" y="184.300" width="0.800" height="11.150" fill="#c0c0c0"/>
<rect x="138.568" y="184.300" width="2.038" height="11.150" fill="#dfdfdf"/>
<rect x="139.806" y="184.300" width="0.800" height="11.150" fill="#c0c0c0"/>
<rect x="141.056" y="184.300" width="2.038" height="11.150" fill="#4d6699"/>
<rect x="142.494" y="184.300" width="0.600" height="11.150" fill="#17326c"/>
<rect x="143.544" y="184.300" width="2.038" height="11.150" fill="#dfdfdf"/>
<rect x="144.782" y="184.300" width="0.800" height="11.150" fill="#c0c0c0"/>
<rect x="146.032" y="184.300" width="2.038" height="11.150" fill="#dfdfdf"/>
<rect x="147.270" y="184.300" width="0.800" height="11.150" fill="#c0c0c0"/>
<rect x="148.520" y="184.300" width="2.038" height="11.150" fill="#dfdfdf"/>
<rect x="149.758" y="184.300" width="0.800" height="11.150" fill="#c0c0c0"/>
<rect x="151.008" y="184.300" width="2.038" height="11.150" fill="#dfdfdf"/>
<rect x="152.246" y="184.300" width="0.800" height="11.150" fill="#c0c0c0"/>
<rect x="153.496" y="184.300" width="2.038" height="11.150" fill="#dfdfdf"/>
<rect x="154.734" y="184.300" width="0.800" height="11.150" fill="#c0c0c0"/>
<rect x="155.984" y="184.300" width="2.038" height="11.150" fill="#dfdfdf"/>
<rect x="157.222" y="184.300" width="0.800" height="11.150" fill="#c0c0c0"/>
<rect x="158.472" y="184.300" width="2.038" height="11.150" fill="#dfdfdf"/>
<rect x="159.710" y="184.300" width="0.800" height="11.150" fill="#c0c0c0"/>
<rect x="160.960" y="184.300" width="2.038" height="11.150" fill="#dfdfdf"/>
<rect x="162.198" y="184.300" width="0.800" height="11.150" fill="#c0c0c0"/>
<rect x="163.448" y="184.300" width="2.038" height="11.150" fill="#dfdfdf"/>
<rect x="164.686" y="184.300" width="0.800" height="11.150" fill="#c0c0c0"/>
<rect x="165.936" y="184.300" width="2.038" height="11.150" fill="#dfdfdf"/>
<rect x="167.174" y="184.300" width="0.800" height="11.150" fill="#c0c0c0"/>
<rect x="168.424" y="184.300" width="2.038" height="11.150" fill="#dfdfdf"/>
<rect x="169.662" y="184.300" width="0.800" height="11.150" fill="#c0c0c0"/>
<rect x="170.912" y="184.300" width="2.038" height="11.150" fill="#dfdfdf"/>
<rect x="172.150" y="184.300" width="0.800" height="11.150" fill="#c0c0c0"/>
<rect x="173.400" y="184.300" width="2.038" height="11.150" fill="#dfdfdf"/>
<rect x="174.638" y="184.300" width="0.800" height="11.150" fill="#c0c0c0"/>
<rect x="175.888" y="184.300" width="2.038" height="11.150" fill="#dfdfdf"/>
<rect x="177.126" y="184.300" width="0.800" height="11.150" fill="#c0c0c0"/>
<rect x="178.376" y="184.300" width="2.038" height="11.150" fill="#dfdfdf"/>
<rect x="179.614" y="184.300" width="0.800" height="11.150" fill="#c0c0c0"/>
<rect x="180.864" y="184.300" width="2.038" height="11.150" fill="#dfdfdf"/>
<rect x="182.102" y="184.300" width="0.800" height="11.150" fill="#c0c0c0"/>
<rect x="183.352" y="184.300" width="2.038" height="11.150" fill="#dfdfdf"/>
<rect x="184.590" y="184.300" width="0.800" height="11.150" fill="#c0c0c0"/>
<rect x="185.840" y="184.300" width="2.038" height="11.150" fill="#dfdfdf"/>
<rect x="187.078" y="184.300" width="0.800" height="11.150" fill="#c0c0c0"/>
<rect x="188.328" y="184.300" width="2.038" height="11.150" fill="#dfdfdf"/>
<rect x="189.566" y="184.300" width="0.800" height="11.150" fill="#c0c0c0"/>
<rect x="190.816" y="184.300" width="2.038" height="11.150" fill="#dfdfdf"/>
<rect x="192.054" y="184.300" width="0.800" height="11.150" fill="#c0c0c0"/>
<rect x="193.304" y="184.300" width="2.038" height="11.150" fill="#dfdfdf"/>
<rect x="194.542" y="184.300" width="0.800" height="11.150" fill="#c0c0c0"/>
<rect x="195.792" y="184.300" width="2.038" height="11.150" fill="#dfdfdf"/>
<rect x="197.030" y="184.300" width="0.800" height="11.150" fill="#c0c0c0"/>
<rect x="198.280" y="184.300" width="2.038" height="11.150" fill="#dfdfdf"/>
<rect x="199.518" y="184.300" width="0.800" height="11.150" fill="#c0c0c0"/>
<rect x="200.768" y="184.300" width="2.038" height="11.150" fill="#dfdfdf"/>
<rect x="202.006" y="184.300" width="0.800" height="11.150" fill="#c0c0c0"/>
<rect x="203.256" y="184.300" width="2.038" height="11.150" fill="#dfdfdf"/>
<rect x="204.494" y="184.300" width="0.800" height="11.150" fill="#c0c0c0"/>
<rect x="205.744" y="184.300" width="2.038" height="11.150" fill="#dfdfdf"/>
<rect x="206.982" y="184.300" width="0.800" height="11.150" fill="#c0c0c0"/>
<rect x="208.232" y="184.300" width="2.038" height="11.150" fill="#dfdfdf"/>
<rect x="209.470" y="184.300" width="0.800" height="11.150" fill="#c0c0c0"/>
<rect x="210.720" y="184.300" width="2.038" height="11.150" fill="#dfdfdf"/>
<rect x="211.958" y="184.300" width="0.800" height="11.150" fill="#c0c0c0"/>
<rect x="213.208" y="184.300" width="2.038" height="11.150" fill="#dfdfdf"/>
<rect x="214.446" y="184.300" width="0.800" height="11.150" fill="#c0c0c0"/>
<rect x="215.696" y="184.300" width="2.038" height="11.150" fill="#dfdfdf"/>
<rect x="216.934" y="184.300" width="0.800" height="11.150" fill="#c0c0c0"/>
<rect x="218.184" y="184.300" width="2.038" height="11.150" fill="#dfdfdf"/>
<rect x="219.422" y="184.300" width="0.800" height="11.150" fill="#c0c0c0"/>
<rect x="220.672" y="184.300" width="2.038" height="11.150" fill="#dfdfdf"/>
<rect x="221.910" y="184.300" width="0.800" height="11.150" fill="#c0c0c0"/>
<rect x="223.160" y="184.300" width="2.038" height="11.150" fill="#dfdfdf"/>
<rect x="224.398" y="184.300" width="0.800" height="11.150" fill="#c0c0c0"/>
<rect x="225.648" y="184.300" width="2.038" height="11.150" fill="#dfdfdf"/>
<rect x="226.886" y="184.300" width="0.800" height="11.150" fill="#c0c0c0"/>
<rect x="228.136" y="184.300" width="2.038" height="11.150" fill="#dfdfdf"/>
<rect x="229.374" y="184.300" width="0.800" height="11.150" fill="#c0c0c0"/>
<rect x="230.624" y="184.300" width="2.038" height="11.150" fill="#dfdfdf"/>
<rect x="231.862" y="184.300" width="0.800" height="11.150" fill="#c0c0c0"/>
<rect x="233.112" y="184.300" width="2.038" height="11.150" fill="#dfdfdf"/>
<rect x="234.350" y="184.300" width="0.800" height="11.150" fill="#c0c0c0"/>
<rect x="235.600" y="184.300" width="2.038" height="11.150" fill="#dfdfdf"/>
<rect x="236.838" y="184.300" width="0.800" height="11.150" fill="#c0c0c0"/>
<rect x="238.088" y="184.300" width="2.038" height="11.150" fill="#dfdfdf"/>
<rect x="239.326" y="184.300" width="0.800" height="11.150" fill="#c0c0c0"/>
<rect x="240.576" y="184.300" width="2.038" height="11.150" fill="#dfdfdf"/>
<rect x="241.814" y="184.300" width="0.800" height="11.150" fill="#c0c0c0"/>
<rect x="243.064" y="184.300" width="2.038" height="11.150" fill="#dfdfdf"/>
<rect x="244.302" y="184.300" width="0.800" height="11.150" fill="#c0c0c0"/>
<rect x="245.552" y="184.300" width="2.038" height="11.150" fill="#dfdfdf"/>
<rect x="246.790" y="184.300" width="0.800" height="11.150" fill="#c0c0c0"/>
<rect x="248.040" y="184.300" width="2.038" height="11.150" fill="#dfdfdf"/>
<rect x="249.278" y="184.300" width="0.800" height="11.150" fill="#c0c0c0"/>
<rect x="250.528" y="184.300" width="2.038" height="11.150" fill="#dfdfdf"/>
<rect x="251.766" y="184.300" width="0.800" height="11.150" fill="#c0c0c0"/>
<rect x="253.016" y="184.300" width="2.038" height="11.150" fill="#dfdfdf"/>
<rect x="254.254" y="184.300" width="0.800" height="11.150" fill="#c0c0c0"/>
<rect x="255.504" y="184.300" width="2.038" height="11.150" fill="#dfdfdf"/>
<rect x="256.742" y="184.300" width="0.800" height="11.150" fill="#c0c0c0"/>
<rect x="257.992" y="184.300" width="2.038" height="11.150" fill="#dfdfdf"/>
<rect x="259.230" y="184.300" width="0.800" height="11.150" fill="#c0c0c0"/>
<rect x="260.480" y="184.300" width="2.038" height="11.150" fill="#dfdfdf"/>
<rect x="261.718" y="184.300" width="0.800" height="11.150" fill="#c0c0c0"/>
<rect x="262.968" y="184.300" width="2.038" height="11.150" fill="#dfdfdf"/>
<rect x="264.206" y="184.300" width="0.800" height="11.150" fill="#c0c0c0"/>
<rect x="265.456" y="184.300" width="2.038" height="11.150" fill="#dfdfdf"/>
<rect x="266.694" y="184.300" width="0.800" height="11.150" fill="#c0c0c0"/>
<rect x="267.944" y="184.300" width="2.038" height="11.150" fill="#dfdfdf"/>
<rect x="269.182" y="184.300" width="0.800" height="11.150" fill="#c0c0c0"/>
<rect x="270.432" y="184.300" width="2.038" height="11.150" fill="#dfdfdf"/>
<rect x="271.670" y="184.300" width="0.800" height="11.150" fill="#c0c0c0"/>
<rect x="272.920" y="184.300" width="2.038" height="11.150" fill="#dfdfdf"/>
<rect x="274.158" y="184.300" width="0.800" height="11.150" fill="#c0c0c0"/>
<rect x="275.408" y="184.300" width="2.038" height="11.150" fill="#dfdfdf"/>
<rect x="276.646" y="184.300" width="0.800" height="11.150" fill="#c0c0c0"/>
<rect x="277.896" y="184.300" width="2.038" height="11.150" fill="#dfdfdf"/>
<rect x="279.134" y="184.300" width="0.800" height="11.150" fill="#c0c0c0"/>
<rect x="280.384" y="184.300" width="2.038" height="11.150" fill="#dfdfdf"/>
<rect x="281.622" y="184.300" width="0.800" height="11.150" fill="#c0c0c0"/>
<rect x="282.872" y="184.300" width="2.038" height="11.150" fill="#dfdfdf"/>
<rect x="284.110" y="184.300" width="0.800" height="11.150" fill="#c0c0c0"/>
<rect x="285.360" y="184.300" width="2.038" height="11.150" fill="#dfdfdf"/>
<rect x="286.598" y="184.300" width="0.800" height="11.150" fill="#c0c0c0"/>
<rect x="287.848" y="184.300" width="2.038" height="11.150" fill="#dfdfdf"/>
<rect x="289.086" y="184.300" width="0.800" height="11.150" fill="#c0c0c0"/>
<rect x="49.000" y="39.300" width="2.038" height="17.400" fill="#7bb663"/>
<rect x="50.438" y="39.300" width="0.600" height="17.400" fill="#52a02c"/>
<rect x="49.000" y="30.600" width="2.038" height="8.700" fill="#4d6699"/>
<rect x="50.438" y="30.600" width="0.600" height="8.700" fill="#17326c"/>
<rect x="51.488" y="39.300" width="2.038" height="17.400" fill="#7bb663"/>
<rect x="52.926" y="39.300" width="0.600" height="17.400" fill="#52a02c"/>
<rect x="51.488" y="30.600" width="2.038" height="8.700" fill="#4d6699"/>
<rect x="52.926" y="30.600" width="0.600" height="8.700" fill="#17326c"/>
<rect x="53.976" y="48.000" width="2.038" height="8.700" fill="#7bb663"/>
<rect x="55.414" y="48.000" width="0.600" height="8.700" fill="#52a02c"/>
<rect x="53.976" y="39.300" width="2.038" height="8.700" fill="#b8304f"/>
<rect x="55.414" y="39.300" width="0.600" height="8.700" fill="#900c2c"/>
<rect x="53.976" y="30.600" width="2.038" height="8.700" fill="#4d6699"/>
<rect x="55.414" y="30.600" width="0.600" height="8.700" fill="#17326c"/>
<rect x="56.464" y="48.000" width="2.038" height="8.700" fill="#7bb663"/>
<rect x="57.902" y="48.000" width="0.600" height="8.700" fill="#52a02c"/>
<rect x="56.464" y="30.600" width="2.038" height="17.400" fill="#4d6699"/>
<rect x="57.902" y="30.600" width="0.600" height="17.400" fill="#17326c"/>
<rect x="58.952" y="48.000" width="2.038" height="8.700" fill="#7bb663"/>
<rect x="60.390" y="48.000" width="0.600" height="8.700" fill="#52a02c"/>
<rect x="58.952" y="30.600" width="2.038" height="17.400" fill="#4d6699"/>
<rect x="60.390" y="30.600" width="0.600" height="17.400" fill="#17326c"/>
<rect x="61.440" y="48.000" width="2.038" height="8.700" fill="#7bb663"/>
<rect x="62.878" y="48.000" width="0.600" height="8.700" fill="#52a02c"/>
<rect x="61.440" y="30.600" width="2.038" height="17.400" fill="#4d6699"/>
<rect x="62.878" y="30.600" width="0.600" height="17.400" fill="#17326c"/>
<rect x="63.928" y="39.300" width="2.038" height="17.400" fill="#7bb663"/>
<rect x="65.366" y="39.300" width="0.600" height="17.400" fill="#52a02c"/>
<rect x="66.416" y="39.300" width="2.038" height="17.400" fill="#7bb663"/>
<rect x="67.854" y="39.300" width="0.600" height="17.400" fill="#52a02c"/>
<rect x="68.904" y="39.300" width="2.038" height="17.400" fill="#7bb663"/>
<rect x="70.342" y="39.300" width="0.600" height="17.400" fill="#52a02c"/>
<rect x="71.392" y="39.300" width="2.038" height="17.400" fill="#7bb663"/>
<rect x="72.830" y="39.300" width="0.600" height="17.400" fill="#52a02c"/>
<rect x="73.880" y="39.300" width="2.038" height="17.400" fill="#7bb663"/>
<rect x="75.318" y="39.300" width="0.600" height="17.400" fill="#52a02c"/>
<rect x="76.368" y="39.300" width="2.038" height="17.400" fill="#7bb663"/>
<rect x="77.806" y="39.300" width="0.600" height="17.400" fill="#52a02c"/>
<rect x="78.856" y="39.300" width="2.038" height="17.400" fill="#7bb663"/>
<rect x="80.294" y="39.300" width="0.600" height="17.400" fill="#52a02c"/>
<rect x="81.344" y="39.300" width="2.038" height="17.400" fill="#7bb663"/>
<rect x="82.782" y="39.300" width="0.600" height="17.400" fill="#52a02c"/>
<rect x="83.832" y="39.300" width="2.038" height="17.400" fill="#7bb663"/>
<rect x="85.270" y="39.300" width="0.600" height="17.400" fill="#52a02c"/>
<rect x="86.320" y="39.300" width="2.038" height="17.400" fill="#7bb663"/>
<rect x="87.758" y="39.300" width="0.600" height="17.400" fill="#52a02c"/>
<rect x="88.808" y="48.000" width="2.038" height="8.700" fill="#7bb663"/>
<rect x="90.246" y="48.000" width="0.600" height="8.700" fill="#52a02c"/>
<rect x="88.808" y="21.900" width="2.038" height="26.100" fill="#4d6699"/>
<rect x="90.246" y="21.900" width="0.600" height="26.100" fill="#17326c"/>
<rect x="91.296" y="48.000" width="2.038" height="8.700" fill="#7bb663"/>
<rect x="92.734" y="48.000" width="0.600" height="8.700" fill="#52a02c"/>
<rect x="91.296" y="21.900" width="2.038" height="26.100" fill="#4d6699"/>
<rect x="92.734" y="21.900" width="0.600" height="26.100" fill="#17326c"/>
<rect x="93.784" y="48.000" width="2.038" height="8.700" fill="#7bb663"/>
<rect x="95.222" y="48.000" width="0.600" height="8.700" fill="#52a02c"/>
<rect x="93.784" y="21.900" width="2.038" height="26.100" fill="#4d6699"/>
<rect x="95.222" y="21.900" width="0.600" height="26.100" fill="#17326c"/>
<rect x="96.272" y="48.000" width="2.038" height="8.700" fill="#7bb663"/>
<rect x="97.710" y="48.000" width="0.600" height="8.700" fill="#52a02c"/>
<rect x="96.272" y="21.900" width="2.038" height="26.100" fill="#4d6699"/>
<rect x="97.710" y="21.900" width="0.600" height="26.100" fill="#17326c"/>
<rect x="98.760" y="48.000" width="2.038" height="8.700" fill="#7bb663"/>
<rect x="100.198" y="48.000" width="0.600" height="8.700" fill="#52a02c"/>
<rect x="98.760" y="21.900" width="2.038" height="26.100" fill="#4d6699"/>
<rect x="100.198" y="21.900" width="0.600" height="26.100" fill="#17326c"/>
<rect x="101.248" y="48.000" width="2.038" height="8.700" fill="#7bb663"/>
<rect x="102.686" y="48.000" width="0.600" height="8.700" fill="#52a02c"/>
<rect x="101.248" y="21.900" width="2.038" height="26.100" fill="#4d6699"/>
<rect x="102.686" y="21.900" width="0.600" height="26.100" fill="#17326c"/>
<rect x="103.736" y="48.000" width="2.038" height="8.700" fill="#7bb663"/>
<rect x="105.174" y="48.000" width="0.600" height="8.700" fill="#52a02c"/>
<rect x="103.736" y="30.600" width="2.038" height="17.400" fill="#4d6699"/>
<rect x="105.174" y="30.600" width="0.600" height="17.400" fill="#17326c"/>
<rect x="106.224" y="48.000" width="2.038" height="8.700" fill="#7bb663"/>
<rect x="107.662" y="48.000" width="0.600" height="8.700" fill="#52a02c"/>
<rect x="106.224" y="30.600" width="2.038" height="17.400" fill="#4d6699"/>
<rect x="107.662" y="30.600" width="0.600" height="17.400" fill="#17326c"/>
<rect x="108.712" y="48.000" width="2.038" height="8.700" fill="#7bb663"/>
<rect x="110.150" y="48.000" width="0.600" height="8.700" fill="#52a02c"/>
<rect x="108.712" y="30.600" width="2.038" height="17.400" fill="#4d6699"/>
<rect x="110.150" y="30.600" width="0.600" height="17.400" fill="#17326c"/>
<rect x="111.200" y="48.000" width="2.038" height="8.700" fill="#7bb663"/>
<rect x="112.638" y="48.000" width="0.600" height="8.700" fill="#52a02c"/>
<rect x="111.200" y="39.300" width="2.038" height="8.700" fill="#4d6699"/>
<rect x="112.638" y="39.300" width="0.600" height="8.700" fill="#17326c"/>
<rect x="113.688" y="48.000" width="2.038" height="8.700" fill="#7bb663"/>
<rect x="115.126" y="48.000" width="0.600" height="8.700" fill="#52a02c"/>
<rect x="113.688" y="39.300" width="2.038" height="8.700" fill="#4d6699"/>
<rect x="115.126" y="39.300" width="0.600" height="8.700" fill="#17326c"/>
<rect x="116.176" y="48.000" width="2.038" height="8.700" fill="#7bb663"/>
<rect x="117.614" y="48.000" width="0.600" height="8.700" fill="#52a02c"/>
<rect x="116.176" y="30.600" width="2.038" height="17.400" fill="#4d6699"/>
<rect x="117.614" y="30.600" width="0.600" height="17.400" fill="#17326c"/>
<rect x="118.664" y="48.000" width="2.038" height="8.700" fill="#7bb663"/>
<rect x="120.102" y="48.000" width="0.600" height="8.700" fill="#52a02c"/>
<rect x="118.664" y="30.600" width="2.038" height="17.400" fill="#4d6699"/>
<rect x="120.102" y="30.600" width="0.600" height="17.400" fill="#17326c"/>
<rect x="121.152" y="48.000" width="2.038" height="8.700" fill="#7bb663"/>
<rect x="122.590" y="48.000" width="0.600" height="8.700" fill="#52a02c"/>
<rect x="121.152" y="39.300" width="2.038" height="8.700" fill="#4d6699"/>
<rect x="122.590" y="39.300" width="0.600" height="8.700" fill="#17326c"/>
<rect x="123.640" y="48.000" width="2.038" height="8.700" fill="#7bb663"/>
<rect x="125.078" y="48.000" width="0.600" height="8.700" fill="#52a02c"/>
<rect x="123.640" y="39.300" width="2.038" height="8.700" fill="#4d6699"/>
<rect x="125.078" y="39.300" width="0.600" height="8.700" fill="#17326c"/>
<rect x="126.128" y="48.000" width="2.038" height="8.700" fill="#7bb663"/>
<rect x="127.566" y="48.000" width="0.600" height="8.700" fill="#52a02c"/>
<rect x="126.128" y="39.300" width="2.038" height="8.700" fill="#4d6699"/>
<rect x="127.566" y="39.300" width="0.600" height="8.700" fill="#17326c"/>
<rect x="128.616" y="48.000" width="2.038" height="8.700" fill="#7bb663"/>
<rect x="130.054" y="48.000" width="0.600" height="8.700" fill="#52a02c"/>
<rect x="128.616" y="39.300" width="2.038" height="8.700" fill="#4d6699"/>
<rect x="130.054" y="39.300" width="0.600" height="8.700" fill="#17326c"/>
<rect x="131.104" y="48.000" width="2.038" height="8.700" fill="#7bb663"/>
<rect x="132.542" y="48.000" width="0.600" height="8.700" fill="#52a02c"/>
<rect x="131.104" y="39.300" width="2.038" height="8.700" fill="#4d6699"/>
<rect x="132.542" y="39.300" width="0.600" height="8.700" fill="#17326c"/>
<rect x="133.592" y="48.000" width="2.038" height="8.700" fill="#7bb663"/>
<rect x="135.030" y="48.000" width="0.600" height="8.700" fill="#52a02c"/>
<rect x="133.592" y="39.300" width="2.038" height="8.700" fill="#4d6699"/>
<rect x="135.030" y="39.300" width="0.600" height="8.700" fill="#17326c"/>
<rect x="136.080" y="39.300" width="2.038" height="17.400" fill="#7bb663"/>
<rect x="137.518" y="39.300" width="0.600" height="17.400" fill="#52a02c"/>
<rect x="138.568" y="39.300" width="2.038" height="17.400" fill="#7bb663"/>
<rect x="140.006" y="39.300" width="0.600" height="17.400" fill="#52a02c"/>
<rect x="141.056" y="48.000" width="2.038" height="8.700" fill="#7bb663"/>
<rect x="142.494" y="48.000" width="0.600" height="8.700" fill="#52a02c"/>
<rect x="141.056" y="39.300" width="2.038" height="8.700" fill="#4d6699"/>
<rect x="142.494" y="39.300" width="0.600" height="8.700" fill="#17326c"/>
<rect x="143.544" y="48.000" width="2.038" height="8.700" fill="#7bb663"/>
<rect x="144.982" y="48.000" width="0.600" height="8.700" fill="#52a02c"/>
<rect x="146.032" y="48.000" width="2.038" height="8.700" fill="#7bb663"/>
<rect x="147.470" y="48.000" width="0.600" height="8.700" fill="#52a02c"/>
<rect x="148.520" y="48.000" width="2.038" height="8.700" fill="#7bb663"/>
<rect x="149.958" y="48.000" width="0.600" height="8.700" fill="#52a02c"/>
<rect x="151.008" y="48.000" width="2.038" height="8.700" fill="#7bb663"/>
<rect x="152.446" y="48.000" width="0.600" height="8.700" fill="#52a02c"/>
<rect x="153.496" y="48.000" width="2.038" height="8.700" fill="#7bb663"/>
<rect x="154.934" y="48.000" width="0.600" height="8.700" fill="#52a02c"/>
<rect x="155.984" y="48.000" width="2.038" height="8.700" fill="#7bb663"/>
<rect x="157.422" y="48.000" width="0.600" height="8.700" fill="#52a02c"/>
<rect x="158.472" y="48.000" width="2.038" height="8.700" fill="#7bb663"/>
<rect x="159.910" y="48.000" width="0.600" height="8.700" fill="#52a02c"/>
<rect x="160.960" y="48.000" width="2.038" height="8.700" fill="#7bb663"/>
<rect x="162.398" y="48.000" width="0.600" height="8.700" fill="#52a02c"/>
<rect x="163.448" y="48.000" width="2.038" height="8.700" fill="#7bb663"/>
<rect x="164.886" y="48.000" width="0.600" height="8.700" fill="#52a02c"/>
<rect x="165.936" y="48.000" width="2.038" height="8.700" fill="#7bb663"/>
<rect x="167.374" y="48.000" width="0.600" height="8.700" fill="#52a02c"/>
<rect x="168.424" y="48.000" width="2.038" height="8.700" fill="#7bb663"/>
<rect x="169.862" y="48.000" width="0.600" height="8.700" fill="#52a02c"/>
<rect x="170.912" y="48.000" width="2.038" height="8.700" fill="#7bb663"/>
<rect x="172.350" y="48.000" width="0.600" height="8.700" fill="#52a02c"/>
<rect x="170.912" y="39.300" width="2.038" height="8.700" fill="#4d6699"/>
<rect x="172.350" y="39.300" width="0.600" height="8.700" fill="#17326c"/>
<rect x="173.400" y="48.000" width="2.038" height="8.700" fill="#7bb663"/>
<rect x="174.838" y="48.000" width="0.600" height="8.700" fill="#52a02c"/>
<rect x="173.400" y="39.300" width="2.038" height="8.700" fill="#4d6699"/>
<rect x="174.838" y="39.300" width="0.600" height="8.700" fill="#17326c"/>
<rect x="175.888" y="48.000" width="2.038" height="8.700" fill="#7bb663"/>
<rect x="177.326" y="48.000" width="0.600" height="8.700" fill="#52a02c"/>
<rect x="178.376" y="48.000" width="2.038" height="8.700" fill="#7bb663"/>
<rect x="179.814" y="48.000" width="0.600" height="8.700" fill="#52a02c"/>
<rect x="180.864" y="48.000" width="2.038" height="8.700" fill="#7bb663"/>
<rect x="182.302" y="48.000" width="0.600" height="8.700" fill="#52a02c"/>
<rect x="183.352" y="48.000" width="2.038" height="8.700" fill="#7bb663"/>
<rect x="184.790" y="48.000" width="0.600" height="8.700" fill="#52a02c"/>
<rect x="185.840" y="48.000" width="2.038" height="8.700" fill="#7bb663"/>
<rect x="187.278" y="48.000" width="0.600" height="8.700" fill="#52a02c"/>
<rect x="188.328" y="48.000" width="2.038" height="8.700" fill="#7bb663"/>
<rect x="189.766" y="48.000" width="0.600" height="8.700" fill="#52a02c"/>
<rect x="190.816" y="39.300" width="2.038" height="17.400" fill="#4d6699"/>
<rect x="192.254" y="39.300" width="0.600" height="17.400" fill="#17326c"/>
<rect x="193.304" y="39.300" width="2.038" height="17.400" fill="#4d6699"/>
<rect x="194.742" y="39.300" width="0.600" height="17.400" fill="#17326c"/>
<rect x="195.792" y="39.300" width="2.038" height="17.400" fill="#4d6699"/>
<rect x="197.230" y="39.300" width="0.600" height="17.400" fill="#17326c"/>
<rect x="198.280" y="48.000" width="2.038" height="8.700" fill="#4d6699"/>
<rect x="199.718" y="48.000" width="0.600" height="8.700" fill="#17326c"/>
<rect x="200.768" y="48.000" width="2.038" height="8.700" fill="#4d6699"/>
<rect x="202.206" y="48.000" width="0.600" height="8.700" fill="#17326c"/>
<rect x="203.256" y="48.000" width="2.038" height="8.700" fill="#4d6699"/>
<rect x="204.694" y="48.000" width="0.600" height="8.700" fill="#17326c"/>
<rect x="205.744" y="48.000" width="2.038" height="8.700" fill="#4d6699"/>
<rect x="207.182" y="48.000" width="0.600" height="8.700" fill="#17326c"/>
<rect x="208.232" y="48.000" width="2.038" height="8.700" fill="#4d6699"/>
<rect x="209.670" y="48.000" width="0.600" height="8.700" fill="#17326c"/>
<rect x="210.720" y="48.000" width="2.038" height="8.700" fill="#4d6699"/>
<rect x="212.158" y="48.000" width="0.600" height="8.700" fill="#17326c"/>
<rect x="213.208" y="48.000" width="2.038" height="8.700" fill="#4d6699"/>
<rect x="214.646" y="48.000" width="0.600" height="8.700" fill="#17326c"/>
<rect x="215.696" y="48.000" width="2.038" height="8.700" fill="#4d6699"/>
<rect x="217.134" y="48.000" width="0.600" height="8.700" fill="#17326c"/>
<rect x="218.184" y="48.000" width="2.038" height="8.700" fill="#4d6699"/>
<rect x="219.622" y="48.000" width="0.600" height="8.700" fill="#17326c"/>
<rect x="220.672" y="48.000" width="2.038" height="8.700" fill="#4d6699"/>
<rect x="222.110" y="48.000" width="0.600" height="8.700" fill="#17326c"/>
<rect x="223.160" y="48.000" width="2.038" height="8.700" fill="#4d6699"/>
<rect x="224.598" y="48.000" width="0.600" height="8.700" fill="#17326c"/>
<rect x="225.648" y="48.000" width="2.038" height="8.700" fill="#4d6699"/>
<rect x="227.086" y="48.000" width="0.600" height="8.700" fill="#17326c"/>
<rect x="228.136" y="39.300" width="2.038" height="17.400" fill="#4d6699"/>
<rect x="229.574" y="39.300" width="0.600" height="17.400" fill="#17326c"/>
<rect x="230.624" y="39.300" width="2.038" height="17.400" fill="#4d6699"/>
<rect x="232.062" y="39.300" width="0.600" height="17.400" fill="#17326c"/>
<rect x="233.112" y="39.300" width="2.038" height="17.400" fill="#4d6699"/>
<rect x="234.550" y="39.300" width="0.600" height="17.400" fill="#17326c"/>
<rect x="235.600" y="39.300" width="2.038" height="17.400" fill="#4d6699"/>
<rect x="237.038" y="39.300" width="0.600" height="17.400" fill="#17326c"/>
<rect x="238.088" y="39.300" width="2.038" height="17.400" fill="#4d6699"/>
<rect x="239.526" y="39.300" width="0.600" height="17.400" fill="#17326c"/>
<rect x="240.576" y="48.000" width="2.038" height="8.700" fill="#a898d8"/>
<rect x="242.014" y="48.000" width="0.600" height="8.700" fill="#7c6cc0"/>
<rect x="240.576" y="39.300" width="2.038" height="8.700" fill="#4d6699"/>
<rect x="242.014" y="39.300" width="0.600" height="8.700" fill="#17326c"/>
<rect x="243.064" y="48.000" width="2.038" height="8.700" fill="#7bb663"/>
<rect x="244.502" y="48.000" width="0.600" height="8.700" fill="#52a02c"/>
<rect x="243.064" y="39.300" width="2.038" height="8.700" fill="#4d6699"/>
<rect x="244.502" y="39.300" width="0.600" height="8.700" fill="#17326c"/>
<rect x="245.552" y="48.000" width="2.038" height="8.700" fill="#7bb663"/>
<rect x="246.990" y="48.000" width="0.600" height="8.700" fill="#52a02c"/>
<rect x="245.552" y="39.300" width="2.038" height="8.700" fill="#4d6699"/>
<rect x="246.990" y="39.300" width="0.600" height="8.700" fill="#17326c"/>
<rect x="248.040" y="48.000" width="2.038" height="8.700" fill="#4d6699"/>
<rect x="249.478" y="48.000" width="0.600" height="8.700" fill="#17326c"/>
<rect x="250.528" y="48.000" width="2.038" height="8.700" fill="#4d6699"/>
<rect x="251.966" y="48.000" width="0.600" height="8.700" fill="#17326c"/>
<rect x="253.016" y="48.000" width="2.038" height="8.700" fill="#4d6699"/>
<rect x="254.454" y="48.000" width="0.600" height="8.700" fill="#17326c"/>
<rect x="255.504" y="48.000" width="2.038" height="8.700" fill="#4d6699"/>
<rect x="256.942" y="48.000" width="0.600" height="8.700" fill="#17326c"/>
<rect x="257.992" y="48.000" width="2.038" height="8.700" fill="#4d6699"/>
<rect x="259.430" y="48.000" width="0.600" height="8.700" fill="#17326c"/>
<rect x="260.480" y="39.300" width="2.038" height="17.400" fill="#4d6699"/>
<rect x="261.918" y="39.300" width="0.600" height="17.400" fill="#17326c"/>
<rect x="262.968" y="39.300" width="2.038" height="17.400" fill="#4d6699"/>
<rect x="264.406" y="39.300" width="0.600" height="17.400" fill="#17326c"/>
<rect x="265.456" y="48.000" width="2.038" height="8.700" fill="#4d6699"/>
<rect x="266.894" y="48.000" width="0.600" height="8.700" fill="#17326c"/>
<rect x="267.944" y="48.000" width="2.038" height="8.700" fill="#4d6699"/>
<rect x="269.382" y="48.000" width="0.600" height="8.700" fill="#17326c"/>
<rect x="270.432" y="48.000" width="2.038" height="8.700" fill="#a898d8"/>
<rect x="271.870" y="48.000" width="0.600" height="8.700" fill="#7c6cc0"/>
<rect x="270.432" y="39.300" width="2.038" height="8.700" fill="#4d6699"/>
<rect x="271.870" y="39.300" width="0.600" height="8.700" fill="#17326c"/>
<rect x="272.920" y="48.000" width="2.038" height="8.700" fill="#7bb663"/>
<rect x="274.358" y="48.000" width="0.600" height="8.700" fill="#52a02c"/>
<rect x="272.920" y="39.300" width="2.038" height="8.700" fill="#4d6699"/>
<rect x="274.358" y="39.300" width="0.600" height="8.700" fill="#17326c"/>
<rect x="275.408" y="48.000" width="2.038" height="8.700" fill="#a898d8"/>
<rect x="276.846" y="48.000" width="0.600" height="8.700" fill="#7c6cc0"/>
<rect x="277.896" y="48.000" width="2.038" height="8.700" fill="#7bb663"/>
<rect x="279.334" y="48.000" width="0.600" height="8.700" fill="#52a02c"/>
<rect x="280.384" y="48.000" width="2.038" height="8.700" fill="#7bb663"/>
<rect x="281.822" y="48.000" width="0.600" height="8.700" fill="#52a02c"/>
<rect x="282.872" y="48.000" width="2.038" height="8.700" fill="#4d6699"/>
<rect x="284.310" y="48.000" width="0.600" height="8.700" fill="#17326c"/>
<rect x="285.360" y="48.000" width="2.038" height="8.700" fill="#4d6699"/>
<rect x="286.798" y="48.000" width="0.600" height="8.700" fill="#17326c"/>
<rect x="287.848" y="48.000" width="2.038" height="8.700" fill="#4d6699"/>
<rect x="289.286" y="48.000" width="0.600" height="8.700" fill="#17326c"/>
<rect x="49.000" y="197.3" width="2.038" height="5.5" fill="#4d1c5f"/>
<rect x="51.038" y="197.3" width="2.488" height="5.5" fill="#d6c6de"/>
<rect x="53.526" y="197.3" width="7.464" height="5.5" fill="#4d1c5f"/>
<rect x="60.990" y="197.3" width="2.488" height="5.5" fill="#d6c6de"/>
<rect x="63.478" y="197.3" width="4.976" height="5.5" fill="#4d1c5f"/>
<rect x="68.454" y="197.3" width="4.976" height="5.5" fill="#d6c6de"/>
<rect x="73.430" y="197.3" width="4.976" height="5.5" fill="#8c6b9b"/>
<rect x="78.406" y="197.3" width="4.976" height="5.5" fill="#4d1c5f"/>
<rect x="83.382" y="197.3" width="4.976" height="5.5" fill="#d6c6de"/>
<rect x="88.358" y="197.3" width="2.488" height="5.5" fill="#4d1c5f"/>
<rect x="90.846" y="197.3" width="2.488" height="5.5" fill="#d6c6de"/>
<rect x="93.334" y="197.3" width="2.488" height="5.5" fill="#8c6b9b"/>
<rect x="95.822" y="197.3" width="2.488" height="5.5" fill="#4d1c5f"/>
<rect x="98.310" y="197.3" width="2.488" height="5.5" fill="#d6c6de"/>
<rect x="100.798" y="197.3" width="2.488" height="5.5" fill="#8c6b9b"/>
<rect x="103.286" y="197.3" width="2.488" height="5.5" fill="#4d1c5f"/>
<rect x="105.774" y="197.3" width="2.488" height="5.5" fill="#d6c6de"/>
<rect x="108.262" y="197.3" width="2.488" height="5.5" fill="#8c6b9b"/>
<rect x="110.750" y="197.3" width="2.488" height="5.5" fill="#4d1c5f"/>
<rect x="113.238" y="197.3" width="2.488" height="5.5" fill="#d6c6de"/>
<rect x="115.726" y="197.3" width="2.488" height="5.5" fill="#4d1c5f"/>
<rect x="118.214" y="197.3" width="2.488" height="5.5" fill="#d6c6de"/>
<rect x="120.702" y="197.3" width="2.488" height="5.5" fill="#4d1c5f"/>
<rect x="123.190" y="197.3" width="2.488" height="5.5" fill="#d6c6de"/>
<rect x="125.678" y="197.3" width="2.488" height="5.5" fill="#4d1c5f"/>
<rect x="128.166" y="197.3" width="2.488" height="5.5" fill="#d6c6de"/>
<rect x="130.654" y="197.3" width="2.488" height="5.5" fill="#4d1c5f"/>
<rect x="133.142" y="197.3" width="4.976" height="5.5" fill="#d6c6de"/>
<rect x="138.118" y="197.3" width="2.488" height="5.5" fill="#8c6b9b"/>
<rect x="140.606" y="197.3" width="4.976" height="5.5" fill="#4d1c5f"/>
<rect x="145.582" y="197.3" width="2.488" height="5.5" fill="#d8dcd6"/>
<rect x="148.070" y="197.3" width="2.488" height="5.5" fill="#4d1c5f"/>
<rect x="150.558" y="197.3" width="2.488" height="5.5" fill="#8c6b9b"/>
<rect x="153.046" y="197.3" width="2.488" height="5.5" fill="#4d1c5f"/>
<rect x="155.534" y="197.3" width="2.488" height="5.5" fill="#d6c6de"/>
<rect x="158.022" y="197.3" width="2.488" height="5.5" fill="#4d1c5f"/>
<rect x="160.510" y="197.3" width="2.488" height="5.5" fill="#8c6b9b"/>
<rect x="162.998" y="197.3" width="2.488" height="5.5" fill="#4d1c5f"/>
<rect x="165.486" y="197.3" width="2.488" height="5.5" fill="#d6c6de"/>
<rect x="167.974" y="197.3" width="12.440" height="5.5" fill="#8c6b9b"/>
<rect x="180.414" y="197.3" width="2.488" height="5.5" fill="#4d1c5f"/>
<rect x="182.902" y="197.3" width="2.488" height="5.5" fill="#8c6b9b"/>
<rect x="185.390" y="197.3" width="2.488" height="5.5" fill="#4d1c5f"/>
<rect x="187.878" y="197.3" width="2.488" height="5.5" fill="#d6c6de"/>
<rect x="190.366" y="197.3" width="2.488" height="5.5" fill="#4d1c5f"/>
<rect x="192.854" y="197.3" width="2.488" height="5.5" fill="#d6c6de"/>
<rect x="195.342" y="197.3" width="2.488" height="5.5" fill="#8c6b9b"/>
<rect x="197.830" y="197.3" width="2.488" height="5.5" fill="#4d1c5f"/>
<rect x="200.318" y="197.3" width="2.488" height="5.5" fill="#d6c6de"/>
<rect x="202.806" y="197.3" width="2.488" height="5.5" fill="#8c6b9b"/>
<rect x="205.294" y="197.3" width="2.488" height="5.5" fill="#4d1c5f"/>
<rect x="207.782" y="197.3" width="2.488" height="5.5" fill="#d6c6de"/>
<rect x="210.270" y="197.3" width="2.488" height="5.5" fill="#8c6b9b"/>
<rect x="212.758" y="197.3" width="2.488" height="5.5" fill="#4d1c5f"/>
<rect x="215.246" y="197.3" width="2.488" height="5.5" fill="#d6c6de"/>
<rect x="217.734" y="197.3" width="2.488" height="5.5" fill="#8c6b9b"/>
<rect x="220.222" y="197.3" width="2.488" height="5.5" fill="#4d1c5f"/>
<rect x="222.710" y="197.3" width="2.488" height="5.5" fill="#d6c6de"/>
<rect x="225.198" y="197.3" width="14.928" height="5.5" fill="#8c6b9b"/>
<rect x="240.126" y="197.3" width="2.488" height="5.5" fill="#4d1c5f"/>
<rect x="242.614" y="197.3" width="2.488" height="5.5" fill="#d6c6de"/>
<rect x="245.102" y="197.3" width="2.488" height="5.5" fill="#8c6b9b"/>
<rect x="247.590" y="197.3" width="7.464" height="5.5" fill="#4d1c5f"/>
<rect x="255.054" y="197.3" width="14.928" height="5.5" fill="#8c6b9b"/>
<rect x="269.982" y="197.3" width="2.488" height="5.5" fill="#4d1c5f"/>
<rect x="272.470" y="197.3" width="2.488" height="5.5" fill="#8c6b9b"/>
<rect x="274.958" y="197.3" width="2.488" height="5.5" fill="#4d1c5f"/>
<rect x="277.446" y="197.3" width="2.488" height="5.5" fill="#d6c6de"/>
<rect x="279.934" y="197.3" width="2.488" height="5.5" fill="#8c6b9b"/>
<rect x="282.422" y="197.3" width="4.976" height="5.5" fill="#4d1c5f"/>
<rect x="287.398" y="197.3" width="2.488" height="5.5" fill="#8c6b9b"/>
<rect x="49.000" y="202.8" width="96.582" height="4.9" fill="#8f96c0"/>
<rect x="145.582" y="202.8" width="2.488" height="4.9" fill="#d8dcd6"/>
<rect x="148.070" y="202.8" width="4.976" height="4.9" fill="#efbf1a"/>
<rect x="153.046" y="202.8" width="17.416" height="4.9" fill="#8f96c0"/>
<rect x="170.462" y="202.8" width="9.952" height="4.9" fill="#efbf1a"/>
<rect x="180.414" y="202.8" width="47.272" height="4.9" fill="#8f96c0"/>
<rect x="227.686" y="202.8" width="12.440" height="4.9" fill="#efbf1a"/>
<rect x="240.126" y="202.8" width="7.464" height="4.9" fill="#8f96c0"/>
<rect x="247.590" y="202.8" width="22.392" height="4.9" fill="#efbf1a"/>
<rect x="269.982" y="202.8" width="12.440" height="4.9" fill="#8f96c0"/>
<rect x="282.422" y="202.8" width="7.464" height="4.9" fill="#efbf1a"/>
<line x1="49.2" y1="19" x2="49.2" y2="57.0" stroke="#000" stroke-width="1.1"/>
<line x1="46.2" y1="56.70" x2="49.3" y2="56.70" stroke="#000" stroke-width="1.0"/>
<text x="43.20" y="58.50" font-size="5.0" text-anchor="end" font-weight="normal" fill="#333" stroke="#333" stroke-width="0.13" >0</text>
<line x1="46.2" y1="48.00" x2="49.3" y2="48.00" stroke="#000" stroke-width="1.0"/>
<text x="43.20" y="49.80" font-size="5.0" text-anchor="end" font-weight="normal" fill="#333" stroke="#333" stroke-width="0.13" >1</text>
<line x1="46.2" y1="39.30" x2="49.3" y2="39.30" stroke="#000" stroke-width="1.0"/>
<text x="43.20" y="41.10" font-size="5.0" text-anchor="end" font-weight="normal" fill="#333" stroke="#333" stroke-width="0.13" >2</text>
<line x1="46.2" y1="30.60" x2="49.3" y2="30.60" stroke="#000" stroke-width="1.0"/>
<text x="43.20" y="32.40" font-size="5.0" text-anchor="end" font-weight="normal" fill="#333" stroke="#333" stroke-width="0.13" >3</text>
<line x1="46.2" y1="21.90" x2="49.3" y2="21.90" stroke="#000" stroke-width="1.0"/>
<text x="43.20" y="23.70" font-size="5.0" text-anchor="end" font-weight="normal" fill="#333" stroke="#333" stroke-width="0.13" >4</text>
<text transform="translate(23.8,50.4) rotate(-90)" font-size="7.8" fill="#222" stroke="#222" stroke-width="0.12" textLength="22" lengthAdjust="spacingAndGlyphs">Mutations</text>
<text transform="translate(32.6,49.5) rotate(-90)" font-size="7.6" fill="#222" stroke="#222" stroke-width="0.12" textLength="20.2" lengthAdjust="spacingAndGlyphs">per clone</text>
<text transform="translate(27.5,150.3) rotate(-90)" font-size="6.9" fill="#222" stroke="#222" stroke-width="0.12" textLength="47.4" lengthAdjust="spacingAndGlyphs">Population frequency</text>
<text x="46.30" y="65.97" font-size="5.4" text-anchor="end" font-weight="normal" fill="#3a3a3a" stroke="#3a3a3a" stroke-width="0.08" >51%</text>
<text x="293.00" y="65.58" font-size="5.1" text-anchor="start" font-weight="normal" fill="#1a1a1a" stroke="#1a1a1a" stroke-width="0.13" >NPM1</text>
<text x="46.30" y="78.62" font-size="5.4" text-anchor="end" font-weight="normal" fill="#3a3a3a" stroke="#3a3a3a" stroke-width="0.08" >25%</text>
<text x="293.00" y="78.23" font-size="5.1" text-anchor="start" font-weight="normal" fill="#1a1a1a" stroke="#1a1a1a" stroke-width="0.13" >FLT3</text>
<text x="46.30" y="91.27" font-size="5.4" text-anchor="end" font-weight="normal" fill="#3a3a3a" stroke="#3a3a3a" stroke-width="0.08" >23%</text>
<text x="293.00" y="90.88" font-size="5.1" text-anchor="start" font-weight="normal" fill="#1a1a1a" stroke="#1a1a1a" stroke-width="0.13" >DNMT3A</text>
<text x="46.30" y="103.92" font-size="5.4" text-anchor="end" font-weight="normal" fill="#3a3a3a" stroke="#3a3a3a" stroke-width="0.08" >18%</text>
<text x="293.00" y="103.53" font-size="5.1" text-anchor="start" font-weight="normal" fill="#1a1a1a" stroke="#1a1a1a" stroke-width="0.13" >IDH2</text>
<text x="46.30" y="116.58" font-size="5.4" text-anchor="end" font-weight="normal" fill="#3a3a3a" stroke="#3a3a3a" stroke-width="0.08" >16%</text>
<text x="293.00" y="116.18" font-size="5.1" text-anchor="start" font-weight="normal" fill="#1a1a1a" stroke="#1a1a1a" stroke-width="0.13" >NRAS</text>
<text x="46.30" y="129.22" font-size="5.4" text-anchor="end" font-weight="normal" fill="#3a3a3a" stroke="#3a3a3a" stroke-width="0.08" >13%</text>
<text x="293.00" y="128.82" font-size="5.1" text-anchor="start" font-weight="normal" fill="#1a1a1a" stroke="#1a1a1a" stroke-width="0.13" >IDH1</text>
<text x="46.30" y="141.87" font-size="5.4" text-anchor="end" font-weight="normal" fill="#3a3a3a" stroke="#3a3a3a" stroke-width="0.08" >11%</text>
<text x="293.00" y="141.47" font-size="5.1" text-anchor="start" font-weight="normal" fill="#1a1a1a" stroke="#1a1a1a" stroke-width="0.13" >GATA2</text>
<text x="46.30" y="154.52" font-size="5.4" text-anchor="end" font-weight="normal" fill="#3a3a3a" stroke="#3a3a3a" stroke-width="0.08" >10%</text>
<text x="293.00" y="154.12" font-size="5.1" text-anchor="start" font-weight="normal" fill="#1a1a1a" stroke="#1a1a1a" stroke-width="0.13" >WT1</text>
<text x="46.30" y="167.17" font-size="5.4" text-anchor="end" font-weight="normal" fill="#3a3a3a" stroke="#3a3a3a" stroke-width="0.08" >5%</text>
<text x="293.00" y="166.77" font-size="5.1" text-anchor="start" font-weight="normal" fill="#1a1a1a" stroke="#1a1a1a" stroke-width="0.13" >KIT</text>
<text x="46.30" y="179.82" font-size="5.4" text-anchor="end" font-weight="normal" fill="#3a3a3a" stroke="#3a3a3a" stroke-width="0.08" >4%</text>
<text x="293.00" y="179.42" font-size="5.1" text-anchor="start" font-weight="normal" fill="#1a1a1a" stroke="#1a1a1a" stroke-width="0.13" >KRAS</text>
<text x="46.30" y="192.47" font-size="5.4" text-anchor="end" font-weight="normal" fill="#3a3a3a" stroke="#3a3a3a" stroke-width="0.08" >4%</text>
<text x="293.00" y="192.07" font-size="5.1" text-anchor="start" font-weight="normal" fill="#1a1a1a" stroke="#1a1a1a" stroke-width="0.13" >PTPN11</text>
<text x="7.00" y="16.20" font-size="11.5" text-anchor="start" font-weight="bold" fill="#000" >A</text>
<text x="316" y="38" font-size="6.6" fill="#222" stroke="#222" stroke-width="0.15" textLength="58" lengthAdjust="spacingAndGlyphs">Population frequency (%)</text>
<text x="325.00" y="49.50" font-size="4.9" text-anchor="middle" font-weight="normal" fill="#333" stroke="#333" stroke-width="0.13" >0</text>
<line x1="325.00" y1="54.2" x2="325.00" y2="57.2" stroke="#222" stroke-width="0.7"/>
<text x="333.15" y="49.50" font-size="4.9" text-anchor="middle" font-weight="normal" fill="#333" stroke="#333" stroke-width="0.13" >10</text>
<line x1="333.15" y1="54.2" x2="333.15" y2="57.2" stroke="#222" stroke-width="0.7"/>
<text x="341.30" y="49.50" font-size="4.9" text-anchor="middle" font-weight="normal" fill="#333" stroke="#333" stroke-width="0.13" >20</text>
<line x1="341.30" y1="54.2" x2="341.30" y2="57.2" stroke="#222" stroke-width="0.7"/>
<text x="349.45" y="49.50" font-size="4.9" text-anchor="middle" font-weight="normal" fill="#333" stroke="#333" stroke-width="0.13" >30</text>
<line x1="349.45" y1="54.2" x2="349.45" y2="57.2" stroke="#222" stroke-width="0.7"/>
<text x="357.60" y="49.50" font-size="4.9" text-anchor="middle" font-weight="normal" fill="#333" stroke="#333" stroke-width="0.13" >40</text>
<line x1="357.60" y1="54.2" x2="357.60" y2="57.2" stroke="#222" stroke-width="0.7"/>
<text x="365.75" y="49.50" font-size="4.9" text-anchor="middle" font-weight="normal" fill="#333" stroke="#333" stroke-width="0.13" >50</text>
<line x1="365.75" y1="54.2" x2="365.75" y2="57.2" stroke="#222" stroke-width="0.7"/>
<line x1="322.3" y1="57.2" x2="368.6" y2="57.2" stroke="#222" stroke-width="0.9"/>
<rect x="325.00" y="59.73" width="40.80" height="7.5" fill="#68a84a"/>
<rect x="325.00" y="72.38" width="16.00" height="7.5" fill="#68a84a"/>
<rect x="341.00" y="72.38" width="1.90" height="7.5" fill="#b0103a"/>
<rect x="342.90" y="72.38" width="2.10" height="7.5" fill="#2e4a82"/>
<rect x="325.00" y="85.02" width="17.75" height="7.5" fill="#2e4a82"/>
<rect x="325.00" y="97.67" width="14.30" height="7.5" fill="#2e4a82"/>
<rect x="325.00" y="110.33" width="12.90" height="7.5" fill="#2e4a82"/>
<rect x="325.00" y="122.97" width="10.10" height="7.5" fill="#2e4a82"/>
<rect x="325.00" y="135.62" width="8.80" height="7.5" fill="#2e4a82"/>
<rect x="325.00" y="148.27" width="5.50" height="7.5" fill="#68a84a"/>
<rect x="330.50" y="148.27" width="2.50" height="7.5" fill="#a394d6"/>
<rect x="325.00" y="160.92" width="3.80" height="7.5" fill="#2e4a82"/>
<rect x="325.00" y="173.57" width="3.80" height="7.5" fill="#2e4a82"/>
<rect x="325.00" y="186.22" width="3.00" height="7.5" fill="#2e4a82"/>
<text x="60.00" y="219.60" font-size="5.0" text-anchor="start" font-weight="normal" fill="#222" stroke="#222" stroke-width="0.13" >Time</text>
<text x="104.80" y="219.60" font-size="5.0" text-anchor="start" font-weight="normal" fill="#222" stroke="#222" stroke-width="0.13" >Response</text>
<text x="157.30" y="219.60" font-size="5.0" text-anchor="start" font-weight="normal" fill="#222" stroke="#222" stroke-width="0.13" >Variant Class</text>
<rect x="60" y="225" width="3.8" height="3.8" fill="#4d1c5f"/>
<text x="67.60" y="228.70" font-size="5.1" text-anchor="start" font-weight="normal" fill="#222" stroke="#222" stroke-width="0.13" >Diagnosis</text>
<rect x="60" y="234.8" width="3.8" height="3.8" fill="#8c6b9b"/>
<text x="67.60" y="238.50" font-size="5.1" text-anchor="start" font-weight="normal" fill="#222" stroke="#222" stroke-width="0.13" >Remission</text>
<rect x="60" y="244.6" width="3.8" height="3.8" fill="#d6c6de"/>
<text x="67.60" y="248.30" font-size="5.1" text-anchor="start" font-weight="normal" fill="#222" stroke="#222" stroke-width="0.13" >Relapse</text>
<rect x="104.8" y="225" width="3.8" height="3.8" fill="#efbf1a"/>
<text x="112.40" y="228.70" font-size="5.1" text-anchor="start" font-weight="normal" fill="#222" stroke="#222" stroke-width="0.13" >Non-relapsed</text>
<rect x="104.8" y="234.8" width="3.8" height="3.8" fill="#8f96c0"/>
<text x="112.40" y="238.50" font-size="5.1" text-anchor="start" font-weight="normal" fill="#222" stroke="#222" stroke-width="0.13" >Relapsed</text>
<rect x="157.3" y="225" width="3.8" height="3.8" fill="#6aab3f"/>
<text x="164.90" y="228.70" font-size="5.1" text-anchor="start" font-weight="normal" fill="#222" stroke="#222" stroke-width="0.13" >Frameshift Insertion</text>
<rect x="157.3" y="234.8" width="3.8" height="3.8" fill="#1f3f80"/>
<text x="164.90" y="238.50" font-size="5.1" text-anchor="start" font-weight="normal" fill="#222" stroke="#222" stroke-width="0.13" >Missense Mutation</text>
<rect x="157.3" y="244.6" width="3.8" height="3.8" fill="#b7173f"/>
<text x="164.90" y="248.30" font-size="5.1" text-anchor="start" font-weight="normal" fill="#222" stroke="#222" stroke-width="0.13" >In Frame Deletion</text>
<rect x="224.0" y="225" width="3.8" height="3.8" fill="#9a8cd2"/>
<text x="231.60" y="228.70" font-size="5.1" text-anchor="start" font-weight="normal" fill="#222" stroke="#222" stroke-width="0.13" >In Frame Insertion</text>
<text x="7.00" y="275.00" font-size="11.5" text-anchor="start" font-weight="bold" fill="#000" >B</text>
<path d="M36.90,278.65 L69.78,278.65" fill="none" stroke="#000" stroke-width="2.3"/>
<path d="M78.40,278.65 L66.90,274.20 L69.78,278.65 L66.90,283.10 Z" fill="#000"/>
<text x="82.70" y="280.70" font-size="5.05" text-anchor="start" font-weight="normal" fill="#222" stroke="#222" stroke-width="0.13" >Q-val &lt; 0.15</text>
<path d="M139.20,278.90 L173.54,278.90" fill="none" stroke="#3c3c3c" stroke-width="1.7"/>
<path d="M179.30,278.90 L172.10,276.15 L173.54,278.90 L172.10,281.65 Z" fill="#000"/>
<text x="182.30" y="280.50" font-size="5.05" text-anchor="start" font-weight="normal" fill="#222" stroke="#222" stroke-width="0.13" >Q-val &lt; 0.25</text>
<path d="M244.00,278.90 L278.54,278.90" fill="none" stroke="#000" stroke-width="1.7" stroke-dasharray="3.1,2.1"/>
<path d="M284.70,278.90 L277.00,275.90 L278.54,278.90 L277.00,281.90 Z" fill="#000"/>
<text x="287.90" y="280.50" font-size="5.05" text-anchor="start" font-weight="normal" fill="#222" stroke="#222" stroke-width="0.13" >Q-val &lt; 0.35</text>
<path d="M79.20,308.80 L61.20,308.80 L61.20,323.98" fill="none" stroke="#000" stroke-width="1.25"/>
<path d="M61.20,328.80 L58.05,321.50 L61.20,323.98 L64.35,321.50 Z" fill="#000"/>
<path d="M108.80,308.80 L126.80,308.80 L126.80,319.56" fill="none" stroke="#000" stroke-width="1.6"/>
<path d="M126.80,329.00 L121.90,317.20 L126.80,319.56 L131.70,317.20 Z" fill="#000"/>
<path d="M61.10,340.20 L61.10,350.08" fill="none" stroke="#000" stroke-width="1.25"/>
<path d="M61.10,354.90 L57.95,347.60 L61.10,350.08 L64.25,347.60 Z" fill="#000"/>
<path d="M127.00,340.20 L127.00,350.15" fill="none" stroke="#000" stroke-width="1.45" stroke-dasharray="2.9,2.3"/>
<path d="M127.00,354.90 L123.85,347.70 L127.00,350.15 L130.15,347.70 Z" fill="#000"/>
<path d="M61.10,366.30 L61.10,376.68" fill="none" stroke="#000" stroke-width="1.25"/>
<path d="M61.10,381.50 L57.95,374.20 L61.10,376.68 L64.25,374.20 Z" fill="#000"/>
<path d="M181.10,308.50 L173.40,308.50 L173.40,324.58" fill="none" stroke="#8a8a8a" stroke-width="1.4"/>
<path d="M173.40,328.80 L170.30,322.00 L173.40,324.58 L176.50,322.00 Z" fill="#8a8a8a"/>
<path d="M208.80,308.50 L217.50,308.50 L217.50,324.58" fill="none" stroke="#8a8a8a" stroke-width="1.4"/>
<path d="M217.50,328.80 L214.40,322.00 L217.50,324.58 L220.60,322.00 Z" fill="#8a8a8a"/>
<path d="M288.00,308.50 L259.80,308.50 L259.80,324.98" fill="none" stroke="#8a8a8a" stroke-width="1.4"/>
<path d="M259.80,329.20 L256.70,322.40 L259.80,324.98 L262.90,322.40 Z" fill="#8a8a8a"/>
<path d="M302.00,313.80 L302.00,324.45" fill="none" stroke="#000" stroke-width="1.45" stroke-dasharray="2.9,2.3"/>
<path d="M302.00,329.20 L298.85,322.00 L302.00,324.45 L305.15,322.00 Z" fill="#000"/>
<path d="M316.00,308.50 L343.70,308.50 L343.70,319.36" fill="none" stroke="#000" stroke-width="1.6"/>
<path d="M343.70,328.80 L338.80,317.00 L343.70,319.36 L348.60,317.00 Z" fill="#000"/>
<rect x="79.85" y="303.55" width="28.30" height="10.60" fill="#dd9a8a" stroke="#111" stroke-width="1.3"/>
<text x="94.00" y="310.78" font-size="5.35" text-anchor="middle" font-weight="normal" fill="#222" stroke="#222" stroke-width="0.06" >DNMT3A</text>
<rect x="39.80" y="329.60" width="42.60" height="10.60" fill="#ebcbc2"/>
<text x="61.10" y="336.75" font-size="5.15" text-anchor="middle" font-weight="normal" fill="#222" stroke="#222" stroke-width="0.06" >DNMT3A_IDH1</text>
<rect x="105.50" y="329.60" width="42.60" height="10.60" fill="#ebcbc2"/>
<text x="126.80" y="336.75" font-size="5.15" text-anchor="middle" font-weight="normal" fill="#222" stroke="#222" stroke-width="0.06" >DNMT3A_NPM1</text>
<rect x="31.30" y="355.50" width="59.30" height="10.80" fill="#ebcbc2"/>
<text x="60.95" y="362.75" font-size="5.15" text-anchor="middle" font-weight="normal" fill="#222" stroke="#222" stroke-width="0.06" >DNMT3A_IDH1_NPM1</text>
<rect x="97.60" y="355.50" width="58.50" height="10.80" fill="#ebcbc2"/>
<text x="126.85" y="362.75" font-size="5.15" text-anchor="middle" font-weight="normal" fill="#222" stroke="#222" stroke-width="0.06" >DNMT3A_NPM1_FLT3</text>
<rect x="23.20" y="382.00" width="75.80" height="10.60" fill="#ebcbc2"/>
<text x="61.10" y="389.15" font-size="5.15" text-anchor="middle" font-weight="normal" fill="#222" stroke="#222" stroke-width="0.06" >DNMT3A_IDH1_NPM1_KRAS</text>
<rect x="181.10" y="302.80" width="27.70" height="11.10" fill="#f5dec2"/>
<text x="194.95" y="310.20" font-size="5.15" text-anchor="middle" font-weight="normal" fill="#222" stroke="#222" stroke-width="0.06" >FLT3</text>
<rect x="154.30" y="329.70" width="37.20" height="10.50" fill="#f5dec2"/>
<text x="172.90" y="336.80" font-size="5.15" text-anchor="middle" font-weight="normal" fill="#222" stroke="#222" stroke-width="0.06" >NPM1_FLT3</text>
<rect x="198.40" y="329.70" width="37.60" height="10.50" fill="#f5dec2"/>
<text x="217.20" y="336.80" font-size="5.15" text-anchor="middle" font-weight="normal" fill="#222" stroke="#222" stroke-width="0.06" >GATA2_FLT3</text>
<rect x="288.00" y="302.80" width="28.00" height="11.00" fill="#ececec"/>
<text x="302.00" y="310.15" font-size="5.15" text-anchor="middle" font-weight="normal" fill="#222" stroke="#222" stroke-width="0.06" >GATA2</text>
<rect x="242.30" y="329.90" width="35.20" height="10.40" fill="#ececec"/>
<text x="259.90" y="336.95" font-size="5.15" text-anchor="middle" font-weight="normal" fill="#222" stroke="#222" stroke-width="0.06" >GATA2_FLT3</text>
<rect x="284.60" y="329.90" width="34.60" height="10.40" fill="#ececec"/>
<text x="301.90" y="336.95" font-size="5.15" text-anchor="middle" font-weight="normal" fill="#222" stroke="#222" stroke-width="0.06" >GATA2_KIT</text>
<rect x="325.80" y="329.60" width="35.40" height="10.70" fill="#ececec"/>
<text x="343.50" y="336.80" font-size="5.15" text-anchor="middle" font-weight="normal" fill="#222" stroke="#222" stroke-width="0.06" >GATA2_NRAS</text>
<path d="M60.40,434.70 L60.40,444.05" fill="none" stroke="#000" stroke-width="1.45" stroke-dasharray="2.9,2.3"/>
<path d="M60.40,448.80 L57.25,441.60 L60.40,444.05 L63.55,441.60 Z" fill="#000"/>
<path d="M45.70,460.20 L45.70,470.48" fill="none" stroke="#000" stroke-width="1.25"/>
<path d="M45.70,475.30 L42.55,468.00 L45.70,470.48 L48.85,468.00 Z" fill="#000"/>
<path d="M74.60,460.20 L74.60,470.55" fill="none" stroke="#000" stroke-width="1.45" stroke-dasharray="2.9,2.3"/>
<path d="M74.60,475.30 L71.45,468.10 L74.60,470.55 L77.75,468.10 Z" fill="#000"/>
<path d="M176.30,428.80 L101.80,428.80 L101.80,444.05" fill="none" stroke="#000" stroke-width="1.45" stroke-dasharray="2.9,2.3"/>
<path d="M101.80,448.80 L98.65,441.60 L101.80,444.05 L104.95,441.60 Z" fill="#000"/>
<path d="M143.10,428.80 L143.10,444.05" fill="none" stroke="#000" stroke-width="1.45" stroke-dasharray="2.9,2.3"/>
<path d="M143.10,448.80 L139.95,441.60 L143.10,444.05 L146.25,441.60 Z" fill="#000"/>
<path d="M184.60,433.70 L184.60,444.58" fill="none" stroke="#8a8a8a" stroke-width="1.4"/>
<path d="M184.60,448.80 L181.50,442.00 L184.60,444.58 L187.70,442.00 Z" fill="#8a8a8a"/>
<path d="M194.20,429.60 L230.80,429.60 L230.80,444.58" fill="none" stroke="#8a8a8a" stroke-width="1.4"/>
<path d="M230.80,448.80 L227.70,442.00 L230.80,444.58 L233.90,442.00 Z" fill="#8a8a8a"/>
<path d="M194.20,427.20 L276.30,427.20 L276.30,443.75" fill="none" stroke="#000" stroke-width="1.45" stroke-dasharray="2.9,2.3"/>
<path d="M276.30,448.50 L273.15,441.30 L276.30,443.75 L279.45,441.30 Z" fill="#000"/>
<path d="M327.80,428.50 L315.00,428.50 L315.00,443.75" fill="none" stroke="#000" stroke-width="1.45" stroke-dasharray="2.9,2.3"/>
<path d="M315.00,448.50 L311.85,441.30 L315.00,443.75 L318.15,441.30 Z" fill="#000"/>
<path d="M345.80,428.50 L356.60,428.50 L356.60,443.20" fill="none" stroke="#000" stroke-width="1.35"/>
<path d="M356.60,448.80 L353.20,440.80 L356.60,443.20 L360.00,440.80 Z" fill="#000"/>
<rect x="51.65" y="422.95" width="17.70" height="11.00" fill="#9da2cb" stroke="#111" stroke-width="1.3"/>
<text x="60.50" y="430.30" font-size="5.15" text-anchor="middle" font-weight="normal" fill="#222" stroke="#222" stroke-width="0.06" >IDH2</text>
<rect x="42.90" y="449.00" width="35.00" height="11.20" fill="#cdd0e7"/>
<text x="60.40" y="456.45" font-size="5.15" text-anchor="middle" font-weight="normal" fill="#222" stroke="#222" stroke-width="0.06" >IDH2_NPM1</text>
<rect x="7.20" y="475.20" width="49.10" height="11.00" fill="#cdd0e7"/>
<text x="31.75" y="482.55" font-size="5.15" text-anchor="middle" font-weight="normal" fill="#222" stroke="#222" stroke-width="0.06" >IDH2_NPM1_FLT3</text>
<rect x="62.20" y="475.20" width="49.50" height="10.90" fill="#cdd0e7"/>
<text x="86.95" y="482.50" font-size="5.15" text-anchor="middle" font-weight="normal" fill="#222" stroke="#222" stroke-width="0.06" >IDH2_NPM1_KRAS</text>
<rect x="176.30" y="423.00" width="17.90" height="10.70" fill="#dcdcdc"/>
<text x="185.25" y="430.20" font-size="5.15" text-anchor="middle" font-weight="normal" fill="#222" stroke="#222" stroke-width="0.06" >NPM1</text>
<rect x="84.10" y="449.00" width="35.60" height="11.20" fill="#dcdcdc"/>
<text x="101.90" y="456.45" font-size="5.15" text-anchor="middle" font-weight="normal" fill="#222" stroke="#222" stroke-width="0.06" >IDH2_NPM1</text>
<rect x="125.80" y="449.40" width="35.00" height="10.40" fill="#dcdcdc"/>
<text x="143.30" y="456.45" font-size="5.15" text-anchor="middle" font-weight="normal" fill="#222" stroke="#222" stroke-width="0.06" >NPM1_FLT3</text>
<rect x="167.70" y="449.40" width="35.00" height="10.40" fill="#dcdcdc"/>
<text x="185.20" y="456.45" font-size="5.15" text-anchor="middle" font-weight="normal" fill="#222" stroke="#222" stroke-width="0.06" >NPM1_IDH1</text>
<rect x="209.00" y="449.40" width="43.00" height="10.40" fill="#dcdcdc"/>
<text x="230.50" y="456.45" font-size="5.15" text-anchor="middle" font-weight="normal" fill="#222" stroke="#222" stroke-width="0.06" >NPM1_PTPN11</text>
<rect x="258.30" y="448.90" width="35.50" height="11.10" fill="#dcdcdc"/>
<text x="276.05" y="456.30" font-size="5.15" text-anchor="middle" font-weight="normal" fill="#222" stroke="#222" stroke-width="0.06" >WT1_NPM1</text>
<rect x="327.80" y="423.00" width="18.00" height="10.60" fill="#d9cbe0"/>
<text x="336.80" y="430.15" font-size="5.15" text-anchor="middle" font-weight="normal" fill="#222" stroke="#222" stroke-width="0.06" >WT1</text>
<rect x="300.00" y="448.90" width="33.30" height="11.10" fill="#d9cbe0"/>
<text x="316.65" y="456.30" font-size="5.15" text-anchor="middle" font-weight="normal" fill="#222" stroke="#222" stroke-width="0.06" >WT1_KRAS</text>
<rect x="340.20" y="449.30" width="33.60" height="10.40" fill="#d9cbe0"/>
<text x="357.00" y="456.35" font-size="5.15" text-anchor="middle" font-weight="normal" fill="#222" stroke="#222" stroke-width="0.06" >WT1_NRAS</text>
<defs><linearGradient id="cb" x1="0" y1="0" x2="0" y2="1"><stop offset="0" stop-color="#053061"/><stop offset="0.1" stop-color="#2166ac"/><stop offset="0.2" stop-color="#4393c3"/><stop offset="0.3" stop-color="#92c5de"/><stop offset="0.4" stop-color="#d1e5f0"/><stop offset="0.5" stop-color="#f7f7f7"/><stop offset="0.6" stop-color="#fddbc7"/><stop offset="0.7" stop-color="#f4a582"/><stop offset="0.8" stop-color="#d6604d"/><stop offset="0.9" stop-color="#b2182b"/><stop offset="1.0" stop-color="#67001f"/></linearGradient></defs>
<text x="389.20" y="16.20" font-size="11.3" text-anchor="start" font-weight="bold" fill="#000" >C</text>
<text x="451.60" y="13.80" font-size="7.3" text-anchor="middle" font-weight="normal" fill="#222" stroke="#222" stroke-width="0.13" >SCS</text>
<rect x="414.00" y="40.60" width="7.50" height="7.50" fill="#f6dccb" stroke="#ffffff" stroke-opacity="0.3" stroke-width="0.35"/>
<rect x="421.50" y="40.60" width="7.50" height="7.50" fill="#f6dccb" stroke="#ffffff" stroke-opacity="0.3" stroke-width="0.35"/>
<rect x="429.00" y="40.60" width="7.50" height="7.50" fill="#3f74b5" stroke="#ffffff" stroke-opacity="0.3" stroke-width="0.35"/>
<circle cx="431.00" cy="44.55" r="0.7" fill="#111"/>
<circle cx="432.75" cy="44.55" r="0.7" fill="#111"/>
<circle cx="434.50" cy="44.55" r="0.7" fill="#111"/>
<rect x="436.50" y="40.60" width="7.50" height="7.50" fill="#f2cdb5" stroke="#ffffff" stroke-opacity="0.3" stroke-width="0.35"/>
<circle cx="440.25" cy="44.55" r="0.7" fill="#111"/>
<rect x="444.00" y="40.60" width="7.50" height="7.50" fill="#fae9de" stroke="#ffffff" stroke-opacity="0.3" stroke-width="0.35"/>
<rect x="451.50" y="40.60" width="7.50" height="7.50" fill="#fbece2" stroke="#ffffff" stroke-opacity="0.3" stroke-width="0.35"/>
<rect x="459.00" y="40.60" width="7.50" height="7.50" fill="#e3eef6" stroke="#ffffff" stroke-opacity="0.3" stroke-width="0.35"/>
<rect x="466.50" y="40.60" width="7.50" height="7.50" fill="#fdf5ef" stroke="#ffffff" stroke-opacity="0.3" stroke-width="0.35"/>
<rect x="474.00" y="40.60" width="7.50" height="7.50" fill="#cfe2f0" stroke="#ffffff" stroke-opacity="0.3" stroke-width="0.35"/>
<circle cx="477.75" cy="44.55" r="0.7" fill="#111"/>
<rect x="481.50" y="40.60" width="7.50" height="7.50" fill="#f5d8c5" stroke="#ffffff" stroke-opacity="0.3" stroke-width="0.35"/>
<rect x="421.50" y="48.10" width="7.50" height="7.50" fill="#fcf1ea" stroke="#ffffff" stroke-opacity="0.3" stroke-width="0.35"/>
<rect x="429.00" y="48.10" width="7.50" height="7.50" fill="#f6e0d0" stroke="#ffffff" stroke-opacity="0.3" stroke-width="0.35"/>
<rect x="436.50" y="48.10" width="7.50" height="7.50" fill="#fcf0e8" stroke="#ffffff" stroke-opacity="0.3" stroke-width="0.35"/>
<rect x="444.00" y="48.10" width="7.50" height="7.50" fill="#f8e4d7" stroke="#ffffff" stroke-opacity="0.3" stroke-width="0.35"/>
<rect x="451.50" y="48.10" width="7.50" height="7.50" fill="#f8e4d7" stroke="#ffffff" stroke-opacity="0.3" stroke-width="0.35"/>
<rect x="459.00" y="48.10" width="7.50" height="7.50" fill="#d6e6f2" stroke="#ffffff" stroke-opacity="0.3" stroke-width="0.35"/>
<rect x="466.50" y="48.10" width="7.50" height="7.50" fill="#f3cdb6" stroke="#ffffff" stroke-opacity="0.3" stroke-width="0.35"/>
<circle cx="470.25" cy="52.05" r="0.7" fill="#111"/>
<rect x="474.00" y="48.10" width="7.50" height="7.50" fill="#f9e8dc" stroke="#ffffff" stroke-opacity="0.3" stroke-width="0.35"/>
<rect x="481.50" y="48.10" width="7.50" height="7.50" fill="#f4d5c2" stroke="#ffffff" stroke-opacity="0.3" stroke-width="0.35"/>
<rect x="429.00" y="55.60" width="7.50" height="7.50" fill="#f6e0d0" stroke="#ffffff" stroke-opacity="0.3" stroke-width="0.35"/>
<rect x="436.50" y="55.60" width="7.50" height="7.50" fill="#f6e1d2" stroke="#ffffff" stroke-opacity="0.3" stroke-width="0.35"/>
<rect x="444.00" y="55.60" width="7.50" height="7.50" fill="#d2e4f1" stroke="#ffffff" stroke-opacity="0.3" stroke-width="0.35"/>
<rect x="451.50" y="55.60" width="7.50" height="7.50" fill="#fbf0e8" stroke="#ffffff" stroke-opacity="0.3" stroke-width="0.35"/>
<rect x="459.00" y="55.60" width="7.50" height="7.50" fill="#eebba0" stroke="#ffffff" stroke-opacity="0.3" stroke-width="0.35"/>
<circle cx="461.00" cy="59.55" r="0.7" fill="#111"/>
<circle cx="462.75" cy="59.55" r="0.7" fill="#111"/>
<circle cx="464.50" cy="59.55" r="0.7" fill="#111"/>
<rect x="466.50" y="55.60" width="7.50" height="7.50" fill="#cfe2f0" stroke="#ffffff" stroke-opacity="0.3" stroke-width="0.35"/>
<circle cx="469.38" cy="59.55" r="0.7" fill="#111"/>
<circle cx="471.12" cy="59.55" r="0.7" fill="#111"/>
<rect x="474.00" y="55.60" width="7.50" height="7.50" fill="#fbeee5" stroke="#ffffff" stroke-opacity="0.3" stroke-width="0.35"/>
<rect x="481.50" y="55.60" width="7.50" height="7.50" fill="#f6dccb" stroke="#ffffff" stroke-opacity="0.3" stroke-width="0.35"/>
<rect x="436.50" y="63.10" width="7.50" height="7.50" fill="#f4d7c4" stroke="#ffffff" stroke-opacity="0.3" stroke-width="0.35"/>
<rect x="444.00" y="63.10" width="7.50" height="7.50" fill="#fae9de" stroke="#ffffff" stroke-opacity="0.3" stroke-width="0.35"/>
<rect x="451.50" y="63.10" width="7.50" height="7.50" fill="#fae9de" stroke="#ffffff" stroke-opacity="0.3" stroke-width="0.35"/>
<rect x="459.00" y="63.10" width="7.50" height="7.50" fill="#d8e7f2" stroke="#ffffff" stroke-opacity="0.3" stroke-width="0.35"/>
<rect x="466.50" y="63.10" width="7.50" height="7.50" fill="#eef4f9" stroke="#ffffff" stroke-opacity="0.3" stroke-width="0.35"/>
<rect x="474.00" y="63.10" width="7.50" height="7.50" fill="#b5d2e8" stroke="#ffffff" stroke-opacity="0.3" stroke-width="0.35"/>
<circle cx="476.00" cy="67.05" r="0.7" fill="#111"/>
<circle cx="477.75" cy="67.05" r="0.7" fill="#111"/>
<circle cx="479.50" cy="67.05" r="0.7" fill="#111"/>
<rect x="481.50" y="63.10" width="7.50" height="7.50" fill="#f6dccb" stroke="#ffffff" stroke-opacity="0.3" stroke-width="0.35"/>
<rect x="444.00" y="70.60" width="7.50" height="7.50" fill="#fbece2" stroke="#ffffff" stroke-opacity="0.3" stroke-width="0.35"/>
<rect x="451.50" y="70.60" width="7.50" height="7.50" fill="#d8e7f2" stroke="#ffffff" stroke-opacity="0.3" stroke-width="0.35"/>
<rect x="459.00" y="70.60" width="7.50" height="7.50" fill="#dbe9f3" stroke="#ffffff" stroke-opacity="0.3" stroke-width="0.35"/>
<rect x="466.50" y="70.60" width="7.50" height="7.50" fill="#f4d6c3" stroke="#ffffff" stroke-opacity="0.3" stroke-width="0.35"/>
<rect x="474.00" y="70.60" width="7.50" height="7.50" fill="#f8e6da" stroke="#ffffff" stroke-opacity="0.3" stroke-width="0.35"/>
<rect x="481.50" y="70.60" width="7.50" height="7.50" fill="#f6dccb" stroke="#ffffff" stroke-opacity="0.3" stroke-width="0.35"/>
<rect x="451.50" y="78.10" width="7.50" height="7.50" fill="#fdf6f1" stroke="#ffffff" stroke-opacity="0.3" stroke-width="0.35"/>
<rect x="459.00" y="78.10" width="7.50" height="7.50" fill="#f2cbb3" stroke="#ffffff" stroke-opacity="0.3" stroke-width="0.35"/>
<circle cx="462.75" cy="82.05" r="0.7" fill="#111"/>
<rect x="466.50" y="78.10" width="7.50" height="7.50" fill="#fbeee5" stroke="#ffffff" stroke-opacity="0.3" stroke-width="0.35"/>
<rect x="474.00" y="78.10" width="7.50" height="7.50" fill="#fbeee5" stroke="#ffffff" stroke-opacity="0.3" stroke-width="0.35"/>
<rect x="481.50" y="78.10" width="7.50" height="7.50" fill="#fbeee5" stroke="#ffffff" stroke-opacity="0.3" stroke-width="0.35"/>
<rect x="459.00" y="85.60" width="7.50" height="7.50" fill="#fefefe" stroke="#ffffff" stroke-opacity="0.3" stroke-width="0.35"/>
<rect x="466.50" y="85.60" width="7.50" height="7.50" fill="#fbeee5" stroke="#ffffff" stroke-opacity="0.3" stroke-width="0.35"/>
<rect x="474.00" y="85.60" width="7.50" height="7.50" fill="#fbeee5" stroke="#ffffff" stroke-opacity="0.3" stroke-width="0.35"/>
<rect x="481.50" y="85.60" width="7.50" height="7.50" fill="#c5dced" stroke="#ffffff" stroke-opacity="0.3" stroke-width="0.35"/>
<circle cx="484.38" cy="89.55" r="0.7" fill="#111"/>
<circle cx="486.12" cy="89.55" r="0.7" fill="#111"/>
<rect x="466.50" y="93.10" width="7.50" height="7.50" fill="#f2c9b0" stroke="#ffffff" stroke-opacity="0.3" stroke-width="0.35"/>
<circle cx="469.38" cy="97.05" r="0.7" fill="#111"/>
<circle cx="471.12" cy="97.05" r="0.7" fill="#111"/>
<rect x="474.00" y="93.10" width="7.50" height="7.50" fill="#d2e4f1" stroke="#ffffff" stroke-opacity="0.3" stroke-width="0.35"/>
<rect x="481.50" y="93.10" width="7.50" height="7.50" fill="#f4d5c2" stroke="#ffffff" stroke-opacity="0.3" stroke-width="0.35"/>
<rect x="474.00" y="100.60" width="7.50" height="7.50" fill="#fbece2" stroke="#ffffff" stroke-opacity="0.3" stroke-width="0.35"/>
<rect x="481.50" y="100.60" width="7.50" height="7.50" fill="#e6eff7" stroke="#ffffff" stroke-opacity="0.3" stroke-width="0.35"/>
<rect x="481.50" y="108.10" width="7.50" height="7.50" fill="#fcf1ea" stroke="#ffffff" stroke-opacity="0.3" stroke-width="0.35"/>
<text x="410.80" y="46.45" font-size="5.25" text-anchor="end" font-weight="normal" fill="#222" stroke="#222" stroke-width="0.13" >DNMT3A</text>
<text x="418.30" y="53.95" font-size="5.25" text-anchor="end" font-weight="normal" fill="#222" stroke="#222" stroke-width="0.13" >FLT3</text>
<text x="425.80" y="61.45" font-size="5.25" text-anchor="end" font-weight="normal" fill="#222" stroke="#222" stroke-width="0.13" >GATA2</text>
<text x="433.30" y="68.95" font-size="5.25" text-anchor="end" font-weight="normal" fill="#222" stroke="#222" stroke-width="0.13" >IDH1</text>
<text x="440.80" y="76.45" font-size="5.25" text-anchor="end" font-weight="normal" fill="#222" stroke="#222" stroke-width="0.13" >IDH2</text>
<text x="448.30" y="83.95" font-size="5.25" text-anchor="end" font-weight="normal" fill="#222" stroke="#222" stroke-width="0.13" >KIT</text>
<text x="455.80" y="91.45" font-size="5.25" text-anchor="end" font-weight="normal" fill="#222" stroke="#222" stroke-width="0.13" >KRAS</text>
<text x="463.30" y="98.95" font-size="5.25" text-anchor="end" font-weight="normal" fill="#222" stroke="#222" stroke-width="0.13" >NPM1</text>
<text x="470.80" y="106.45" font-size="5.25" text-anchor="end" font-weight="normal" fill="#222" stroke="#222" stroke-width="0.13" >NRAS</text>
<text x="478.30" y="113.95" font-size="5.25" text-anchor="end" font-weight="normal" fill="#222" stroke="#222" stroke-width="0.13" >PTPN11</text>
<text transform="translate(419.75,37.70) rotate(-90)" font-size="5.0" fill="#222" stroke="#222" stroke-width="0.12">FLT3</text>
<text transform="translate(427.25,37.70) rotate(-90)" font-size="5.0" fill="#222" stroke="#222" stroke-width="0.12">GATA2</text>
<text transform="translate(434.75,37.70) rotate(-90)" font-size="5.0" fill="#222" stroke="#222" stroke-width="0.12">IDH1</text>
<text transform="translate(442.25,37.70) rotate(-90)" font-size="5.0" fill="#222" stroke="#222" stroke-width="0.12">IDH2</text>
<text transform="translate(449.75,37.70) rotate(-90)" font-size="5.0" fill="#222" stroke="#222" stroke-width="0.12">KIT</text>
<text transform="translate(457.25,37.70) rotate(-90)" font-size="5.0" fill="#222" stroke="#222" stroke-width="0.12">KRAS</text>
<text transform="translate(464.75,37.70) rotate(-90)" font-size="5.0" fill="#222" stroke="#222" stroke-width="0.12">NPM1</text>
<text transform="translate(472.25,37.70) rotate(-90)" font-size="5.0" fill="#222" stroke="#222" stroke-width="0.12">NRAS</text>
<text transform="translate(479.75,37.70) rotate(-90)" font-size="5.0" fill="#222" stroke="#222" stroke-width="0.12">PTPN11</text>
<text transform="translate(487.25,37.70) rotate(-90)" font-size="5.0" fill="#222" stroke="#222" stroke-width="0.12">WT1</text>
<rect x="494.1" y="40.60" width="2.8" height="75.0" fill="url(#cb)" stroke="#222" stroke-width="0.45"/>
<line x1="496.9" y1="40.60" x2="499" y2="40.60" stroke="#222" stroke-width="0.5"/>
<text x="502.60" y="42.40" font-size="5.0" text-anchor="start" font-weight="normal" fill="#222" stroke="#222" stroke-width="0.13" >1</text>
<line x1="496.9" y1="48.10" x2="499" y2="48.10" stroke="#222" stroke-width="0.5"/>
<text x="502.60" y="49.90" font-size="5.0" text-anchor="start" font-weight="normal" fill="#222" stroke="#222" stroke-width="0.13" >0.8</text>
<line x1="496.9" y1="55.60" x2="499" y2="55.60" stroke="#222" stroke-width="0.5"/>
<text x="502.60" y="57.40" font-size="5.0" text-anchor="start" font-weight="normal" fill="#222" stroke="#222" stroke-width="0.13" >0.6</text>
<line x1="496.9" y1="63.10" x2="499" y2="63.10" stroke="#222" stroke-width="0.5"/>
<text x="502.60" y="64.90" font-size="5.0" text-anchor="start" font-weight="normal" fill="#222" stroke="#222" stroke-width="0.13" >0.4</text>
<line x1="496.9" y1="70.60" x2="499" y2="70.60" stroke="#222" stroke-width="0.5"/>
<text x="502.60" y="72.40" font-size="5.0" text-anchor="start" font-weight="normal" fill="#222" stroke="#222" stroke-width="0.13" >0.2</text>
<line x1="496.9" y1="78.10" x2="499" y2="78.10" stroke="#222" stroke-width="0.5"/>
<text x="502.60" y="79.90" font-size="5.0" text-anchor="start" font-weight="normal" fill="#222" stroke="#222" stroke-width="0.13" >0</text>
<line x1="496.9" y1="85.60" x2="499" y2="85.60" stroke="#222" stroke-width="0.5"/>
<text x="502.60" y="87.40" font-size="5.0" text-anchor="start" font-weight="normal" fill="#222" stroke="#222" stroke-width="0.13" >−0.2</text>
<line x1="496.9" y1="93.10" x2="499" y2="93.10" stroke="#222" stroke-width="0.5"/>
<text x="502.60" y="94.90" font-size="5.0" text-anchor="start" font-weight="normal" fill="#222" stroke="#222" stroke-width="0.13" >−0.4</text>
<line x1="496.9" y1="100.60" x2="499" y2="100.60" stroke="#222" stroke-width="0.5"/>
<text x="502.60" y="102.40" font-size="5.0" text-anchor="start" font-weight="normal" fill="#222" stroke="#222" stroke-width="0.13" >−0.6</text>
<line x1="496.9" y1="108.10" x2="499" y2="108.10" stroke="#222" stroke-width="0.5"/>
<text x="502.60" y="109.90" font-size="5.0" text-anchor="start" font-weight="normal" fill="#222" stroke="#222" stroke-width="0.13" >−0.8</text>
<line x1="496.9" y1="115.60" x2="499" y2="115.60" stroke="#222" stroke-width="0.5"/>
<text x="502.60" y="117.40" font-size="5.0" text-anchor="start" font-weight="normal" fill="#222" stroke="#222" stroke-width="0.13" >−1</text>
<text x="389.20" y="154.60" font-size="11.3" text-anchor="start" font-weight="bold" fill="#000" >D</text>
<text x="452.00" y="152.20" font-size="7.3" text-anchor="middle" font-weight="normal" fill="#222" stroke="#222" stroke-width="0.13" >SCS Bulk VAFs</text>
<rect x="414.00" y="179.00" width="7.50" height="7.50" fill="#f6dccb" stroke="#ffffff" stroke-opacity="0.3" stroke-width="0.35"/>
<rect x="421.50" y="179.00" width="7.50" height="7.50" fill="#f6dccb" stroke="#ffffff" stroke-opacity="0.3" stroke-width="0.35"/>
<rect x="429.00" y="179.00" width="7.50" height="7.50" fill="#3567a8" stroke="#ffffff" stroke-opacity="0.3" stroke-width="0.35"/>
<circle cx="431.00" cy="182.95" r="0.7" fill="#111"/>
<circle cx="432.75" cy="182.95" r="0.7" fill="#111"/>
<circle cx="434.50" cy="182.95" r="0.7" fill="#111"/>
<rect x="436.50" y="179.00" width="7.50" height="7.50" fill="#efc2a6" stroke="#ffffff" stroke-opacity="0.3" stroke-width="0.35"/>
<rect x="444.00" y="179.00" width="7.50" height="7.50" fill="#f5d9c6" stroke="#ffffff" stroke-opacity="0.3" stroke-width="0.35"/>
<rect x="451.50" y="179.00" width="7.50" height="7.50" fill="#f5d9c6" stroke="#ffffff" stroke-opacity="0.3" stroke-width="0.35"/>
<rect x="459.00" y="179.00" width="7.50" height="7.50" fill="#b8d3e9" stroke="#ffffff" stroke-opacity="0.3" stroke-width="0.35"/>
<rect x="466.50" y="179.00" width="7.50" height="7.50" fill="#eaf2f8" stroke="#ffffff" stroke-opacity="0.3" stroke-width="0.35"/>
<rect x="474.00" y="179.00" width="7.50" height="7.50" fill="#a9c9e3" stroke="#ffffff" stroke-opacity="0.3" stroke-width="0.35"/>
<rect x="481.50" y="179.00" width="7.50" height="7.50" fill="#f5d5c0" stroke="#ffffff" stroke-opacity="0.3" stroke-width="0.35"/>
<rect x="421.50" y="186.50" width="7.50" height="7.50" fill="#d6e6f2" stroke="#ffffff" stroke-opacity="0.3" stroke-width="0.35"/>
<rect x="429.00" y="186.50" width="7.50" height="7.50" fill="#f4d3be" stroke="#ffffff" stroke-opacity="0.3" stroke-width="0.35"/>
<rect x="436.50" y="186.50" width="7.50" height="7.50" fill="#f0f6fa" stroke="#ffffff" stroke-opacity="0.3" stroke-width="0.35"/>
<rect x="444.00" y="186.50" width="7.50" height="7.50" fill="#fbfbfb" stroke="#ffffff" stroke-opacity="0.3" stroke-width="0.35"/>
<rect x="451.50" y="186.50" width="7.50" height="7.50" fill="#b9d4e9" stroke="#ffffff" stroke-opacity="0.3" stroke-width="0.35"/>
<rect x="459.00" y="186.50" width="7.50" height="7.50" fill="#e6eff7" stroke="#ffffff" stroke-opacity="0.3" stroke-width="0.35"/>
<rect x="466.50" y="186.50" width="7.50" height="7.50" fill="#fafafa" stroke="#ffffff" stroke-opacity="0.3" stroke-width="0.35"/>
<rect x="474.00" y="186.50" width="7.50" height="7.50" fill="#f2cbb3" stroke="#ffffff" stroke-opacity="0.3" stroke-width="0.35"/>
<rect x="481.50" y="186.50" width="7.50" height="7.50" fill="#fbfbfb" stroke="#ffffff" stroke-opacity="0.3" stroke-width="0.35"/>
<rect x="429.00" y="194.00" width="7.50" height="7.50" fill="#fae9de" stroke="#ffffff" stroke-opacity="0.3" stroke-width="0.35"/>
<rect x="436.50" y="194.00" width="7.50" height="7.50" fill="#f9e5d8" stroke="#ffffff" stroke-opacity="0.3" stroke-width="0.35"/>
<rect x="444.00" y="194.00" width="7.50" height="7.50" fill="#abcae4" stroke="#ffffff" stroke-opacity="0.3" stroke-width="0.35"/>
<rect x="451.50" y="194.00" width="7.50" height="7.50" fill="#fbece2" stroke="#ffffff" stroke-opacity="0.3" stroke-width="0.35"/>
<rect x="459.00" y="194.00" width="7.50" height="7.50" fill="#eebb9e" stroke="#ffffff" stroke-opacity="0.3" stroke-width="0.35"/>
<rect x="466.50" y="194.00" width="7.50" height="7.50" fill="#d6e6f2" stroke="#ffffff" stroke-opacity="0.3" stroke-width="0.35"/>
<rect x="474.00" y="194.00" width="7.50" height="7.50" fill="#fbece2" stroke="#ffffff" stroke-opacity="0.3" stroke-width="0.35"/>
<rect x="481.50" y="194.00" width="7.50" height="7.50" fill="#fbece2" stroke="#ffffff" stroke-opacity="0.3" stroke-width="0.35"/>
<rect x="436.50" y="201.50" width="7.50" height="7.50" fill="#fcefe6" stroke="#ffffff" stroke-opacity="0.3" stroke-width="0.35"/>
<rect x="444.00" y="201.50" width="7.50" height="7.50" fill="#f7e0d1" stroke="#ffffff" stroke-opacity="0.3" stroke-width="0.35"/>
<rect x="451.50" y="201.50" width="7.50" height="7.50" fill="#f7e0d1" stroke="#ffffff" stroke-opacity="0.3" stroke-width="0.35"/>
<rect x="459.00" y="201.50" width="7.50" height="7.50" fill="#b8d3e9" stroke="#ffffff" stroke-opacity="0.3" stroke-width="0.35"/>
<rect x="466.50" y="201.50" width="7.50" height="7.50" fill="#d6e6f2" stroke="#ffffff" stroke-opacity="0.3" stroke-width="0.35"/>
<rect x="474.00" y="201.50" width="7.50" height="7.50" fill="#5c8fc5" stroke="#ffffff" stroke-opacity="0.3" stroke-width="0.35"/>
<circle cx="476.00" cy="205.45" r="0.7" fill="#111"/>
<circle cx="477.75" cy="205.45" r="0.7" fill="#111"/>
<circle cx="479.50" cy="205.45" r="0.7" fill="#111"/>
<rect x="481.50" y="201.50" width="7.50" height="7.50" fill="#f5d9c6" stroke="#ffffff" stroke-opacity="0.3" stroke-width="0.35"/>
<rect x="444.00" y="209.00" width="7.50" height="7.50" fill="#f7e0d1" stroke="#ffffff" stroke-opacity="0.3" stroke-width="0.35"/>
<rect x="451.50" y="209.00" width="7.50" height="7.50" fill="#c7ddee" stroke="#ffffff" stroke-opacity="0.3" stroke-width="0.35"/>
<rect x="459.00" y="209.00" width="7.50" height="7.50" fill="#eef5fa" stroke="#ffffff" stroke-opacity="0.3" stroke-width="0.35"/>
<rect x="466.50" y="209.00" width="7.50" height="7.50" fill="#f0c4a9" stroke="#ffffff" stroke-opacity="0.3" stroke-width="0.35"/>
<rect x="474.00" y="209.00" width="7.50" height="7.50" fill="#f5d9c6" stroke="#ffffff" stroke-opacity="0.3" stroke-width="0.35"/>
<rect x="481.50" y="209.00" width="7.50" height="7.50" fill="#f5d5c0" stroke="#ffffff" stroke-opacity="0.3" stroke-width="0.35"/>
<rect x="451.50" y="216.50" width="7.50" height="7.50" fill="#f9e5d8" stroke="#ffffff" stroke-opacity="0.3" stroke-width="0.35"/>
<rect x="459.00" y="216.50" width="7.50" height="7.50" fill="#d9825f" stroke="#ffffff" stroke-opacity="0.3" stroke-width="0.35"/>
<circle cx="462.75" cy="220.45" r="0.7" fill="#111"/>
<rect x="466.50" y="216.50" width="7.50" height="7.50" fill="#b8d3e9" stroke="#ffffff" stroke-opacity="0.3" stroke-width="0.35"/>
<rect x="474.00" y="216.50" width="7.50" height="7.50" fill="#f9e5d8" stroke="#ffffff" stroke-opacity="0.3" stroke-width="0.35"/>
<rect x="481.50" y="216.50" width="7.50" height="7.50" fill="#f9e5d8" stroke="#ffffff" stroke-opacity="0.3" stroke-width="0.35"/>
<rect x="459.00" y="224.00" width="7.50" height="7.50" fill="#f7e0d1" stroke="#ffffff" stroke-opacity="0.3" stroke-width="0.35"/>
<rect x="466.50" y="224.00" width="7.50" height="7.50" fill="#e3eef6" stroke="#ffffff" stroke-opacity="0.3" stroke-width="0.35"/>
<rect x="474.00" y="224.00" width="7.50" height="7.50" fill="#f9e6da" stroke="#ffffff" stroke-opacity="0.3" stroke-width="0.35"/>
<rect x="481.50" y="224.00" width="7.50" height="7.50" fill="#9fc3e0" stroke="#ffffff" stroke-opacity="0.3" stroke-width="0.35"/>
<rect x="466.50" y="231.50" width="7.50" height="7.50" fill="#d67d5b" stroke="#ffffff" stroke-opacity="0.3" stroke-width="0.35"/>
<circle cx="470.25" cy="235.45" r="0.7" fill="#111"/>
<rect x="474.00" y="231.50" width="7.50" height="7.50" fill="#d3e5f1" stroke="#ffffff" stroke-opacity="0.3" stroke-width="0.35"/>
<rect x="481.50" y="231.50" width="7.50" height="7.50" fill="#f2cbb3" stroke="#ffffff" stroke-opacity="0.3" stroke-width="0.35"/>
<rect x="474.00" y="239.00" width="7.50" height="7.50" fill="#f5d5c0" stroke="#ffffff" stroke-opacity="0.3" stroke-width="0.35"/>
<rect x="481.50" y="239.00" width="7.50" height="7.50" fill="#b8d3e9" stroke="#ffffff" stroke-opacity="0.3" stroke-width="0.35"/>
<rect x="481.50" y="246.50" width="7.50" height="7.50" fill="#f8e1d2" stroke="#ffffff" stroke-opacity="0.3" stroke-width="0.35"/>
<text x="410.80" y="184.85" font-size="5.25" text-anchor="end" font-weight="normal" fill="#222" stroke="#222" stroke-width="0.13" >DNMT3A</text>
<text x="418.30" y="192.35" font-size="5.25" text-anchor="end" font-weight="normal" fill="#222" stroke="#222" stroke-width="0.13" >FLT3</text>
<text x="425.80" y="199.85" font-size="5.25" text-anchor="end" font-weight="normal" fill="#222" stroke="#222" stroke-width="0.13" >GATA2</text>
<text x="433.30" y="207.35" font-size="5.25" text-anchor="end" font-weight="normal" fill="#222" stroke="#222" stroke-width="0.13" >IDH1</text>
<text x="440.80" y="214.85" font-size="5.25" text-anchor="end" font-weight="normal" fill="#222" stroke="#222" stroke-width="0.13" >IDH2</text>
<text x="448.30" y="222.35" font-size="5.25" text-anchor="end" font-weight="normal" fill="#222" stroke="#222" stroke-width="0.13" >KIT</text>
<text x="455.80" y="229.85" font-size="5.25" text-anchor="end" font-weight="normal" fill="#222" stroke="#222" stroke-width="0.13" >KRAS</text>
<text x="463.30" y="237.35" font-size="5.25" text-anchor="end" font-weight="normal" fill="#222" stroke="#222" stroke-width="0.13" >NPM1</text>
<text x="470.80" y="244.85" font-size="5.25" text-anchor="end" font-weight="normal" fill="#222" stroke="#222" stroke-width="0.13" >NRAS</text>
<text x="478.30" y="252.35" font-size="5.25" text-anchor="end" font-weight="normal" fill="#222" stroke="#222" stroke-width="0.13" >PTPN11</text>
<text transform="translate(419.75,176.10) rotate(-90)" font-size="5.0" fill="#222" stroke="#222" stroke-width="0.12">FLT3</text>
<text transform="translate(427.25,176.10) rotate(-90)" font-size="5.0" fill="#222" stroke="#222" stroke-width="0.12">GATA2</text>
<text transform="translate(434.75,176.10) rotate(-90)" font-size="5.0" fill="#222" stroke="#222" stroke-width="0.12">IDH1</text>
<text transform="translate(442.25,176.10) rotate(-90)" font-size="5.0" fill="#222" stroke="#222" stroke-width="0.12">IDH2</text>
<text transform="translate(449.75,176.10) rotate(-90)" font-size="5.0" fill="#222" stroke="#222" stroke-width="0.12">KIT</text>
<text transform="translate(457.25,176.10) rotate(-90)" font-size="5.0" fill="#222" stroke="#222" stroke-width="0.12">KRAS</text>
<text transform="translate(464.75,176.10) rotate(-90)" font-size="5.0" fill="#222" stroke="#222" stroke-width="0.12">NPM1</text>
<text transform="translate(472.25,176.10) rotate(-90)" font-size="5.0" fill="#222" stroke="#222" stroke-width="0.12">NRAS</text>
<text transform="translate(479.75,176.10) rotate(-90)" font-size="5.0" fill="#222" stroke="#222" stroke-width="0.12">PTPN11</text>
<text transform="translate(487.25,176.10) rotate(-90)" font-size="5.0" fill="#222" stroke="#222" stroke-width="0.12">WT1</text>
<rect x="494.1" y="179.00" width="2.8" height="75.0" fill="url(#cb)" stroke="#222" stroke-width="0.45"/>
<line x1="496.9" y1="179.00" x2="499" y2="179.00" stroke="#222" stroke-width="0.5"/>
<text x="502.60" y="180.80" font-size="5.0" text-anchor="start" font-weight="normal" fill="#222" stroke="#222" stroke-width="0.13" >1</text>
<line x1="496.9" y1="186.50" x2="499" y2="186.50" stroke="#222" stroke-width="0.5"/>
<text x="502.60" y="188.30" font-size="5.0" text-anchor="start" font-weight="normal" fill="#222" stroke="#222" stroke-width="0.13" >0.8</text>
<line x1="496.9" y1="194.00" x2="499" y2="194.00" stroke="#222" stroke-width="0.5"/>
<text x="502.60" y="195.80" font-size="5.0" text-anchor="start" font-weight="normal" fill="#222" stroke="#222" stroke-width="0.13" >0.6</text>
<line x1="496.9" y1="201.50" x2="499" y2="201.50" stroke="#222" stroke-width="0.5"/>
<text x="502.60" y="203.30" font-size="5.0" text-anchor="start" font-weight="normal" fill="#222" stroke="#222" stroke-width="0.13" >0.4</text>
<line x1="496.9" y1="209.00" x2="499" y2="209.00" stroke="#222" stroke-width="0.5"/>
<text x="502.60" y="210.80" font-size="5.0" text-anchor="start" font-weight="normal" fill="#222" stroke="#222" stroke-width="0.13" >0.2</text>
<line x1="496.9" y1="216.50" x2="499" y2="216.50" stroke="#222" stroke-width="0.5"/>
<text x="502.60" y="218.30" font-size="5.0" text-anchor="start" font-weight="normal" fill="#222" stroke="#222" stroke-width="0.13" >0</text>
<line x1="496.9" y1="224.00" x2="499" y2="224.00" stroke="#222" stroke-width="0.5"/>
<text x="502.60" y="225.80" font-size="5.0" text-anchor="start" font-weight="normal" fill="#222" stroke="#222" stroke-width="0.13" >−0.2</text>
<line x1="496.9" y1="231.50" x2="499" y2="231.50" stroke="#222" stroke-width="0.5"/>
<text x="502.60" y="233.30" font-size="5.0" text-anchor="start" font-weight="normal" fill="#222" stroke="#222" stroke-width="0.13" >−0.4</text>
<line x1="496.9" y1="239.00" x2="499" y2="239.00" stroke="#222" stroke-width="0.5"/>
<text x="502.60" y="240.80" font-size="5.0" text-anchor="start" font-weight="normal" fill="#222" stroke="#222" stroke-width="0.13" >−0.6</text>
<line x1="496.9" y1="246.50" x2="499" y2="246.50" stroke="#222" stroke-width="0.5"/>
<text x="502.60" y="248.30" font-size="5.0" text-anchor="start" font-weight="normal" fill="#222" stroke="#222" stroke-width="0.13" >−0.8</text>
<line x1="496.9" y1="254.00" x2="499" y2="254.00" stroke="#222" stroke-width="0.5"/>
<text x="502.60" y="255.80" font-size="5.0" text-anchor="start" font-weight="normal" fill="#222" stroke="#222" stroke-width="0.13" >−1</text>
<text x="389.20" y="292.90" font-size="11.3" text-anchor="start" font-weight="bold" fill="#000" >E</text>
<text x="452.20" y="290.50" font-size="7.3" text-anchor="middle" font-weight="normal" fill="#222" stroke="#222" stroke-width="0.13" >TCGA</text>
<rect x="414.00" y="317.30" width="7.50" height="7.50" fill="#fbf0e8" stroke="#ffffff" stroke-opacity="0.3" stroke-width="0.35"/>
<rect x="421.50" y="317.30" width="7.50" height="7.50" fill="#d5e5f1" stroke="#ffffff" stroke-opacity="0.3" stroke-width="0.35"/>
<rect x="429.00" y="317.30" width="7.50" height="7.50" fill="#d5e5f1" stroke="#ffffff" stroke-opacity="0.3" stroke-width="0.35"/>
<rect x="436.50" y="317.30" width="7.50" height="7.50" fill="#fbf1ea" stroke="#ffffff" stroke-opacity="0.3" stroke-width="0.35"/>
<rect x="444.00" y="317.30" width="7.50" height="7.50" fill="#f7e3d6" stroke="#ffffff" stroke-opacity="0.3" stroke-width="0.35"/>
<rect x="451.50" y="317.30" width="7.50" height="7.50" fill="#fdfdfd" stroke="#ffffff" stroke-opacity="0.3" stroke-width="0.35"/>
<rect x="459.00" y="317.30" width="7.50" height="7.50" fill="#dce9f3" stroke="#ffffff" stroke-opacity="0.3" stroke-width="0.35"/>
<rect x="466.50" y="317.30" width="7.50" height="7.50" fill="#fcf4ee" stroke="#ffffff" stroke-opacity="0.3" stroke-width="0.35"/>
<rect x="474.00" y="317.30" width="7.50" height="7.50" fill="#fcf4ee" stroke="#ffffff" stroke-opacity="0.3" stroke-width="0.35"/>
<rect x="481.50" y="317.30" width="7.50" height="7.50" fill="#f5d9c6" stroke="#ffffff" stroke-opacity="0.3" stroke-width="0.35"/>
<rect x="421.50" y="324.80" width="7.50" height="7.50" fill="#f1f6fa" stroke="#ffffff" stroke-opacity="0.3" stroke-width="0.35"/>
<rect x="429.00" y="324.80" width="7.50" height="7.50" fill="#f5d9c6" stroke="#ffffff" stroke-opacity="0.3" stroke-width="0.35"/>
<rect x="436.50" y="324.80" width="7.50" height="7.50" fill="#f2cdb5" stroke="#ffffff" stroke-opacity="0.3" stroke-width="0.35"/>
<circle cx="439.38" cy="328.75" r="0.7" fill="#111"/>
<circle cx="441.12" cy="328.75" r="0.7" fill="#111"/>
<rect x="444.00" y="324.80" width="7.50" height="7.50" fill="#f6dece" stroke="#ffffff" stroke-opacity="0.3" stroke-width="0.35"/>
<rect x="451.50" y="324.80" width="7.50" height="7.50" fill="#f4d7c4" stroke="#ffffff" stroke-opacity="0.3" stroke-width="0.35"/>
<rect x="459.00" y="324.80" width="7.50" height="7.50" fill="#deebf4" stroke="#ffffff" stroke-opacity="0.3" stroke-width="0.35"/>
<rect x="466.50" y="324.80" width="7.50" height="7.50" fill="#f4d7c4" stroke="#ffffff" stroke-opacity="0.3" stroke-width="0.35"/>
<rect x="474.00" y="324.80" width="7.50" height="7.50" fill="#f9e9df" stroke="#ffffff" stroke-opacity="0.3" stroke-width="0.35"/>
<rect x="481.50" y="324.80" width="7.50" height="7.50" fill="#fcf2ec" stroke="#ffffff" stroke-opacity="0.3" stroke-width="0.35"/>
<rect x="429.00" y="332.30" width="7.50" height="7.50" fill="#fcf1ea" stroke="#ffffff" stroke-opacity="0.3" stroke-width="0.35"/>
<rect x="436.50" y="332.30" width="7.50" height="7.50" fill="#fcf2ec" stroke="#ffffff" stroke-opacity="0.3" stroke-width="0.35"/>
<rect x="444.00" y="332.30" width="7.50" height="7.50" fill="#fcf1ea" stroke="#ffffff" stroke-opacity="0.3" stroke-width="0.35"/>
<rect x="451.50" y="332.30" width="7.50" height="7.50" fill="#fcf2ec" stroke="#ffffff" stroke-opacity="0.3" stroke-width="0.35"/>
<rect x="459.00" y="332.30" width="7.50" height="7.50" fill="#fcf1ea" stroke="#ffffff" stroke-opacity="0.3" stroke-width="0.35"/>
<rect x="466.50" y="332.30" width="7.50" height="7.50" fill="#fcf2ec" stroke="#ffffff" stroke-opacity="0.3" stroke-width="0.35"/>
<rect x="474.00" y="332.30" width="7.50" height="7.50" fill="#fcf1ea" stroke="#ffffff" stroke-opacity="0.3" stroke-width="0.35"/>
<rect x="481.50" y="332.30" width="7.50" height="7.50" fill="#fcf2ec" stroke="#ffffff" stroke-opacity="0.3" stroke-width="0.35"/>
<rect x="436.50" y="339.80" width="7.50" height="7.50" fill="#f8e6da" stroke="#ffffff" stroke-opacity="0.3" stroke-width="0.35"/>
<rect x="444.00" y="339.80" width="7.50" height="7.50" fill="#fcfaf8" stroke="#ffffff" stroke-opacity="0.3" stroke-width="0.35"/>
<rect x="451.50" y="339.80" width="7.50" height="7.50" fill="#f9e8dc" stroke="#ffffff" stroke-opacity="0.3" stroke-width="0.35"/>
<rect x="459.00" y="339.80" width="7.50" height="7.50" fill="#eaf1f8" stroke="#ffffff" stroke-opacity="0.3" stroke-width="0.35"/>
<rect x="466.50" y="339.80" width="7.50" height="7.50" fill="#fcfcfc" stroke="#ffffff" stroke-opacity="0.3" stroke-width="0.35"/>
<rect x="474.00" y="339.80" width="7.50" height="7.50" fill="#eaf2f8" stroke="#ffffff" stroke-opacity="0.3" stroke-width="0.35"/>
<rect x="481.50" y="339.80" width="7.50" height="7.50" fill="#fcf0e8" stroke="#ffffff" stroke-opacity="0.3" stroke-width="0.35"/>
<rect x="444.00" y="347.30" width="7.50" height="7.50" fill="#f8e4d7" stroke="#ffffff" stroke-opacity="0.3" stroke-width="0.35"/>
<rect x="451.50" y="347.30" width="7.50" height="7.50" fill="#dbe8f3" stroke="#ffffff" stroke-opacity="0.3" stroke-width="0.35"/>
<rect x="459.00" y="347.30" width="7.50" height="7.50" fill="#f3cfb8" stroke="#ffffff" stroke-opacity="0.3" stroke-width="0.35"/>
<circle cx="461.88" cy="351.25" r="0.7" fill="#111"/>
<circle cx="463.62" cy="351.25" r="0.7" fill="#111"/>
<rect x="466.50" y="347.30" width="7.50" height="7.50" fill="#f6dfcf" stroke="#ffffff" stroke-opacity="0.3" stroke-width="0.35"/>
<rect x="474.00" y="347.30" width="7.50" height="7.50" fill="#f8e5d8" stroke="#ffffff" stroke-opacity="0.3" stroke-width="0.35"/>
<rect x="481.50" y="347.30" width="7.50" height="7.50" fill="#fbefe7" stroke="#ffffff" stroke-opacity="0.3" stroke-width="0.35"/>
<rect x="451.50" y="354.80" width="7.50" height="7.50" fill="#fbeee5" stroke="#ffffff" stroke-opacity="0.3" stroke-width="0.35"/>
<rect x="459.00" y="354.80" width="7.50" height="7.50" fill="#fbeee5" stroke="#ffffff" stroke-opacity="0.3" stroke-width="0.35"/>
<rect x="466.50" y="354.80" width="7.50" height="7.50" fill="#fbeee5" stroke="#ffffff" stroke-opacity="0.3" stroke-width="0.35"/>
<rect x="474.00" y="354.80" width="7.50" height="7.50" fill="#fbeee5" stroke="#ffffff" stroke-opacity="0.3" stroke-width="0.35"/>
<rect x="481.50" y="354.80" width="7.50" height="7.50" fill="#f1f6fa" stroke="#ffffff" stroke-opacity="0.3" stroke-width="0.35"/>
<rect x="459.00" y="362.30" width="7.50" height="7.50" fill="#fbece2" stroke="#ffffff" stroke-opacity="0.3" stroke-width="0.35"/>
<rect x="466.50" y="362.30" width="7.50" height="7.50" fill="#fbece2" stroke="#ffffff" stroke-opacity="0.3" stroke-width="0.35"/>
<rect x="474.00" y="362.30" width="7.50" height="7.50" fill="#fbeee5" stroke="#ffffff" stroke-opacity="0.3" stroke-width="0.35"/>
<rect x="481.50" y="362.30" width="7.50" height="7.50" fill="#f9e8dc" stroke="#ffffff" stroke-opacity="0.3" stroke-width="0.35"/>
<rect x="466.50" y="369.80" width="7.50" height="7.50" fill="#fcf4ee" stroke="#ffffff" stroke-opacity="0.3" stroke-width="0.35"/>
<rect x="474.00" y="369.80" width="7.50" height="7.50" fill="#d8e7f2" stroke="#ffffff" stroke-opacity="0.3" stroke-width="0.35"/>
<rect x="481.50" y="369.80" width="7.50" height="7.50" fill="#ebf2f8" stroke="#ffffff" stroke-opacity="0.3" stroke-width="0.35"/>
<rect x="474.00" y="377.30" width="7.50" height="7.50" fill="#fcf8f5" stroke="#ffffff" stroke-opacity="0.3" stroke-width="0.35"/>
<rect x="481.50" y="377.30" width="7.50" height="7.50" fill="#fcf0e8" stroke="#ffffff" stroke-opacity="0.3" stroke-width="0.35"/>
<rect x="481.50" y="384.80" width="7.50" height="7.50" fill="#f9fafb" stroke="#ffffff" stroke-opacity="0.3" stroke-width="0.35"/>
<text x="410.80" y="323.15" font-size="5.25" text-anchor="end" font-weight="normal" fill="#222" stroke="#222" stroke-width="0.13" >DNMT3A</text>
<text x="418.30" y="330.65" font-size="5.25" text-anchor="end" font-weight="normal" fill="#222" stroke="#222" stroke-width="0.13" >FLT3</text>
<text x="425.80" y="338.15" font-size="5.25" text-anchor="end" font-weight="normal" fill="#222" stroke="#222" stroke-width="0.13" >GATA2</text>
<text x="433.30" y="345.65" font-size="5.25" text-anchor="end" font-weight="normal" fill="#222" stroke="#222" stroke-width="0.13" >IDH1</text>
<text x="440.80" y="353.15" font-size="5.25" text-anchor="end" font-weight="normal" fill="#222" stroke="#222" stroke-width="0.13" >IDH2</text>
<text x="448.30" y="360.65" font-size="5.25" text-anchor="end" font-weight="normal" fill="#222" stroke="#222" stroke-width="0.13" >KIT</text>
<text x="455.80" y="368.15" font-size="5.25" text-anchor="end" font-weight="normal" fill="#222" stroke="#222" stroke-width="0.13" >KRAS</text>
<text x="463.30" y="375.65" font-size="5.25" text-anchor="end" font-weight="normal" fill="#222" stroke="#222" stroke-width="0.13" >NPM1</text>
<text x="470.80" y="383.15" font-size="5.25" text-anchor="end" font-weight="normal" fill="#222" stroke="#222" stroke-width="0.13" >NRAS</text>
<text x="478.30" y="390.65" font-size="5.25" text-anchor="end" font-weight="normal" fill="#222" stroke="#222" stroke-width="0.13" >PTPN11</text>
<text transform="translate(419.75,314.40) rotate(-90)" font-size="5.0" fill="#222" stroke="#222" stroke-width="0.12">FLT3</text>
<text transform="translate(427.25,314.40) rotate(-90)" font-size="5.0" fill="#222" stroke="#222" stroke-width="0.12">GATA2</text>
<text transform="translate(434.75,314.40) rotate(-90)" font-size="5.0" fill="#222" stroke="#222" stroke-width="0.12">IDH1</text>
<text transform="translate(442.25,314.40) rotate(-90)" font-size="5.0" fill="#222" stroke="#222" stroke-width="0.12">IDH2</text>
<text transform="translate(449.75,314.40) rotate(-90)" font-size="5.0" fill="#222" stroke="#222" stroke-width="0.12">KIT</text>
<text transform="translate(457.25,314.40) rotate(-90)" font-size="5.0" fill="#222" stroke="#222" stroke-width="0.12">KRAS</text>
<text transform="translate(464.75,314.40) rotate(-90)" font-size="5.0" fill="#222" stroke="#222" stroke-width="0.12">NPM1</text>
<text transform="translate(472.25,314.40) rotate(-90)" font-size="5.0" fill="#222" stroke="#222" stroke-width="0.12">NRAS</text>
<text transform="translate(479.75,314.40) rotate(-90)" font-size="5.0" fill="#222" stroke="#222" stroke-width="0.12">PTPN11</text>
<text transform="translate(487.25,314.40) rotate(-90)" font-size="5.0" fill="#222" stroke="#222" stroke-width="0.12">WT1</text>
<rect x="494.1" y="317.30" width="2.8" height="75.0" fill="url(#cb)" stroke="#222" stroke-width="0.45"/>
<line x1="496.9" y1="317.30" x2="499" y2="317.30" stroke="#222" stroke-width="0.5"/>
<text x="502.60" y="319.10" font-size="5.0" text-anchor="start" font-weight="normal" fill="#222" stroke="#222" stroke-width="0.13" >1</text>
<line x1="496.9" y1="324.80" x2="499" y2="324.80" stroke="#222" stroke-width="0.5"/>
<text x="502.60" y="326.60" font-size="5.0" text-anchor="start" font-weight="normal" fill="#222" stroke="#222" stroke-width="0.13" >0.8</text>
<line x1="496.9" y1="332.30" x2="499" y2="332.30" stroke="#222" stroke-width="0.5"/>
<text x="502.60" y="334.10" font-size="5.0" text-anchor="start" font-weight="normal" fill="#222" stroke="#222" stroke-width="0.13" >0.6</text>
<line x1="496.9" y1="339.80" x2="499" y2="339.80" stroke="#222" stroke-width="0.5"/>
<text x="502.60" y="341.60" font-size="5.0" text-anchor="start" font-weight="normal" fill="#222" stroke="#222" stroke-width="0.13" >0.4</text>
<line x1="496.9" y1="347.30" x2="499" y2="347.30" stroke="#222" stroke-width="0.5"/>
<text x="502.60" y="349.10" font-size="5.0" text-anchor="start" font-weight="normal" fill="#222" stroke="#222" stroke-width="0.13" >0.2</text>
<line x1="496.9" y1="354.80" x2="499" y2="354.80" stroke="#222" stroke-width="0.5"/>
<text x="502.60" y="356.60" font-size="5.0" text-anchor="start" font-weight="normal" fill="#222" stroke="#222" stroke-width="0.13" >0</text>
<line x1="496.9" y1="362.30" x2="499" y2="362.30" stroke="#222" stroke-width="0.5"/>
<text x="502.60" y="364.10" font-size="5.0" text-anchor="start" font-weight="normal" fill="#222" stroke="#222" stroke-width="0.13" >−0.2</text>
<line x1="496.9" y1="369.80" x2="499" y2="369.80" stroke="#222" stroke-width="0.5"/>
<text x="502.60" y="371.60" font-size="5.0" text-anchor="start" font-weight="normal" fill="#222" stroke="#222" stroke-width="0.13" >−0.4</text>
<line x1="496.9" y1="377.30" x2="499" y2="377.30" stroke="#222" stroke-width="0.5"/>
<text x="502.60" y="379.10" font-size="5.0" text-anchor="start" font-weight="normal" fill="#222" stroke="#222" stroke-width="0.13" >−0.6</text>
<line x1="496.9" y1="384.80" x2="499" y2="384.80" stroke="#222" stroke-width="0.5"/>
<text x="502.60" y="386.60" font-size="5.0" text-anchor="start" font-weight="normal" fill="#222" stroke="#222" stroke-width="0.13" >−0.8</text>
<line x1="496.9" y1="392.30" x2="499" y2="392.30" stroke="#222" stroke-width="0.5"/>
<text x="502.60" y="394.10" font-size="5.0" text-anchor="start" font-weight="normal" fill="#222" stroke="#222" stroke-width="0.13" >−1</text>
<text x="389.40" y="426.00" font-size="11.0" text-anchor="start" font-weight="bold" fill="#000" >F</text>
<text x="464.10" y="435.60" font-size="7.1" text-anchor="middle" font-weight="normal" fill="#222" stroke="#222" stroke-width="0.13" >Mutations per Clone</text>
<text x="484.40" y="448.00" font-size="4.65" text-anchor="start" font-weight="normal" fill="#222" stroke="#222" stroke-width="0.13" >P-val: 0.01</text>
<path d="M446.65,443.20 L446.60,450.00 L446.60,456.00 L447.60,462.00 L449.00,469.00 L450.30,474.00 L452.10,478.80 L454.00,482.00 L456.10,485.20 L457.80,488.50 L459.00,491.70 L459.80,496.50 L459.30,500.50 L458.60,504.60 L458.70,508.00 L459.10,511.00 L459.60,515.00 L459.80,519.00 L459.80,522.60 L424.20,522.60 L424.20,519.00 L424.40,515.00 L424.90,511.00 L425.30,508.00 L425.40,504.60 L424.70,500.50 L424.20,496.50 L425.00,491.70 L426.20,488.50 L427.90,485.20 L430.00,482.00 L431.90,478.80 L433.70,474.00 L435.00,469.00 L436.40,462.00 L437.40,456.00 L437.40,450.00 L437.35,443.20 Z" fill="#8fbbe6" stroke="#1a1a1a" stroke-width="0.9" stroke-linejoin="round"/>
<path d="M499.00,496.50 L497.30,499.60 L495.80,502.00 L494.40,504.40 L493.40,506.50 L493.00,508.30 L493.50,510.20 L494.70,512.10 L497.00,514.00 L500.00,516.00 L503.30,518.80 L504.60,521.00 L505.00,522.70 L469.00,522.70 L469.40,521.00 L470.70,518.80 L474.00,516.00 L477.00,514.00 L479.30,512.10 L480.50,510.20 L481.00,508.30 L480.60,506.50 L479.60,504.40 L478.20,502.00 L476.70,499.60 L475.00,496.50 Z" fill="#5b6ea6" stroke="#1a1a1a" stroke-width="0.9" stroke-linejoin="round"/>
<rect x="440.6" y="456.6" width="2.8" height="40.0" fill="#eef3f9"/>
<rect x="441.2" y="457.0" width="1.6" height="39.5" fill="#44566c"/>
<rect x="440.7" y="496.5" width="2.6" height="26.2" fill="#000"/>
<circle cx="442.0" cy="496.9" r="0.9" fill="#fff"/>
<rect x="485.8" y="496.5" width="2.4" height="26.2" fill="#000"/>
<line x1="416.6" y1="441.6" x2="416.6" y2="526.2" stroke="#222" stroke-width="1"/>
<line x1="416.1" y1="526.0" x2="512.8" y2="526.0" stroke="#222" stroke-width="1.3"/>
<line x1="414.4" y1="522.90" x2="416.6" y2="522.90" stroke="#222" stroke-width="0.8"/>
<text x="410.20" y="524.60" font-size="4.8" text-anchor="end" font-weight="normal" fill="#222" stroke="#222" stroke-width="0.13" >1.0</text>
<line x1="414.4" y1="496.50" x2="416.6" y2="496.50" stroke="#222" stroke-width="0.8"/>
<text x="410.20" y="498.20" font-size="4.8" text-anchor="end" font-weight="normal" fill="#222" stroke="#222" stroke-width="0.13" >2.0</text>
<line x1="414.4" y1="470.10" x2="416.6" y2="470.10" stroke="#222" stroke-width="0.8"/>
<text x="410.20" y="471.80" font-size="4.8" text-anchor="end" font-weight="normal" fill="#222" stroke="#222" stroke-width="0.13" >3.0</text>
<line x1="414.4" y1="443.70" x2="416.6" y2="443.70" stroke="#222" stroke-width="0.8"/>
<text x="410.20" y="445.40" font-size="4.8" text-anchor="end" font-weight="normal" fill="#222" stroke="#222" stroke-width="0.13" >4.0</text>
<line x1="442.0" y1="525.8" x2="442.0" y2="528.3" stroke="#222" stroke-width="0.8"/>
<text x="442.00" y="536.60" font-size="5.1" text-anchor="middle" font-weight="normal" fill="#222" stroke="#222" stroke-width="0.13" >Relapsed</text>
<line x1="487.0" y1="525.8" x2="487.0" y2="528.3" stroke="#222" stroke-width="0.8"/>
<text x="487.00" y="536.60" font-size="5.1" text-anchor="middle" font-weight="normal" fill="#222" stroke="#222" stroke-width="0.13" >Remission</text>
<rect x="0.5" y="0.5" width="519" height="544" fill="none" stroke="#000" stroke-width="1"/>
</svg></div></body></html>
